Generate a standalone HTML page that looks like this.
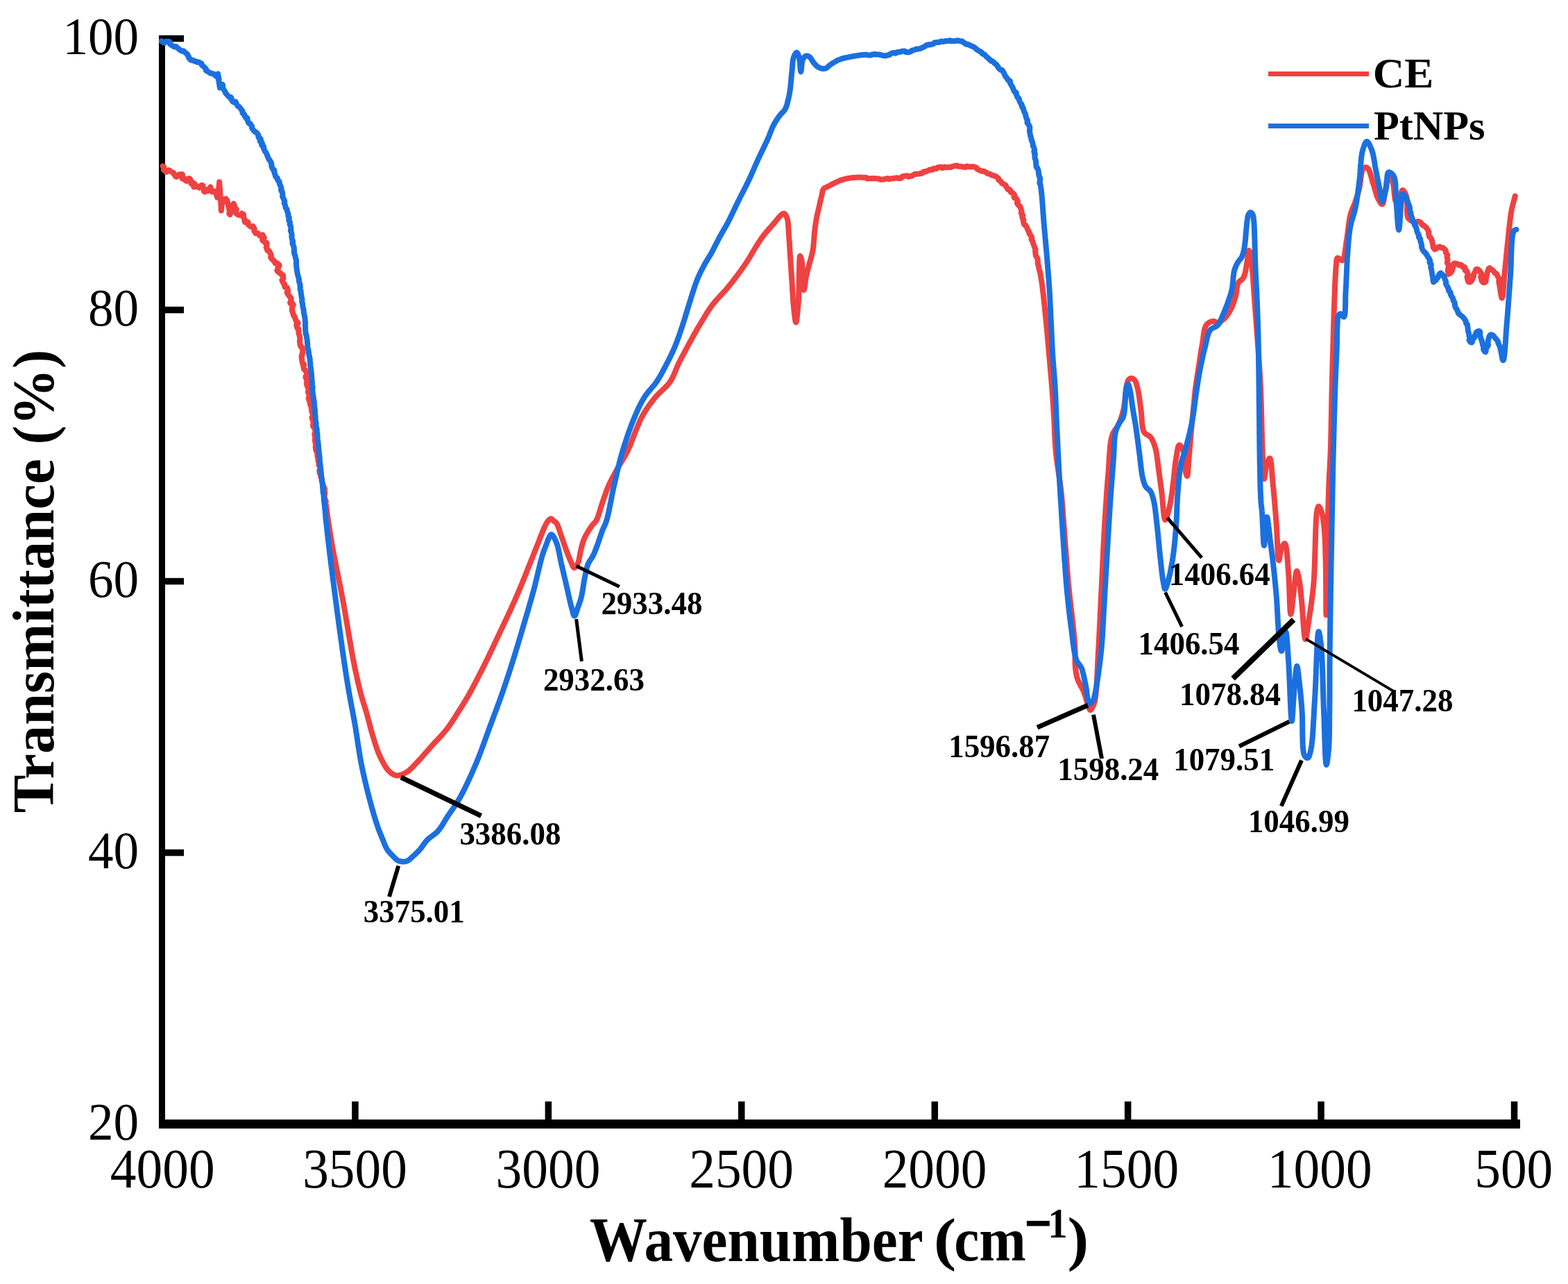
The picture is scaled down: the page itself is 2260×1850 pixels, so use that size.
<!DOCTYPE html>
<html><head><meta charset="utf-8"><title>FTIR spectra</title><style>html,body{margin:0;padding:0;background:#fff;overflow:hidden}svg{display:block}</style></head><body>
<svg xmlns="http://www.w3.org/2000/svg" width="2260" height="1850" viewBox="0 0 2260 1850" font-family="'Liberation Serif', 'Times New Roman', serif">
<rect width="100%" height="100%" fill="#fff"/>
<rect x="229" y="51" width="9" height="1575" fill="#000"/>
<rect x="229" y="1613" width="1962" height="13" fill="#000"/>
<rect x="229" y="50.8" width="36" height="9.5" fill="#000"/>
<rect x="229" y="441.8" width="36" height="9.5" fill="#000"/>
<rect x="229" y="832.8" width="36" height="9.5" fill="#000"/>
<rect x="229" y="1223.8" width="36" height="9.5" fill="#000"/>
<rect x="507.2" y="1587" width="9.5" height="30" fill="#000"/>
<rect x="785.6" y="1587" width="9.5" height="30" fill="#000"/>
<rect x="1064.0" y="1587" width="9.5" height="30" fill="#000"/>
<rect x="1342.5" y="1587" width="9.5" height="30" fill="#000"/>
<rect x="1620.9" y="1587" width="9.5" height="30" fill="#000"/>
<rect x="1899.3" y="1587" width="9.5" height="30" fill="#000"/>
<rect x="2177.8" y="1587" width="9.5" height="30" fill="#000"/>
<path d="M234.7 239.3L236.2 240.0L235.8 244.9L237.3 245.6L238.5 247.1L240.0 247.8L243.0 245.0L244.5 245.7L245.7 246.9L247.2 247.7L248.7 248.2L250.1 249.0L250.8 251.1L252.2 251.9L252.8 254.1L254.2 254.9L257.9 251.3L259.3 252.1L261.7 250.8L263.0 251.4L262.2 257.1L263.6 257.7L265.6 257.2L267.0 257.8L267.6 260.3L268.9 260.9L272.6 257.0L274.0 257.8L274.6 260.1L275.9 261.1L275.3 264.2L276.4 265.1L279.4 263.9L280.5 264.7L279.4 269.4L280.9 269.2L281.8 268.4L283.3 267.7L287.2 270.5L288.6 268.2L290.9 266.7L292.4 267.3L292.7 270.9L294.2 271.5L294.0 275.9L295.5 276.5L298.0 274.5L299.5 275.1L301.8 271.2L303.3 269.4L304.4 274.1L305.8 276.6L308.7 275.3L310.2 276.4L311.2 278.1L312.4 279.3L312.1 281.7L313.0 282.8L313.2 284.6L314.2 284.3L316.2 262.2L317.4 279.1L318.9 303.5L320.2 292.3L321.7 287.2L323.3 288.0L324.1 290.0L325.3 286.4L327.0 287.8L328.2 292.3L330.8 304.4L332.1 300.1L330.3 307.8L331.6 309.1L333.1 301.7L334.4 300.3L335.3 297.4L336.6 293.3L339.7 300.8L340.9 301.6L339.6 306.5L340.9 307.3L341.8 308.7L343.0 309.5L347.2 310.2L348.5 307.3L349.9 308.2L351.1 309.3L350.3 312.3L351.4 313.5L351.8 315.2L352.8 316.4L352.4 318.9L353.4 320.2L356.8 319.5L357.8 320.8L357.5 323.3L358.6 324.5L360.0 325.4L361.1 326.6L364.2 325.8L365.3 326.9L365.7 328.8L366.8 329.9L366.2 332.7L367.2 333.8L367.9 335.3L368.8 336.3L371.5 336.0L372.4 337.1L373.5 338.1L374.3 339.4L378.5 338.4L379.3 339.7L380.0 341.1L380.8 342.4L378.1 345.6L378.8 346.9L380.7 347.6L381.5 349.0L384.1 349.4L384.9 350.9L383.9 353.0L384.5 354.3L383.7 356.4L384.4 357.8L384.7 359.3L385.4 360.8L387.8 361.4L388.5 362.9L389.4 364.3L390.1 365.7L390.4 367.3L391.1 368.7L390.1 370.9L390.8 372.3L392.3 373.1L392.9 374.4L394.6 375.0L395.4 376.5L396.0 378.0L396.8 379.3L399.8 379.2L400.6 380.5L402.0 381.3L402.7 382.6L400.4 385.6L401.1 386.9L399.3 389.6L400.0 391.0L401.8 391.8L402.5 393.2L404.6 393.9L405.3 395.4L407.5 396.1L408.2 397.7L407.9 399.7L408.5 401.1L406.3 403.6L406.9 405.0L407.6 406.4L408.3 407.9L410.0 408.9L410.6 410.4L410.1 412.3L410.7 413.9L413.9 414.4L414.5 415.9L414.6 417.6L415.2 419.2L413.6 421.4L414.1 422.9L415.5 424.0L416.0 425.4L417.3 426.5L417.8 428.0L419.4 429.1L419.8 430.5L419.4 432.2L419.8 433.7L418.1 435.8L418.5 437.3L422.4 437.9L422.8 439.5L421.1 441.7L421.4 443.0L420.9 444.6L421.2 446.0L421.0 447.6L421.4 449.0L422.1 450.4L422.5 451.8L422.7 453.3L423.1 454.8L424.6 456.1L425.0 457.6L425.6 459.0L425.9 460.6L426.9 462.0L427.2 463.5L429.3 464.6L429.6 466.2L427.2 468.3L427.5 469.8L428.1 471.2L428.4 472.7L430.3 473.9L430.6 475.4L430.2 477.0L430.4 478.5L430.5 480.0L430.8 481.4L431.5 482.8L431.7 484.3L432.2 485.8L432.4 487.3L432.0 488.9L432.2 490.3L431.9 491.9L432.1 493.4L432.2 494.9L432.4 496.4L433.2 497.8L433.4 499.3L435.5 500.5L435.7 501.9L435.8 503.4L436.1 504.9L436.4 506.4L436.7 507.8L435.5 509.6L435.8 511.1L434.5 512.8L434.8 514.3L434.7 515.8L435.0 517.3L435.2 518.8L435.4 520.3L435.6 521.7L435.8 523.2L438.0 524.4L438.3 525.9L437.1 527.6L437.4 529.0L437.7 530.5L438.0 532.0L440.3 533.2L440.5 534.6L441.6 536.1L441.9 537.6L442.4 539.1L442.6 540.7L440.4 542.5L440.6 544.1L441.7 545.5L441.9 547.1L442.8 548.5L443.0 550.1L441.8 551.8L442.0 553.4L442.6 554.9L442.8 556.4L444.0 557.8L444.2 559.4L444.5 560.9L444.8 562.5L443.8 564.2L444.1 565.8L445.1 567.2L445.3 568.7L445.5 570.2L445.8 571.7L444.7 573.4L445.0 574.9L445.5 576.3L445.8 577.8L446.6 579.2L446.9 580.7L447.0 582.2L447.3 583.8L448.8 585.0L449.1 586.6L448.8 588.2L449.1 589.8L449.0 591.4L449.3 593.0L450.1 594.5L450.4 596.1L451.1 597.6L451.4 599.3L449.5 601.0L449.7 602.4L450.3 603.8L450.5 605.3L451.7 606.6L451.9 608.2L451.3 609.8L451.5 611.3L450.9 612.9L451.1 614.5L453.1 615.8L453.3 617.4L454.1 618.9L454.3 620.4L454.4 622.0L454.6 623.6L453.2 625.3L453.4 626.9L454.5 628.4L454.7 629.9L453.8 631.6L454.0 633.1L453.9 634.7L454.1 636.2L454.5 637.7L454.7 639.2L455.8 640.6L456.0 642.0L454.6 643.7L454.8 645.1L455.0 646.8L455.2 648.4L456.1 649.9L456.4 651.5L457.5 653.0L457.8 654.6L457.3 656.3L457.6 657.9L458.2 659.5L458.4 661.0L458.4 662.7L458.6 664.2L459.3 665.7L459.6 667.2L459.3 668.8L459.6 670.3L460.9 671.5L461.1 673.0L461.2 674.4L461.5 675.8L460.3 677.5L460.5 678.8L460.5 680.2L460.8 681.9L462.2 683.3L462.6 684.8L462.2 686.4L462.6 687.9L463.7 689.1L464.1 690.4L463.5 692.1L463.9 693.5L464.3 695.0L464.7 696.6L465.6 698.2L466.0 700.0L466.7 701.1L466.9 702.4L467.8 703.5L468.0 704.9L466.9 706.4L467.1 707.8L468.3 709.1L468.5 710.6L467.7 712.2L467.9 713.7L467.5 715.3L467.7 716.9L468.4 718.4L468.6 720.0L469.6 721.5L469.8 723.1L469.2 724.8L469.4 726.4L470.1 728.0L470.3 729.6L470.5 731.3L470.7 732.9L470.9 734.5L471.1 736.2L471.3 737.8L471.5 739.4L471.7 740.9L471.9 742.5L472.1 744.1L472.4 745.6L472.6 747.1L472.8 748.6L473.0 750.0L473.2 751.6L473.5 753.1L473.7 754.6L473.9 756.1L474.1 757.5L474.4 759.0L474.6 760.4L474.8 761.8L475.0 763.2L475.2 764.6L475.5 766.0L475.7 767.4L475.9 768.8L476.1 770.2L476.4 771.6L476.6 773.1L476.8 774.5L477.1 775.9L477.3 777.4L477.6 778.9L477.8 780.4L478.1 781.9L478.3 783.5L478.6 785.0L478.9 786.7L479.2 788.3L479.5 790.0L479.7 791.3L480.0 792.5L480.2 793.8L480.4 795.2L480.7 796.5L480.9 797.8L481.2 799.2L481.5 800.5L481.7 801.9L482.0 803.3L482.3 804.7L482.5 806.1L482.8 807.5L483.1 808.9L483.4 810.4L483.7 811.8L484.0 813.3L484.3 814.7L484.6 816.2L484.9 817.7L485.2 819.2L485.5 820.7L485.8 822.2L486.1 823.7L486.4 825.2L486.7 826.7L487.0 828.3L487.3 829.8L487.6 831.4L487.9 832.9L488.3 834.5L488.6 836.0L488.9 837.6L489.2 839.1L489.5 840.7L489.8 842.3L490.1 843.8L490.5 845.4L490.8 847.0L491.1 848.6L491.4 850.1L491.7 851.7L492.0 853.3L492.3 854.9L492.6 856.4L492.9 858.0L493.2 859.6L493.5 861.2L493.8 862.7L494.1 864.3L494.4 865.7L494.6 867.1L494.9 868.6L495.2 870.0L495.4 871.5L495.7 873.0L495.9 874.5L496.2 876.0L496.5 877.5L496.7 879.0L497.0 880.5L497.3 882.0L497.5 883.6L497.8 885.1L498.1 886.7L498.3 888.2L498.6 889.8L498.9 891.4L499.1 892.9L499.4 894.5L499.7 896.1L499.9 897.7L500.2 899.3L500.5 900.8L500.7 902.4L501.0 904.0L501.3 905.6L501.5 907.2L501.8 908.8L502.1 910.3L502.3 911.9L502.6 913.5L502.9 915.1L503.1 916.6L503.4 918.2L503.7 919.8L503.9 921.3L504.2 922.9L504.5 924.4L504.7 925.9L505.0 927.4L505.2 929.0L505.5 930.5L505.8 932.0L506.0 933.4L506.3 934.9L506.5 936.4L506.8 937.8L507.0 939.3L507.3 940.7L507.6 942.1L507.8 943.5L508.1 944.9L508.3 946.2L508.6 947.6L508.8 948.9L509.1 950.2L509.3 951.5L509.6 952.8L509.8 954.0L510.1 955.3L510.3 956.5L510.7 958.3L511.0 960.0L511.4 961.7L511.7 963.4L512.1 965.1L512.4 966.7L512.7 968.3L513.1 969.9L513.4 971.5L513.8 973.1L514.1 974.6L514.4 976.1L514.8 977.6L515.1 979.1L515.4 980.6L515.8 982.0L516.1 983.5L516.4 984.9L516.8 986.3L517.1 987.7L517.5 989.1L517.8 990.5L518.1 991.9L518.5 993.2L518.8 994.6L519.2 996.0L519.5 997.3L519.8 998.7L520.2 1000.0L520.6 1001.6L521.0 1003.1L521.5 1004.6L521.9 1006.1L522.3 1007.6L522.8 1009.1L523.2 1010.5L523.6 1011.9L524.1 1013.3L524.5 1014.7L524.9 1016.1L525.4 1017.5L525.8 1018.9L526.2 1020.2L526.7 1021.6L527.1 1023.0L527.5 1024.5L528.0 1025.9L528.4 1027.3L528.8 1028.8L529.2 1030.3L529.6 1031.8L530.0 1033.3L530.4 1034.8L530.8 1036.3L531.2 1037.8L531.6 1039.3L532.0 1040.8L532.4 1042.4L532.8 1043.9L533.2 1045.4L533.6 1047.0L534.0 1048.5L534.4 1050.0L534.8 1051.5L535.2 1053.0L535.6 1054.6L536.1 1056.1L536.5 1057.5L536.9 1059.0L537.4 1060.5L537.9 1062.0L538.3 1063.5L538.8 1065.0L539.2 1066.5L539.7 1067.9L540.2 1069.4L540.6 1070.9L541.1 1072.4L541.6 1073.9L542.1 1075.3L542.6 1076.8L543.1 1078.2L543.6 1079.7L544.1 1081.1L544.6 1082.5L545.2 1083.9L545.7 1085.3L546.3 1086.6L546.9 1088.0L547.5 1089.3L548.2 1090.8L548.9 1092.3L549.7 1093.8L550.4 1095.3L551.2 1096.9L552.0 1098.4L552.8 1099.8L553.6 1101.3L554.4 1102.7L555.2 1104.1L556.1 1105.4L556.9 1106.6L557.8 1107.8L558.7 1108.9L559.6 1110.0L560.5 1110.9L561.8 1112.2L563.2 1113.3L564.6 1114.4L566.0 1115.3L567.5 1116.1L569.0 1116.7L570.5 1117.2L572.0 1117.4L573.4 1117.4L574.8 1117.3L576.2 1117.0L577.7 1116.5L579.2 1116.0L580.7 1115.4L582.2 1114.7L583.6 1113.9L585.0 1113.1L586.4 1112.3L587.6 1111.5L588.7 1110.7L589.8 1109.8L590.9 1108.9L591.9 1107.9L593.0 1106.9L594.0 1105.8L595.1 1104.7L596.2 1103.6L597.3 1102.4L598.4 1101.2L599.6 1100.0L600.5 1099.1L601.4 1098.1L602.4 1097.1L603.4 1096.0L604.3 1095.0L605.3 1093.9L606.4 1092.7L607.4 1091.6L608.4 1090.5L609.4 1089.3L610.5 1088.1L611.5 1086.9L612.6 1085.7L613.6 1084.5L614.7 1083.3L615.8 1082.1L616.8 1080.9L617.9 1079.7L618.9 1078.5L619.9 1077.3L621.0 1076.1L622.0 1075.0L623.0 1073.9L624.1 1072.7L625.1 1071.6L626.1 1070.5L627.2 1069.3L628.2 1068.2L629.3 1067.1L630.4 1066.0L631.4 1064.8L632.5 1063.7L633.5 1062.6L634.6 1061.5L635.6 1060.3L636.6 1059.2L637.6 1058.1L638.7 1056.9L639.6 1055.8L640.6 1054.6L641.6 1053.5L642.6 1052.3L643.5 1051.2L644.4 1050.0L645.3 1048.8L646.2 1047.6L647.1 1046.3L648.0 1045.1L648.9 1043.9L649.7 1042.6L650.6 1041.4L651.4 1040.1L652.2 1038.9L653.0 1037.6L653.9 1036.3L654.7 1035.1L655.5 1033.8L656.2 1032.6L657.0 1031.3L657.8 1030.0L658.6 1028.8L659.4 1027.5L660.2 1026.3L661.0 1025.0L661.8 1023.7L662.7 1022.4L663.5 1021.1L664.3 1019.8L665.2 1018.5L666.0 1017.1L666.8 1015.8L667.6 1014.5L668.4 1013.2L669.2 1011.9L670.0 1010.6L670.8 1009.3L671.6 1007.9L672.4 1006.6L673.2 1005.3L674.0 1004.0L674.8 1002.7L675.5 1001.3L676.3 1000.0L677.1 998.6L677.8 997.2L678.6 995.9L679.4 994.5L680.1 993.1L680.9 991.7L681.6 990.3L682.3 988.9L683.0 987.5L683.8 986.1L684.5 984.8L685.2 983.4L685.9 982.0L686.6 980.6L687.4 979.2L688.1 977.8L688.8 976.4L689.5 975.0L690.2 973.6L690.9 972.2L691.6 970.8L692.3 969.5L693.1 968.1L693.8 966.7L694.5 965.3L695.2 963.9L695.9 962.5L696.6 961.1L697.3 959.7L698.0 958.3L698.7 957.0L699.4 955.6L700.0 954.2L700.7 952.8L701.4 951.4L702.1 950.0L702.8 948.6L703.5 947.2L704.1 945.8L704.8 944.5L705.5 943.1L706.1 941.7L706.8 940.3L707.4 938.9L708.1 937.5L708.8 936.1L709.4 934.7L710.1 933.3L710.7 931.9L711.4 930.6L712.0 929.2L712.7 927.8L713.3 926.4L714.0 925.0L714.7 923.6L715.3 922.2L716.0 920.8L716.6 919.4L717.3 918.1L717.9 916.7L718.6 915.3L719.3 913.9L719.9 912.5L720.6 911.1L721.2 909.7L721.9 908.3L722.5 907.0L723.2 905.6L723.8 904.2L724.5 902.8L725.1 901.4L725.8 900.0L726.5 898.6L727.1 897.2L727.8 895.8L728.4 894.5L729.1 893.1L729.7 891.7L730.4 890.3L731.0 889.0L731.7 887.6L732.3 886.2L733.0 884.8L733.6 883.4L734.3 882.0L735.0 880.6L735.6 879.2L736.3 877.7L736.9 876.3L737.6 874.8L738.2 873.5L738.8 872.1L739.4 870.7L740.0 869.4L740.7 868.0L741.3 866.6L741.9 865.2L742.5 863.8L743.1 862.3L743.8 860.9L744.4 859.5L745.0 858.0L745.6 856.6L746.2 855.2L746.9 853.7L747.5 852.3L748.1 850.8L748.7 849.4L749.3 848.0L749.9 846.5L750.5 845.1L751.1 843.7L751.7 842.3L752.3 840.9L752.9 839.5L753.4 838.1L754.0 836.6L754.6 835.2L755.1 833.8L755.7 832.4L756.3 831.0L756.8 829.6L757.4 828.2L758.0 826.7L758.5 825.3L759.1 823.9L759.7 822.5L760.2 821.1L760.8 819.7L761.3 818.3L761.9 816.8L762.5 815.4L763.0 814.0L763.6 812.6L764.2 811.2L764.7 809.7L765.3 808.3L765.9 806.9L766.5 805.4L767.1 804.0L767.6 802.5L768.2 801.0L768.8 799.6L769.4 798.1L770.0 796.7L770.5 795.2L771.1 793.8L771.7 792.4L772.2 790.9L772.8 789.5L773.4 788.1L773.9 786.8L774.4 785.4L775.0 784.1L775.5 782.8L776.0 781.5L776.6 779.9L777.3 778.2L777.9 776.6L778.5 775.0L779.1 773.4L779.7 771.9L780.3 770.3L780.9 768.8L781.5 767.4L782.1 765.9L782.6 764.5L783.2 763.2L783.7 761.9L784.3 760.7L785.1 759.1L785.8 757.5L786.5 756.0L787.2 754.6L787.9 753.3L788.7 752.1L789.5 751.0L791.0 749.3L792.6 747.9L794.2 747.3L795.7 748.0L797.1 749.6L798.5 751.0L800.1 751.8L801.6 753.0L802.1 753.8L802.7 754.7L803.2 755.8L803.8 757.1L804.4 758.5L805.0 760.1L805.5 761.7L806.1 763.4L806.7 765.1L807.3 766.8L807.8 768.6L808.4 770.3L809.0 772.0L809.5 773.6L810.0 775.1L810.5 776.5L811.1 778.1L811.6 779.6L812.1 781.1L812.6 782.6L813.1 784.0L813.6 785.5L814.1 786.9L814.6 788.3L815.1 789.7L815.6 791.2L816.1 792.6L816.7 794.1L817.2 795.6L817.8 797.1L818.4 798.7L819.0 800.2L819.6 801.7L820.2 803.2L820.8 804.6L821.4 806.1L822.0 807.4L822.6 808.7L823.4 810.6L824.2 812.6L825.0 814.6L825.8 816.2L826.6 817.4L827.4 818.0L828.6 817.6L829.9 816.4L831.0 815.0L831.9 813.7L832.6 812.2L833.3 810.6L833.9 808.7L834.3 807.4L834.6 806.0L834.9 804.4L835.2 802.8L835.5 801.1L835.8 799.4L836.1 797.7L836.4 795.9L836.7 794.2L837.1 792.6L837.5 791.1L837.8 789.6L838.2 788.1L838.6 786.6L839.0 785.1L839.5 783.6L839.9 782.1L840.4 780.7L840.9 779.3L841.4 777.9L841.9 776.5L842.6 774.9L843.5 773.2L844.4 771.4L845.4 769.6L846.3 768.0L847.1 766.6L847.8 765.4L848.2 764.7L848.4 764.4L848.4 764.4L848.4 764.4L848.7 764.0L849.4 762.9L850.5 761.3L851.7 759.5L852.9 757.8L854.0 756.3L855.1 755.1L856.2 754.0L857.3 752.9L858.3 751.6L859.4 750.0L859.9 749.0L860.5 747.9L861.0 746.6L861.5 745.3L862.0 743.9L862.5 742.5L863.0 741.0L863.5 739.4L864.0 737.8L864.5 736.2L865.0 734.5L865.5 732.9L866.0 731.3L866.5 729.6L867.0 728.0L867.5 726.5L868.0 725.0L868.5 723.5L869.0 722.1L869.5 720.6L870.0 719.1L870.5 717.6L871.0 716.1L871.5 714.7L872.1 713.2L872.6 711.7L873.1 710.2L873.6 708.8L874.2 707.3L874.7 705.8L875.3 704.4L875.9 702.9L876.5 701.5L877.1 700.0L877.7 698.6L878.4 697.2L879.0 695.8L879.7 694.4L880.4 693.0L881.1 691.6L881.8 690.2L882.5 688.8L883.2 687.4L884.0 686.1L884.7 684.7L885.5 683.3L886.2 681.9L887.0 680.5L887.7 679.1L888.5 677.8L889.2 676.4L890.0 675.0L890.7 673.7L891.5 672.4L892.2 671.1L892.9 669.9L893.7 668.6L894.4 667.4L895.2 666.2L895.9 664.9L896.7 663.7L897.4 662.5L898.2 661.2L899.0 659.9L899.7 658.6L900.5 657.3L901.3 655.9L902.1 654.5L902.8 653.0L903.6 651.5L904.4 650.0L905.0 648.8L905.5 647.6L906.1 646.4L906.7 645.1L907.2 643.8L907.8 642.5L908.4 641.2L908.9 639.8L909.5 638.4L910.1 637.0L910.7 635.5L911.2 634.0L911.8 632.6L912.4 631.1L913.0 629.6L913.6 628.1L914.1 626.6L914.7 625.1L915.3 623.6L915.9 622.0L916.5 620.5L917.1 619.0L917.7 617.6L918.3 616.1L918.9 614.6L919.5 613.2L920.1 611.7L920.7 610.3L921.3 608.9L921.9 607.6L922.5 606.2L923.1 604.9L923.7 603.6L924.3 602.4L925.0 601.2L925.6 600.0L926.4 598.5L927.3 597.0L928.1 595.6L928.9 594.2L929.8 592.8L930.6 591.4L931.5 590.1L932.3 588.8L933.2 587.5L934.0 586.3L934.9 585.0L935.8 583.8L936.6 582.6L937.5 581.3L938.4 580.1L939.3 579.0L940.2 577.8L941.2 576.6L942.1 575.4L943.0 574.2L944.0 573.0L945.0 571.8L946.0 570.7L947.0 569.6L948.1 568.5L949.2 567.4L950.3 566.3L951.4 565.2L952.5 564.2L953.6 563.1L954.7 562.1L955.9 561.0L957.0 560.0L958.1 558.9L959.2 557.9L960.2 556.8L961.3 555.7L962.3 554.6L963.2 553.5L964.2 552.4L965.1 551.2L965.9 550.0L966.7 548.7L967.5 547.4L968.3 546.1L969.0 544.8L969.7 543.4L970.3 542.0L970.9 540.7L971.5 539.3L972.1 537.9L972.7 536.5L973.3 535.1L973.8 533.7L974.4 532.2L975.0 530.8L975.5 529.5L976.1 528.1L976.7 526.7L977.4 525.3L978.0 524.0L978.7 522.6L979.4 521.3L980.0 520.0L980.7 518.6L981.4 517.3L982.0 516.0L982.7 514.7L983.4 513.4L984.1 512.1L984.8 510.8L985.5 509.5L986.2 508.2L986.9 506.8L987.6 505.5L988.4 504.2L989.1 502.8L989.8 501.4L990.6 500.0L991.3 498.7L992.0 497.4L992.7 496.1L993.4 494.8L994.1 493.5L994.9 492.2L995.6 490.8L996.4 489.5L997.1 488.1L997.9 486.7L998.6 485.4L999.4 484.0L1000.1 482.6L1000.9 481.2L1001.7 479.9L1002.5 478.5L1003.3 477.1L1004.0 475.7L1004.8 474.4L1005.6 473.0L1006.4 471.7L1007.2 470.3L1008.0 469.0L1008.8 467.7L1009.6 466.3L1010.4 465.0L1011.2 463.7L1012.0 462.3L1012.8 461.0L1013.6 459.7L1014.4 458.3L1015.2 457.0L1016.0 455.7L1016.8 454.4L1017.6 453.0L1018.4 451.7L1019.2 450.4L1020.1 449.1L1020.9 447.8L1021.8 446.5L1022.6 445.3L1023.5 444.0L1024.4 442.7L1025.3 441.5L1026.2 440.2L1027.1 439.0L1028.0 437.8L1028.9 436.6L1029.9 435.5L1030.8 434.3L1031.8 433.2L1032.8 432.1L1033.8 431.0L1034.8 429.9L1035.8 428.8L1036.8 427.7L1037.8 426.6L1038.8 425.5L1039.9 424.4L1040.9 423.3L1041.9 422.2L1042.9 421.1L1043.9 420.0L1045.0 418.9L1046.0 417.7L1047.0 416.6L1048.0 415.4L1049.0 414.2L1050.0 413.0L1050.9 411.9L1051.8 410.7L1052.8 409.5L1053.7 408.4L1054.7 407.2L1055.6 406.0L1056.6 404.7L1057.5 403.5L1058.4 402.3L1059.4 401.0L1060.3 399.8L1061.3 398.5L1062.2 397.3L1063.2 396.0L1064.1 394.8L1065.0 393.5L1065.9 392.3L1066.9 391.0L1067.8 389.8L1068.7 388.5L1069.5 387.3L1070.4 386.0L1071.3 384.8L1072.1 383.6L1073.0 382.4L1073.8 381.2L1074.6 380.0L1075.5 378.7L1076.4 377.3L1077.3 375.9L1078.1 374.6L1079.0 373.2L1079.9 371.8L1080.7 370.4L1081.5 369.0L1082.3 367.7L1083.2 366.3L1083.9 365.0L1084.7 363.6L1085.5 362.3L1086.3 361.0L1087.0 359.8L1087.8 358.5L1088.5 357.3L1089.2 356.1L1089.9 355.0L1090.6 353.9L1091.3 352.8L1092.3 351.3L1093.1 349.9L1094.0 348.6L1094.8 347.4L1095.6 346.1L1096.4 344.9L1097.3 343.7L1098.1 342.5L1099.0 341.3L1100.0 340.0L1100.9 338.9L1101.8 337.7L1102.7 336.6L1103.6 335.4L1104.6 334.3L1105.6 333.1L1106.6 331.9L1107.6 330.8L1108.6 329.6L1109.6 328.4L1110.7 327.3L1111.7 326.1L1112.8 324.9L1113.8 323.8L1114.8 322.6L1115.9 321.3L1117.1 320.0L1118.2 318.5L1119.4 317.1L1120.6 315.6L1121.8 314.2L1123.0 312.8L1124.1 311.6L1125.3 310.4L1126.3 309.4L1127.3 308.6L1128.3 308.0L1129.1 307.7L1129.9 307.6L1131.1 308.1L1132.1 309.2L1133.0 310.8L1133.8 312.7L1134.5 314.6L1134.9 315.7L1135.2 316.9L1135.4 318.2L1135.6 319.6L1135.8 321.0L1136.0 322.6L1136.1 324.1L1136.2 325.7L1136.3 327.4L1136.4 329.1L1136.5 330.8L1136.6 332.5L1136.7 334.2L1136.8 335.9L1136.9 337.6L1137.0 339.0L1137.1 340.3L1137.2 341.8L1137.3 343.2L1137.4 344.6L1137.5 346.1L1137.7 347.6L1137.8 349.1L1137.9 350.6L1137.9 352.1L1138.0 353.6L1138.1 355.2L1138.2 356.7L1138.3 358.3L1138.4 359.8L1138.5 361.4L1138.6 362.9L1138.7 364.5L1138.8 366.0L1138.9 367.5L1139.0 369.1L1139.1 370.6L1139.2 372.1L1139.3 373.6L1139.4 375.1L1139.5 376.6L1139.6 378.1L1139.7 379.6L1139.8 381.1L1139.9 382.6L1140.0 384.1L1140.1 385.6L1140.2 387.1L1140.3 388.6L1140.4 390.2L1140.5 391.7L1140.6 393.2L1140.7 394.7L1140.8 396.2L1140.9 397.7L1141.0 399.2L1141.1 400.7L1141.2 402.2L1141.3 403.7L1141.4 405.2L1141.5 406.7L1141.6 408.2L1141.7 409.7L1141.8 411.3L1141.9 412.8L1142.0 414.3L1142.0 415.9L1142.1 417.4L1142.2 419.0L1142.3 420.5L1142.4 422.1L1142.5 423.6L1142.6 425.2L1142.7 426.7L1142.8 428.2L1142.9 429.7L1143.0 431.2L1143.1 432.7L1143.2 434.2L1143.3 435.6L1143.4 437.0L1143.5 438.5L1143.7 439.8L1143.8 441.2L1144.0 443.0L1144.2 444.9L1144.4 446.9L1144.6 448.9L1144.8 451.0L1145.1 453.0L1145.3 455.0L1145.6 456.9L1145.8 458.6L1146.0 460.2L1146.3 461.6L1146.5 462.7L1146.7 463.6L1147.0 464.1L1147.2 464.3L1147.4 464.1L1147.6 463.7L1147.8 463.0L1148.0 462.1L1148.2 460.9L1148.4 459.6L1148.6 458.0L1148.8 456.4L1149.0 454.6L1149.2 452.7L1149.4 450.8L1149.6 448.8L1149.8 446.8L1150.0 444.8L1150.1 442.8L1150.3 440.8L1150.4 438.9L1150.6 437.2L1150.7 435.5L1150.8 434.0L1150.9 432.5L1151.0 431.0L1151.1 429.5L1151.1 428.0L1151.2 426.5L1151.2 424.9L1151.3 423.3L1151.3 421.8L1151.4 420.2L1151.4 418.6L1151.4 417.0L1151.4 415.5L1151.5 413.9L1151.5 412.3L1151.5 410.7L1151.6 409.2L1151.6 407.6L1151.6 406.1L1151.7 404.5L1151.7 403.0L1151.7 401.5L1151.8 400.0L1151.9 398.3L1151.9 396.5L1151.9 394.7L1152.0 392.7L1152.0 390.7L1152.0 388.6L1152.1 386.6L1152.1 384.5L1152.1 382.5L1152.2 380.6L1152.2 378.7L1152.3 376.9L1152.3 375.3L1152.4 373.8L1152.5 372.4L1152.6 371.3L1152.7 370.3L1152.9 369.6L1153.0 369.2L1153.2 369.0L1153.7 369.5L1154.3 370.8L1154.9 372.8L1155.5 375.0L1155.7 375.9L1155.8 377.1L1156.0 378.4L1156.1 379.8L1156.2 381.4L1156.4 383.1L1156.5 385.0L1156.6 386.9L1156.7 388.9L1156.7 390.9L1156.8 393.0L1156.9 395.1L1157.0 397.3L1157.0 399.4L1157.1 401.4L1157.2 403.5L1157.3 405.4L1157.3 407.3L1157.4 409.1L1157.5 410.8L1157.6 412.3L1157.7 413.7L1157.8 415.0L1157.9 416.0L1158.0 416.8L1158.1 417.5L1158.3 417.9L1158.4 418.0L1158.6 417.8L1158.9 417.2L1159.1 416.2L1159.4 414.9L1159.6 413.4L1159.9 411.7L1160.2 409.8L1160.5 407.9L1160.7 405.9L1161.0 403.9L1161.3 401.9L1161.6 400.1L1161.9 398.5L1162.2 397.0L1162.6 395.4L1162.9 393.9L1163.3 392.4L1163.6 391.0L1164.0 389.6L1164.4 388.2L1164.8 386.8L1165.2 385.2L1165.6 383.6L1166.0 382.3L1166.3 380.9L1166.7 379.4L1167.1 378.0L1167.6 376.5L1168.0 375.0L1168.4 373.4L1168.9 371.9L1169.3 370.3L1169.7 368.7L1170.1 367.1L1170.5 365.5L1170.9 363.9L1171.2 362.2L1171.5 360.6L1171.7 359.2L1172.0 357.7L1172.2 356.2L1172.3 354.7L1172.5 353.1L1172.6 351.6L1172.8 350.0L1172.9 348.4L1173.0 346.9L1173.1 345.3L1173.3 343.7L1173.4 342.2L1173.5 340.6L1173.6 339.1L1173.7 337.6L1173.8 336.1L1174.0 334.6L1174.1 333.2L1174.3 331.8L1174.5 330.1L1174.7 328.5L1174.9 326.9L1175.1 325.3L1175.4 323.7L1175.6 322.2L1175.8 320.7L1176.1 319.2L1176.3 317.7L1176.5 316.2L1176.8 314.8L1177.0 313.4L1177.3 312.0L1177.6 310.4L1178.0 308.8L1178.3 307.3L1178.7 305.9L1179.0 304.4L1179.4 303.0L1179.8 301.5L1180.1 300.0L1180.5 298.5L1180.8 297.0L1181.2 295.4L1181.5 293.8L1181.9 292.2L1182.2 290.6L1182.6 289.1L1182.9 287.5L1183.3 285.9L1183.6 284.4L1184.0 283.0L1184.4 281.3L1184.8 279.5L1185.1 277.7L1185.5 276.0L1185.9 274.5L1186.5 273.1L1187.2 272.0L1188.6 270.8L1190.3 270.1L1192.4 269.2L1193.5 268.6L1194.7 268.0L1196.0 267.3L1197.4 266.5L1198.8 265.7L1200.3 264.9L1201.9 264.1L1203.4 263.3L1205.0 262.5L1206.6 261.8L1208.1 261.1L1209.6 260.5L1211.1 259.9L1212.6 259.4L1214.2 258.9L1215.7 258.5L1217.2 258.1L1218.7 257.7L1220.3 257.3L1221.9 257.0L1223.5 256.7L1225.2 256.4L1226.9 256.2L1228.3 256.0L1229.7 255.9L1231.2 255.8L1232.7 255.7L1234.3 255.7L1235.9 255.6L1237.5 255.6L1239.1 255.6L1240.7 255.6L1242.3 255.7L1243.9 255.7L1245.5 255.8L1247.0 255.8L1248.6 255.9L1250.0 257.3L1251.4 257.4L1252.8 257.1L1254.5 257.3L1256.3 256.9L1257.9 257.2L1259.6 256.9L1261.3 257.2L1262.9 257.3L1264.4 257.5L1266.0 257.4L1267.4 257.6L1268.7 258.7L1270.1 258.8L1271.9 258.6L1273.5 258.6L1275.0 257.9L1276.5 257.8L1278.1 257.3L1279.9 257.1L1281.4 258.1L1282.8 258.0L1284.3 257.3L1285.8 257.1L1287.4 257.2L1289.0 256.9L1290.6 256.4L1292.3 256.1L1294.2 257.0L1295.8 256.7L1297.6 256.9L1299.0 256.6L1300.1 254.5L1301.6 254.2L1303.0 253.7L1304.5 253.5L1306.1 253.4L1307.6 253.1L1309.4 254.5L1311.0 254.2L1312.5 253.9L1314.1 253.6L1315.4 252.3L1316.9 251.9L1318.2 250.9L1319.7 250.5L1321.5 250.9L1323.0 250.5L1324.7 250.6L1326.2 250.1L1327.9 250.0L1329.4 249.5L1330.4 247.7L1331.9 247.2L1333.7 247.4L1335.2 246.9L1336.6 246.2L1338.1 245.7L1339.4 244.7L1340.9 244.3L1342.7 244.9L1344.1 244.6L1345.4 242.9L1346.9 242.6L1348.5 243.0L1350.1 242.8L1351.4 241.3L1353.0 241.1L1354.5 240.7L1356.0 240.5L1357.7 242.1L1359.2 241.9L1360.5 240.7L1362.0 240.5L1363.5 241.3L1364.9 241.2L1366.5 240.9L1368.0 240.7L1369.6 241.1L1371.1 240.9L1372.5 239.8L1373.9 239.6L1375.4 239.1L1376.8 239.0L1378.3 238.6L1379.8 238.6L1381.3 239.8L1382.8 239.8L1384.3 239.7L1385.8 239.7L1387.2 240.5L1388.7 240.6L1390.2 240.8L1391.7 241.0L1393.4 239.4L1394.9 239.6L1396.3 240.2L1397.8 240.5L1399.5 239.9L1401.1 240.2L1402.7 240.1L1404.2 240.5L1405.8 240.9L1407.3 241.3L1408.2 243.6L1409.7 244.0L1411.0 245.0L1412.5 245.5L1413.9 246.3L1415.4 246.8L1417.3 246.4L1418.8 247.0L1420.2 247.9L1421.6 248.5L1422.9 249.7L1424.4 250.4L1426.1 250.4L1427.5 251.1L1428.8 252.0L1430.2 252.7L1431.9 252.8L1433.3 253.6L1435.0 254.0L1436.4 254.8L1437.6 256.0L1439.0 256.9L1439.3 259.2L1440.5 260.1L1441.7 260.8L1442.8 261.8L1443.4 263.3L1444.5 264.3L1446.2 264.8L1447.3 265.8L1448.9 266.4L1450.0 267.5L1450.3 269.3L1451.3 270.5L1452.0 271.9L1453.0 273.1L1455.3 273.1L1456.3 274.3L1456.4 276.2L1457.3 277.4L1459.5 277.7L1460.4 279.0L1461.7 280.0L1462.5 281.3L1461.4 283.9L1462.2 285.2L1464.6 285.6L1465.4 287.0L1466.2 288.5L1467.0 289.9L1465.8 292.4L1466.4 293.7L1467.8 294.7L1468.3 296.0L1470.0 297.0L1470.5 298.5L1471.2 299.9L1471.7 301.4L1472.1 302.9L1472.6 304.4L1471.7 306.4L1472.2 307.9L1473.8 309.1L1474.3 310.6L1473.2 312.7L1473.6 314.2L1474.9 315.5L1475.4 317.0L1474.8 318.9L1475.3 320.4L1475.6 322.0L1476.2 323.4L1478.1 324.4L1478.7 325.8L1479.8 327.0L1480.4 328.5L1480.8 330.0L1481.4 331.4L1482.7 332.6L1483.3 334.0L1483.2 335.8L1483.8 337.2L1485.2 338.2L1485.9 339.7L1486.8 341.0L1487.4 342.4L1486.5 344.4L1487.0 345.9L1488.2 347.1L1488.7 348.5L1488.9 350.0L1489.4 351.5L1490.0 352.9L1490.4 354.4L1491.1 355.8L1491.5 357.2L1492.3 358.6L1492.7 360.1L1492.0 361.8L1492.4 363.3L1492.3 364.8L1492.6 366.3L1492.8 367.8L1493.2 369.3L1494.6 370.5L1494.9 372.0L1495.5 373.4L1495.8 374.9L1495.7 376.5L1496.0 378.0L1495.8 379.6L1496.1 381.1L1496.7 382.6L1497.0 384.1L1497.3 385.6L1497.6 387.1L1497.9 388.6L1498.2 390.1L1499.0 391.5L1499.3 393.0L1499.4 394.6L1499.7 396.1L1500.1 397.6L1500.2 399.2L1500.5 400.7L1500.7 402.3L1501.0 403.8L1501.3 405.4L1501.5 407.0L1501.7 408.5L1501.9 410.0L1502.2 411.5L1502.4 413.0L1502.6 414.5L1502.7 416.1L1502.9 417.6L1503.1 419.1L1503.3 420.7L1503.5 422.2L1503.7 423.8L1503.8 425.3L1504.0 426.9L1504.2 428.5L1504.3 430.0L1504.5 431.6L1504.7 433.2L1504.8 434.7L1505.0 436.3L1505.2 437.9L1505.3 439.4L1505.5 441.0L1505.7 442.5L1505.8 444.0L1506.0 445.5L1506.1 447.1L1506.3 448.6L1506.5 450.1L1506.6 451.6L1506.8 453.2L1506.9 454.7L1507.1 456.2L1507.2 457.7L1507.4 459.3L1507.5 460.8L1507.7 462.3L1507.8 463.8L1508.0 465.4L1508.1 466.9L1508.3 468.4L1508.4 469.9L1508.6 471.5L1508.7 473.0L1508.9 474.5L1509.0 476.0L1509.1 477.6L1509.3 479.1L1509.4 480.6L1509.6 482.2L1509.7 483.7L1509.8 485.2L1510.0 486.8L1510.1 488.3L1510.2 489.8L1510.4 491.3L1510.5 492.9L1510.6 494.4L1510.8 495.9L1510.9 497.5L1511.0 499.0L1511.2 500.5L1511.3 502.1L1511.4 503.7L1511.6 505.2L1511.7 506.8L1511.9 508.4L1512.0 510.0L1512.1 511.5L1512.3 513.0L1512.4 514.4L1512.5 515.9L1512.7 517.4L1512.8 518.9L1512.9 520.4L1513.1 521.9L1513.2 523.4L1513.3 524.9L1513.5 526.5L1513.6 528.0L1513.8 529.5L1513.9 531.1L1514.0 532.6L1514.2 534.1L1514.3 535.7L1514.4 537.3L1514.6 538.8L1514.7 540.4L1514.8 542.0L1515.0 543.6L1515.1 545.2L1515.2 546.8L1515.4 548.4L1515.5 550.0L1515.6 551.4L1515.7 552.9L1515.8 554.3L1515.9 555.8L1516.1 557.3L1516.2 558.7L1516.3 560.2L1516.4 561.7L1516.5 563.2L1516.6 564.7L1516.7 566.3L1516.8 567.8L1516.9 569.3L1517.1 570.8L1517.2 572.3L1517.3 573.9L1517.4 575.4L1517.5 577.0L1517.6 578.5L1517.7 580.0L1517.8 581.6L1517.9 583.1L1518.0 584.7L1518.1 586.2L1518.2 587.8L1518.3 589.3L1518.4 590.8L1518.5 592.4L1518.6 593.9L1518.7 595.4L1518.8 597.0L1518.9 598.5L1519.0 600.0L1519.1 601.5L1519.2 603.0L1519.3 604.5L1519.3 606.0L1519.4 607.5L1519.5 609.0L1519.5 610.5L1519.6 612.0L1519.7 613.5L1519.7 615.0L1519.8 616.5L1519.9 618.0L1519.9 619.5L1520.0 621.0L1520.0 622.5L1520.1 624.0L1520.2 625.5L1520.2 627.0L1520.3 628.5L1520.4 630.0L1520.4 631.5L1520.5 633.0L1520.6 634.6L1520.7 636.1L1520.8 637.6L1520.9 639.1L1521.0 640.7L1521.1 642.2L1521.2 643.8L1521.3 645.3L1521.4 646.9L1521.6 648.4L1521.7 650.0L1521.8 651.5L1522.0 652.9L1522.1 654.4L1522.3 655.8L1522.5 657.3L1522.6 658.8L1522.8 660.2L1523.0 661.7L1523.2 663.2L1523.4 664.7L1523.6 666.2L1523.8 667.7L1524.0 669.1L1524.2 670.6L1524.4 672.1L1524.7 673.6L1524.9 675.1L1525.1 676.6L1525.3 678.2L1525.6 679.7L1525.8 681.2L1526.0 682.7L1526.2 684.2L1526.5 685.7L1526.7 687.3L1526.9 688.8L1527.1 690.3L1527.3 691.9L1527.6 693.4L1527.8 695.0L1528.0 696.5L1528.2 698.1L1528.4 699.6L1528.6 701.2L1528.8 702.7L1529.0 704.3L1529.2 705.9L1529.3 707.4L1529.5 709.0L1529.7 710.4L1529.8 711.9L1529.9 713.3L1530.1 714.8L1530.2 716.3L1530.4 717.7L1530.5 719.2L1530.6 720.7L1530.8 722.1L1530.9 723.6L1531.0 725.1L1531.2 726.6L1531.3 728.1L1531.4 729.6L1531.5 731.1L1531.6 732.6L1531.8 734.1L1531.9 735.6L1532.0 737.1L1532.1 738.6L1532.2 740.1L1532.3 741.6L1532.4 743.2L1532.5 744.7L1532.7 746.2L1532.8 747.7L1532.9 749.2L1533.0 750.7L1533.1 752.3L1533.2 753.8L1533.3 755.3L1533.4 756.8L1533.5 758.3L1533.6 759.9L1533.8 761.4L1533.9 762.9L1534.0 764.4L1534.1 765.9L1534.2 767.4L1534.3 769.0L1534.4 770.5L1534.5 772.0L1534.6 773.5L1534.8 775.0L1534.9 776.5L1535.0 778.0L1535.1 779.5L1535.2 781.0L1535.4 782.5L1535.5 784.0L1535.6 785.5L1535.7 787.0L1535.8 788.6L1535.9 790.1L1536.1 791.6L1536.2 793.1L1536.3 794.6L1536.4 796.2L1536.5 797.7L1536.6 799.2L1536.7 800.7L1536.8 802.2L1537.0 803.8L1537.1 805.3L1537.2 806.8L1537.3 808.3L1537.4 809.8L1537.5 811.4L1537.6 812.9L1537.8 814.4L1537.9 815.9L1538.0 817.4L1538.1 818.9L1538.2 820.4L1538.3 821.9L1538.5 823.5L1538.6 825.0L1538.7 826.4L1538.8 827.9L1538.9 829.4L1539.1 830.9L1539.2 832.4L1539.3 833.9L1539.4 835.4L1539.6 836.8L1539.7 838.3L1539.8 839.8L1540.0 841.2L1540.1 842.7L1540.2 844.1L1540.4 845.6L1540.5 847.0L1540.7 848.6L1540.8 850.2L1541.0 851.8L1541.1 853.4L1541.3 855.0L1541.5 856.6L1541.7 858.3L1541.8 859.9L1542.0 861.5L1542.2 863.1L1542.4 864.7L1542.6 866.3L1542.8 867.9L1542.9 869.6L1543.1 871.2L1543.3 872.8L1543.5 874.3L1543.7 875.9L1543.9 877.5L1544.1 879.1L1544.3 880.6L1544.4 882.2L1544.6 883.7L1544.8 885.2L1545.0 886.8L1545.2 888.3L1545.3 889.7L1545.5 891.2L1545.7 892.7L1545.8 894.1L1546.0 895.5L1546.2 897.0L1546.3 898.3L1546.5 899.7L1546.6 901.1L1546.7 902.4L1546.9 903.7L1547.0 905.0L1547.2 906.7L1547.3 908.4L1547.5 910.1L1547.7 911.7L1547.8 913.2L1548.0 914.8L1548.1 916.3L1548.2 917.8L1548.4 919.3L1548.5 920.8L1548.6 922.2L1548.8 923.7L1548.9 925.1L1549.0 926.5L1549.1 927.9L1549.2 929.3L1549.3 930.7L1549.4 932.2L1549.4 933.6L1549.5 935.0L1549.6 936.6L1549.6 938.3L1549.6 939.9L1549.6 941.5L1549.6 943.1L1549.6 944.7L1549.6 946.3L1549.5 947.9L1549.5 949.5L1549.5 951.0L1549.5 952.6L1549.5 954.1L1549.5 955.6L1549.6 957.1L1549.7 958.6L1549.8 960.0L1550.0 961.6L1550.1 963.2L1550.3 964.7L1550.5 966.2L1550.7 967.7L1550.9 969.2L1551.2 970.7L1551.5 972.1L1551.8 973.6L1552.1 975.1L1552.5 976.5L1553.0 978.0L1553.5 979.4L1554.0 980.7L1554.6 982.1L1555.3 983.5L1556.0 984.8L1556.7 986.2L1557.4 987.6L1558.2 988.9L1558.9 990.3L1559.6 991.7L1560.3 993.0L1561.0 994.4L1561.6 995.7L1562.2 997.1L1562.8 998.6L1563.3 1000.2L1563.9 1001.8L1564.4 1003.3L1564.9 1004.9L1565.3 1006.5L1565.8 1008.1L1566.2 1009.6L1566.7 1011.0L1567.1 1012.4L1567.6 1013.8L1568.0 1015.0L1568.7 1017.1L1569.3 1019.2L1570.0 1021.1L1570.7 1022.4L1571.4 1023.0L1572.3 1022.6L1573.2 1021.3L1574.1 1019.6L1575.0 1018.0L1575.6 1016.7L1576.2 1015.5L1576.8 1014.1L1577.3 1012.6L1577.8 1010.8L1578.3 1008.7L1578.5 1007.9L1578.6 1007.0L1578.8 1006.0L1578.9 1005.1L1579.1 1004.0L1579.2 1002.9L1579.3 1001.8L1579.5 1000.6L1579.6 999.4L1579.7 998.1L1579.8 996.8L1580.0 995.5L1580.1 994.1L1580.2 992.7L1580.3 991.3L1580.4 989.8L1580.5 988.3L1580.6 986.8L1580.7 985.2L1580.8 983.6L1580.9 982.0L1581.0 980.4L1581.1 978.8L1581.1 977.1L1581.2 975.4L1581.3 973.7L1581.4 972.0L1581.5 970.3L1581.6 968.6L1581.6 966.9L1581.7 965.1L1581.8 963.4L1581.9 961.6L1582.0 959.9L1582.0 958.1L1582.1 956.4L1582.2 954.7L1582.3 952.9L1582.4 951.2L1582.5 949.5L1582.5 947.8L1582.6 946.1L1582.7 944.4L1582.8 942.8L1582.9 941.1L1583.0 939.5L1583.1 938.1L1583.2 936.7L1583.2 935.3L1583.3 933.8L1583.4 932.4L1583.5 931.0L1583.6 929.5L1583.6 928.1L1583.7 926.6L1583.8 925.2L1583.9 923.7L1584.0 922.2L1584.0 920.7L1584.1 919.3L1584.2 917.8L1584.3 916.3L1584.3 914.8L1584.4 913.3L1584.5 911.8L1584.6 910.3L1584.6 908.8L1584.7 907.3L1584.8 905.7L1584.9 904.2L1584.9 902.7L1585.0 901.2L1585.1 899.6L1585.2 898.1L1585.2 896.6L1585.3 895.0L1585.4 893.5L1585.5 892.0L1585.5 890.4L1585.6 888.9L1585.7 887.3L1585.8 885.8L1585.8 884.3L1585.9 882.7L1586.0 881.2L1586.1 879.6L1586.1 878.1L1586.2 876.5L1586.3 875.0L1586.3 873.4L1586.4 871.9L1586.5 870.4L1586.6 868.8L1586.6 867.3L1586.7 865.7L1586.8 864.2L1586.9 862.6L1586.9 861.1L1587.0 859.6L1587.1 858.0L1587.2 856.5L1587.2 855.0L1587.3 853.5L1587.4 851.9L1587.4 850.4L1587.5 848.9L1587.6 847.4L1587.7 845.9L1587.8 844.4L1587.8 842.9L1587.9 841.3L1588.0 839.8L1588.0 838.3L1588.1 836.8L1588.2 835.2L1588.3 833.7L1588.3 832.2L1588.4 830.7L1588.5 829.1L1588.6 827.6L1588.6 826.1L1588.7 824.5L1588.8 823.0L1588.8 821.4L1588.9 819.9L1589.0 818.4L1589.1 816.8L1589.1 815.3L1589.2 813.8L1589.3 812.2L1589.3 810.7L1589.4 809.1L1589.5 807.6L1589.6 806.1L1589.6 804.5L1589.7 803.0L1589.8 801.5L1589.9 799.9L1589.9 798.4L1590.0 796.9L1590.1 795.4L1590.1 793.8L1590.2 792.3L1590.3 790.8L1590.4 789.3L1590.4 787.8L1590.5 786.2L1590.6 784.7L1590.7 783.2L1590.7 781.7L1590.8 780.2L1590.9 778.7L1591.0 777.2L1591.1 775.7L1591.1 774.2L1591.2 772.7L1591.3 771.3L1591.4 769.8L1591.5 768.3L1591.5 766.8L1591.6 765.4L1591.7 763.9L1591.8 762.4L1591.9 761.0L1591.9 759.5L1592.0 758.1L1592.1 756.6L1592.2 755.2L1592.3 753.6L1592.4 752.0L1592.5 750.5L1592.6 748.9L1592.7 747.3L1592.8 745.7L1592.9 744.2L1593.0 742.6L1593.1 741.0L1593.2 739.4L1593.3 737.9L1593.4 736.3L1593.5 734.8L1593.6 733.2L1593.7 731.6L1593.8 730.1L1593.9 728.5L1594.0 727.0L1594.1 725.5L1594.2 723.9L1594.3 722.4L1594.4 720.8L1594.5 719.3L1594.6 717.8L1594.7 716.3L1594.8 714.8L1594.9 713.2L1595.0 711.7L1595.1 710.2L1595.2 708.7L1595.3 707.2L1595.4 705.8L1595.6 704.3L1595.7 702.8L1595.8 701.3L1595.9 699.9L1596.0 698.4L1596.1 696.9L1596.2 695.5L1596.3 694.0L1596.4 692.6L1596.6 691.2L1596.7 689.8L1596.8 688.3L1596.9 686.9L1597.0 685.5L1597.1 684.1L1597.3 682.8L1597.4 681.4L1597.5 680.0L1597.6 678.4L1597.8 676.7L1597.9 675.1L1598.0 673.4L1598.1 671.7L1598.2 670.1L1598.3 668.4L1598.4 666.7L1598.5 665.0L1598.6 663.4L1598.7 661.7L1598.8 660.1L1598.9 658.4L1599.0 656.8L1599.1 655.2L1599.2 653.6L1599.3 652.0L1599.5 650.4L1599.6 648.8L1599.7 647.3L1599.8 645.8L1600.0 644.3L1600.1 642.8L1600.3 641.3L1600.5 639.9L1600.7 638.5L1600.9 637.2L1601.1 635.8L1601.3 634.5L1601.5 633.3L1601.8 632.0L1602.1 630.8L1602.4 629.7L1602.7 628.6L1603.0 627.5L1603.6 625.8L1604.3 624.2L1605.1 622.7L1605.9 621.4L1606.7 620.1L1607.5 618.9L1608.4 617.7L1609.2 616.5L1610.1 615.3L1610.9 614.0L1611.6 612.7L1612.3 611.3L1612.9 609.9L1613.5 608.6L1614.0 607.2L1614.6 605.9L1615.1 604.5L1615.6 603.1L1616.1 601.7L1616.5 600.2L1617.0 598.7L1617.4 597.2L1617.9 595.6L1618.3 594.0L1618.8 592.3L1619.2 590.6L1619.5 589.3L1619.8 587.9L1620.0 586.5L1620.3 584.9L1620.5 583.3L1620.7 581.6L1621.0 579.9L1621.2 578.1L1621.4 576.3L1621.6 574.5L1621.8 572.6L1621.9 570.8L1622.1 569.0L1622.3 567.1L1622.5 565.3L1622.7 563.6L1622.9 561.8L1623.2 560.1L1623.4 558.5L1623.6 557.0L1623.9 555.5L1624.1 554.1L1624.4 552.8L1624.7 551.6L1625.0 550.5L1625.4 549.5L1625.7 548.7L1626.1 548.0L1627.5 546.3L1629.0 545.4L1630.5 545.0L1632.1 545.3L1633.8 546.1L1635.3 547.5L1636.0 548.4L1636.6 549.5L1637.2 550.8L1637.7 552.2L1638.1 553.8L1638.6 555.4L1639.0 557.1L1639.5 558.8L1639.9 560.6L1640.2 561.8L1640.5 563.1L1640.7 564.4L1641.0 565.8L1641.2 567.2L1641.5 568.6L1641.7 570.1L1641.9 571.6L1642.2 573.2L1642.4 574.7L1642.6 576.3L1642.8 577.9L1643.0 579.5L1643.2 581.1L1643.4 582.7L1643.6 584.3L1643.8 585.9L1644.1 587.5L1644.3 589.1L1644.5 590.6L1644.7 592.1L1644.9 593.7L1645.0 595.4L1645.2 597.1L1645.3 598.8L1645.4 600.5L1645.5 602.2L1645.7 604.0L1645.8 605.7L1645.9 607.4L1646.0 609.1L1646.2 610.8L1646.4 612.4L1646.6 614.0L1646.8 615.5L1647.1 617.0L1647.4 618.3L1647.7 619.6L1648.1 620.8L1648.6 621.9L1649.1 622.9L1650.2 624.3L1651.5 625.4L1652.9 626.2L1654.3 626.9L1655.8 627.7L1657.1 628.6L1658.3 629.8L1659.1 630.9L1659.9 632.1L1660.6 633.4L1661.3 634.8L1662.0 636.2L1662.6 637.7L1663.2 639.3L1663.7 640.9L1664.3 642.5L1664.8 644.2L1665.3 645.9L1665.6 647.2L1666.0 648.5L1666.3 649.8L1666.6 651.2L1666.8 652.6L1667.1 654.1L1667.3 655.6L1667.5 657.1L1667.7 658.6L1667.9 660.1L1668.1 661.7L1668.3 663.3L1668.5 664.8L1668.7 666.4L1668.9 668.0L1669.1 669.6L1669.3 671.2L1669.5 672.8L1669.7 674.3L1669.9 675.9L1670.1 677.3L1670.3 678.8L1670.5 680.3L1670.7 681.7L1670.9 683.2L1671.1 684.7L1671.3 686.2L1671.5 687.6L1671.7 689.1L1671.9 690.6L1672.1 692.1L1672.3 693.6L1672.5 695.1L1672.7 696.6L1672.9 698.2L1673.1 699.7L1673.3 701.2L1673.5 702.7L1673.7 704.3L1673.9 705.8L1674.1 707.3L1674.3 708.9L1674.5 710.4L1674.7 712.0L1674.9 713.6L1675.1 715.4L1675.2 717.3L1675.4 719.2L1675.6 721.2L1675.8 723.2L1675.9 725.2L1676.1 727.3L1676.3 729.3L1676.5 731.3L1676.6 733.3L1676.8 735.3L1677.0 737.1L1677.2 738.9L1677.4 740.6L1677.6 742.2L1677.8 743.6L1678.0 744.9L1678.2 746.1L1678.5 747.1L1678.7 747.9L1679.0 748.5L1679.2 748.9L1679.5 749.0L1679.9 748.8L1680.3 748.3L1680.8 747.5L1681.3 746.4L1681.7 745.0L1682.2 743.5L1682.8 741.8L1683.3 739.9L1683.8 738.0L1684.2 736.1L1684.7 734.2L1685.2 732.3L1685.6 730.5L1686.0 728.8L1686.3 727.5L1686.6 726.1L1686.9 724.7L1687.1 723.3L1687.4 721.9L1687.6 720.4L1687.9 719.0L1688.1 717.5L1688.3 716.0L1688.5 714.5L1688.8 713.0L1689.0 711.5L1689.2 709.9L1689.4 708.4L1689.6 706.8L1689.8 705.2L1690.0 703.7L1690.2 702.1L1690.4 700.5L1690.6 698.9L1690.8 697.5L1691.0 696.0L1691.1 694.5L1691.3 693.0L1691.5 691.5L1691.7 689.9L1691.8 688.3L1692.0 686.7L1692.1 685.1L1692.3 683.5L1692.5 681.9L1692.6 680.3L1692.8 678.7L1693.0 677.1L1693.1 675.5L1693.3 673.9L1693.5 672.4L1693.6 670.8L1693.8 669.3L1694.0 667.8L1694.2 666.4L1694.4 665.0L1694.6 663.6L1694.8 662.2L1695.0 660.9L1695.2 659.7L1695.5 657.8L1695.9 655.8L1696.2 653.8L1696.5 651.7L1696.8 649.8L1697.2 647.9L1697.5 646.1L1697.9 644.6L1698.3 643.3L1698.8 642.3L1699.3 641.6L1699.8 641.3L1700.6 641.5L1701.5 642.3L1702.4 643.6L1703.4 645.2L1704.4 647.0L1705.3 649.0L1706.1 651.0L1706.7 652.8L1707.0 654.1L1707.3 655.6L1707.5 657.2L1707.6 658.8L1707.7 660.4L1707.7 662.2L1707.7 663.9L1707.7 665.6L1707.6 667.3L1707.6 669.0L1707.7 670.6L1707.7 672.2L1707.8 673.6L1708.0 675.0L1708.3 677.0L1708.8 679.1L1709.2 681.2L1709.7 683.1L1710.2 684.6L1710.6 685.6L1711.0 686.0L1711.2 685.8L1711.4 685.4L1711.6 684.7L1711.8 683.8L1711.9 682.7L1712.1 681.3L1712.2 679.8L1712.4 678.2L1712.5 676.4L1712.6 674.6L1712.8 672.6L1712.9 670.6L1713.0 668.6L1713.2 666.5L1713.3 664.5L1713.4 662.4L1713.6 660.5L1713.7 658.5L1713.9 656.7L1714.0 655.0L1714.1 653.5L1714.3 652.1L1714.4 650.6L1714.5 649.1L1714.7 647.5L1714.8 646.0L1714.9 644.4L1715.1 642.9L1715.2 641.3L1715.3 639.7L1715.5 638.1L1715.6 636.5L1715.7 635.0L1715.9 633.4L1716.0 631.8L1716.2 630.2L1716.3 628.6L1716.4 627.1L1716.6 625.5L1716.7 623.9L1716.8 622.4L1717.0 620.9L1717.1 619.4L1717.2 617.9L1717.4 616.4L1717.5 615.0L1717.7 613.4L1717.8 611.8L1718.0 610.2L1718.1 608.7L1718.3 607.1L1718.4 605.6L1718.6 604.1L1718.7 602.6L1718.9 601.1L1719.0 599.6L1719.2 598.1L1719.3 596.6L1719.5 595.1L1719.6 593.7L1719.8 592.2L1719.9 590.8L1720.1 589.3L1720.2 587.9L1720.4 586.4L1720.5 585.0L1720.7 583.4L1720.8 581.8L1721.0 580.2L1721.1 578.6L1721.2 577.1L1721.4 575.6L1721.5 574.0L1721.7 572.5L1721.8 571.0L1722.0 569.4L1722.1 567.9L1722.3 566.4L1722.4 564.8L1722.6 563.2L1722.8 561.6L1723.0 560.0L1723.2 558.6L1723.4 557.1L1723.6 555.7L1723.8 554.2L1724.0 552.7L1724.2 551.3L1724.4 549.8L1724.6 548.3L1724.9 546.8L1725.1 545.3L1725.3 543.8L1725.6 542.3L1725.8 540.8L1726.1 539.3L1726.3 537.7L1726.5 536.2L1726.8 534.6L1727.0 533.1L1727.3 531.6L1727.5 530.0L1727.7 528.5L1728.0 527.0L1728.2 525.5L1728.4 524.0L1728.6 522.5L1728.9 520.9L1729.1 519.4L1729.3 517.8L1729.6 516.3L1729.8 514.7L1730.0 513.1L1730.3 511.6L1730.5 510.0L1730.7 508.5L1731.0 506.9L1731.2 505.4L1731.5 503.8L1731.7 502.3L1732.0 500.8L1732.2 499.3L1732.5 497.9L1732.7 496.4L1733.0 495.0L1733.3 493.4L1733.5 491.7L1733.8 490.1L1734.0 488.4L1734.2 486.7L1734.4 485.0L1734.6 483.3L1734.9 481.7L1735.1 480.0L1735.4 478.4L1735.6 476.9L1736.0 475.4L1736.3 474.0L1736.7 472.7L1737.1 471.4L1737.6 470.3L1738.1 469.2L1738.7 468.3L1739.8 467.0L1741.0 465.9L1742.4 464.9L1743.8 464.1L1745.2 463.5L1746.6 463.1L1747.9 462.8L1749.4 462.9L1750.9 463.4L1752.3 464.0L1753.8 464.5L1755.3 464.6L1756.6 464.3L1757.9 463.8L1759.3 463.1L1760.6 462.2L1762.0 461.2L1763.3 460.2L1764.5 459.1L1765.5 458.1L1766.5 457.0L1767.5 455.9L1768.5 454.6L1769.4 453.3L1770.3 452.0L1771.2 450.6L1772.1 449.2L1772.9 447.7L1773.7 446.2L1774.3 444.9L1775.0 443.6L1775.6 442.2L1776.2 440.8L1776.8 439.3L1777.3 437.9L1777.8 436.4L1778.4 434.9L1778.9 433.3L1779.3 431.8L1779.8 430.3L1780.3 428.8L1780.7 427.3L1781.1 425.9L1781.5 424.3L1781.8 422.7L1782.1 421.0L1782.3 419.4L1782.5 417.7L1782.7 416.1L1782.9 414.5L1783.2 412.9L1783.4 411.4L1783.8 410.0L1784.3 408.7L1784.8 407.5L1785.8 406.0L1787.1 404.9L1788.4 403.9L1789.8 402.8L1791.1 401.6L1792.2 400.1L1792.7 399.0L1793.2 397.8L1793.7 396.5L1794.1 395.0L1794.5 393.5L1794.9 391.9L1795.3 390.3L1795.6 388.7L1795.9 387.0L1796.2 385.3L1796.4 383.6L1796.7 382.0L1796.9 380.4L1797.2 378.9L1797.4 377.4L1797.7 376.0L1798.0 374.2L1798.2 372.3L1798.4 370.3L1798.6 368.4L1798.8 366.5L1799.0 364.8L1799.2 363.3L1799.4 362.1L1799.7 361.3L1800.0 361.0L1800.8 361.8L1801.7 363.7L1802.5 366.0L1802.8 367.2L1803.0 368.6L1803.2 370.1L1803.4 371.7L1803.5 373.3L1803.6 375.0L1803.7 376.7L1803.9 378.4L1804.0 380.0L1804.2 381.5L1804.3 382.9L1804.5 384.3L1804.6 385.7L1804.7 387.1L1804.9 388.5L1805.0 390.0L1805.2 391.6L1805.3 393.2L1805.5 395.0L1805.6 396.2L1805.7 397.5L1805.8 398.8L1805.9 400.2L1806.0 401.6L1806.1 403.0L1806.2 404.5L1806.3 406.0L1806.4 407.5L1806.6 409.1L1806.7 410.6L1806.8 412.2L1806.9 413.8L1807.0 415.5L1807.1 417.1L1807.2 418.7L1807.3 420.3L1807.4 422.0L1807.5 423.6L1807.7 425.2L1807.8 426.8L1807.9 428.4L1808.0 430.0L1808.1 431.5L1808.2 433.0L1808.3 434.5L1808.4 436.0L1808.6 437.5L1808.7 439.0L1808.8 440.6L1808.9 442.1L1809.0 443.6L1809.1 445.2L1809.2 446.7L1809.4 448.3L1809.5 449.8L1809.6 451.4L1809.7 452.9L1809.8 454.5L1809.9 456.0L1810.1 457.6L1810.2 459.2L1810.3 460.7L1810.4 462.3L1810.5 463.8L1810.7 465.4L1810.8 466.9L1810.9 468.5L1811.0 470.0L1811.1 471.5L1811.2 473.1L1811.3 474.6L1811.5 476.2L1811.6 477.7L1811.7 479.2L1811.8 480.8L1811.9 482.3L1812.1 483.8L1812.2 485.4L1812.3 486.9L1812.4 488.5L1812.5 490.0L1812.6 491.5L1812.8 493.1L1812.9 494.6L1813.0 496.2L1813.1 497.7L1813.2 499.2L1813.3 500.8L1813.5 502.3L1813.6 503.8L1813.7 505.4L1813.8 506.9L1813.9 508.5L1814.0 510.0L1814.1 511.5L1814.2 513.1L1814.3 514.6L1814.4 516.2L1814.5 517.7L1814.6 519.2L1814.7 520.8L1814.8 522.3L1814.9 523.8L1815.0 525.4L1815.1 526.9L1815.2 528.5L1815.3 530.0L1815.4 531.5L1815.5 533.1L1815.6 534.6L1815.7 536.2L1815.8 537.7L1815.9 539.2L1816.0 540.8L1816.1 542.3L1816.2 543.8L1816.3 545.4L1816.3 546.9L1816.4 548.5L1816.5 550.0L1816.6 551.5L1816.6 553.1L1816.7 554.6L1816.8 556.2L1816.9 557.7L1816.9 559.2L1817.0 560.8L1817.1 562.3L1817.1 563.8L1817.2 565.4L1817.2 566.9L1817.3 568.5L1817.3 570.0L1817.4 571.5L1817.5 573.1L1817.5 574.6L1817.6 576.2L1817.6 577.7L1817.7 579.2L1817.7 580.8L1817.8 582.3L1817.8 583.8L1817.9 585.4L1817.9 586.9L1818.0 588.5L1818.0 590.0L1818.0 591.5L1818.1 593.1L1818.1 594.6L1818.2 596.2L1818.2 597.7L1818.3 599.2L1818.3 600.8L1818.3 602.3L1818.4 603.8L1818.4 605.4L1818.4 606.9L1818.5 608.5L1818.5 610.0L1818.5 611.5L1818.6 613.1L1818.6 614.6L1818.6 616.2L1818.7 617.7L1818.7 619.2L1818.7 620.8L1818.8 622.3L1818.8 623.8L1818.9 625.4L1818.9 626.9L1819.0 628.5L1819.0 630.0L1819.0 631.5L1819.1 633.1L1819.1 634.7L1819.2 636.3L1819.2 637.9L1819.3 639.5L1819.3 641.1L1819.4 642.8L1819.5 644.4L1819.5 646.0L1819.6 647.6L1819.6 649.3L1819.7 650.9L1819.7 652.5L1819.8 654.0L1819.8 655.6L1819.9 657.2L1820.0 658.7L1820.0 660.2L1820.1 661.7L1820.2 663.2L1820.2 664.6L1820.3 666.0L1820.4 667.4L1820.4 668.7L1820.5 670.0L1820.6 671.9L1820.7 673.9L1820.8 675.9L1820.9 678.0L1820.9 680.0L1821.0 682.0L1821.1 683.8L1821.2 685.5L1821.4 687.0L1821.5 688.2L1821.6 689.2L1821.8 689.8L1822.0 690.0L1822.2 689.8L1822.4 689.1L1822.6 688.0L1822.9 686.6L1823.1 684.9L1823.4 683.0L1823.6 681.0L1823.9 678.9L1824.2 676.8L1824.5 674.7L1824.9 672.7L1825.2 670.9L1825.6 669.3L1826.0 668.0L1826.8 665.9L1827.7 663.8L1828.6 662.0L1829.4 660.8L1830.2 660.4L1830.5 660.6L1830.8 661.0L1831.0 661.6L1831.3 662.4L1831.5 663.3L1831.7 664.4L1831.9 665.7L1832.1 667.1L1832.3 668.7L1832.5 670.3L1832.6 672.0L1832.8 673.9L1832.9 675.7L1833.1 677.7L1833.2 679.6L1833.4 681.6L1833.5 683.6L1833.7 685.6L1833.8 687.6L1834.0 689.5L1834.2 691.4L1834.3 693.2L1834.5 695.0L1834.6 696.3L1834.8 697.6L1834.9 699.0L1835.0 700.4L1835.2 701.8L1835.3 703.2L1835.5 704.6L1835.6 706.1L1835.7 707.5L1835.9 709.0L1836.0 710.5L1836.1 712.0L1836.3 713.5L1836.4 715.1L1836.6 716.6L1836.7 718.2L1836.8 719.7L1837.0 721.3L1837.1 722.9L1837.2 724.4L1837.4 726.0L1837.5 727.6L1837.6 729.2L1837.8 730.8L1837.9 732.3L1838.0 733.9L1838.1 735.5L1838.3 737.1L1838.4 738.7L1838.5 740.2L1838.6 741.8L1838.8 743.3L1838.9 744.9L1839.0 746.4L1839.1 748.0L1839.2 749.5L1839.4 751.0L1839.5 752.5L1839.6 753.9L1839.7 755.4L1839.8 757.0L1839.9 758.7L1840.0 760.5L1840.1 762.3L1840.2 764.2L1840.3 766.1L1840.4 768.1L1840.5 770.1L1840.6 772.1L1840.7 774.1L1840.8 776.1L1840.9 778.2L1841.0 780.2L1841.0 782.2L1841.1 784.2L1841.2 786.1L1841.3 788.0L1841.4 789.9L1841.5 791.7L1841.6 793.5L1841.6 795.1L1841.7 796.7L1841.8 798.3L1841.9 799.7L1842.0 801.0L1842.1 802.3L1842.3 803.4L1842.4 804.4L1842.5 805.2L1842.6 805.9L1842.8 806.5L1842.9 806.9L1843.0 807.2L1843.2 807.3L1843.5 807.0L1843.8 806.2L1844.0 804.9L1844.3 803.2L1844.6 801.3L1844.9 799.3L1845.3 797.1L1845.7 795.0L1846.1 793.1L1846.5 791.4L1847.0 790.0L1847.9 788.1L1848.9 786.2L1849.9 784.5L1850.9 783.4L1851.8 783.1L1852.1 783.3L1852.4 783.7L1852.7 784.2L1853.0 784.9L1853.3 785.8L1853.5 786.9L1853.7 788.1L1854.0 789.4L1854.2 790.8L1854.4 792.3L1854.6 794.0L1854.7 795.7L1854.9 797.5L1855.1 799.3L1855.3 801.3L1855.4 803.2L1855.6 805.2L1855.7 807.2L1855.9 809.2L1856.0 811.2L1856.1 813.3L1856.3 815.2L1856.4 817.2L1856.6 819.1L1856.7 821.0L1856.8 822.8L1857.0 824.5L1857.1 825.9L1857.2 827.4L1857.3 829.0L1857.5 830.6L1857.6 832.3L1857.7 834.1L1857.7 835.9L1857.8 837.8L1857.9 839.7L1858.0 841.6L1858.1 843.6L1858.2 845.6L1858.2 847.6L1858.3 849.6L1858.4 851.6L1858.4 853.7L1858.5 855.7L1858.6 857.7L1858.6 859.6L1858.7 861.6L1858.8 863.5L1858.8 865.3L1858.9 867.2L1859.0 868.9L1859.0 870.6L1859.1 872.3L1859.2 873.9L1859.3 875.4L1859.3 876.8L1859.4 878.1L1859.5 879.3L1859.6 880.4L1859.7 881.5L1859.8 882.4L1859.9 883.1L1860.0 883.8L1860.1 884.3L1860.2 884.7L1860.3 884.9L1860.4 885.0L1860.6 884.9L1860.7 884.5L1860.9 883.9L1861.1 883.0L1861.3 882.0L1861.5 880.8L1861.7 879.4L1861.9 877.8L1862.1 876.2L1862.3 874.4L1862.5 872.6L1862.7 870.6L1862.9 868.7L1863.1 866.6L1863.3 864.6L1863.5 862.6L1863.8 860.6L1864.0 858.6L1864.2 856.7L1864.4 854.9L1864.6 853.1L1864.8 851.5L1865.0 850.0L1865.2 848.3L1865.4 846.5L1865.7 844.6L1865.9 842.7L1866.1 840.7L1866.3 838.7L1866.5 836.7L1866.8 834.7L1867.0 832.8L1867.2 831.0L1867.4 829.3L1867.7 827.8L1867.9 826.4L1868.1 825.2L1868.4 824.2L1868.6 823.4L1868.8 823.0L1869.1 822.8L1869.5 823.1L1869.9 824.0L1870.4 825.3L1870.8 827.0L1871.3 828.9L1871.7 831.0L1872.1 833.0L1872.5 835.0L1872.7 836.2L1872.9 837.4L1873.1 838.7L1873.3 840.0L1873.5 841.3L1873.7 842.7L1873.9 844.1L1874.0 845.6L1874.2 847.1L1874.4 848.6L1874.5 850.1L1874.7 851.7L1874.8 853.3L1875.0 854.9L1875.1 856.5L1875.3 858.2L1875.5 859.9L1875.6 861.6L1875.8 863.3L1876.0 865.0L1876.1 866.3L1876.3 867.8L1876.4 869.3L1876.5 870.9L1876.7 872.6L1876.8 874.3L1877.0 876.1L1877.1 878.0L1877.2 879.9L1877.4 881.9L1877.5 883.8L1877.6 885.8L1877.8 887.9L1877.9 889.9L1878.1 891.9L1878.2 893.9L1878.4 895.9L1878.5 897.9L1878.6 899.9L1878.8 901.8L1878.9 903.6L1879.1 905.4L1879.2 907.2L1879.4 908.9L1879.5 910.5L1879.7 912.0L1879.8 913.4L1880.0 914.8L1880.2 916.0L1880.3 917.1L1880.5 918.1L1880.6 918.9L1880.8 919.6L1881.0 920.2L1881.2 920.6L1881.3 920.9L1881.5 921.0L1881.7 920.9L1882.0 920.5L1882.3 919.8L1882.5 918.9L1882.8 917.8L1883.1 916.5L1883.4 915.0L1883.6 913.4L1883.9 911.7L1884.2 909.8L1884.5 907.9L1884.8 905.9L1885.1 903.8L1885.3 901.8L1885.6 899.7L1885.9 897.6L1886.2 895.6L1886.5 893.7L1886.7 891.8L1887.0 890.0L1887.2 888.7L1887.4 887.3L1887.6 886.0L1887.8 884.6L1888.0 883.3L1888.3 881.9L1888.5 880.5L1888.7 879.2L1888.9 877.8L1889.1 876.4L1889.3 875.0L1889.5 873.6L1889.7 872.1L1889.9 870.7L1890.1 869.2L1890.3 867.8L1890.5 866.3L1890.7 864.8L1890.9 863.3L1891.1 861.8L1891.3 860.2L1891.5 858.6L1891.7 857.1L1891.9 855.4L1892.1 853.8L1892.3 852.2L1892.4 850.5L1892.6 848.8L1892.8 847.1L1893.0 845.4L1893.1 843.6L1893.3 841.8L1893.4 840.6L1893.5 839.3L1893.6 838.0L1893.7 836.6L1893.8 835.2L1893.9 833.8L1894.0 832.4L1894.1 830.9L1894.1 829.3L1894.2 827.8L1894.3 826.2L1894.4 824.6L1894.4 823.0L1894.5 821.3L1894.6 819.6L1894.7 817.9L1894.7 816.2L1894.8 814.4L1894.8 812.7L1894.9 810.9L1895.0 809.1L1895.0 807.3L1895.1 805.5L1895.1 803.7L1895.2 801.9L1895.2 800.0L1895.3 798.2L1895.3 796.3L1895.4 794.5L1895.5 792.7L1895.5 790.8L1895.6 789.0L1895.6 787.1L1895.7 785.3L1895.7 783.5L1895.8 781.6L1895.8 779.8L1895.9 778.0L1895.9 776.3L1896.0 774.5L1896.0 772.7L1896.1 771.0L1896.1 769.3L1896.2 767.6L1896.2 765.9L1896.3 764.3L1896.3 762.6L1896.4 761.1L1896.5 759.5L1896.5 757.9L1896.6 756.4L1896.7 754.9L1896.7 753.5L1896.8 752.1L1896.9 750.7L1897.0 749.4L1897.0 748.1L1897.1 746.8L1897.2 745.6L1897.3 744.5L1897.4 743.3L1897.5 742.3L1897.5 741.3L1897.6 740.3L1897.7 739.4L1897.8 738.5L1897.9 737.7L1898.1 736.9L1898.2 736.2L1898.3 735.6L1898.4 735.0L1899.1 732.3L1899.8 730.3L1900.6 729.6L1901.2 730.0L1902.0 731.0L1902.8 732.4L1903.6 734.2L1904.3 736.1L1905.0 738.0L1905.4 739.2L1905.7 740.5L1906.0 741.8L1906.3 743.2L1906.6 744.7L1906.9 746.2L1907.1 747.7L1907.3 749.4L1907.5 751.0L1907.7 752.7L1907.9 754.5L1908.1 756.3L1908.3 758.1L1908.5 760.0L1908.6 761.2L1908.7 762.5L1908.8 763.7L1908.9 765.0L1909.0 766.4L1909.1 767.7L1909.2 769.1L1909.3 770.5L1909.4 771.9L1909.5 773.3L1909.6 774.8L1909.6 776.2L1909.7 777.7L1909.8 779.2L1909.8 780.8L1909.9 782.3L1909.9 783.8L1910.0 785.4L1910.1 787.0L1910.1 788.6L1910.2 790.2L1910.2 791.8L1910.3 793.4L1910.3 795.1L1910.3 796.7L1910.4 798.3L1910.4 800.0L1910.5 801.7L1910.5 803.3L1910.6 805.0L1910.6 806.7L1910.7 808.3L1910.7 810.0L1910.7 811.4L1910.8 812.9L1910.8 814.4L1910.8 816.0L1910.9 817.6L1910.9 819.3L1910.9 821.1L1910.9 822.9L1911.0 824.7L1911.0 826.6L1911.0 828.5L1911.0 830.5L1911.0 832.4L1911.0 834.4L1911.1 836.4L1911.1 838.4L1911.1 840.5L1911.1 842.5L1911.1 844.5L1911.1 846.6L1911.1 848.6L1911.1 850.6L1911.2 852.6L1911.2 854.6L1911.2 856.5L1911.2 858.4L1911.2 860.3L1911.2 862.2L1911.2 864.0L1911.2 865.8L1911.2 867.5L1911.2 869.2L1911.2 870.8L1911.2 872.4L1911.3 873.9L1911.3 875.3L1911.3 876.7L1911.3 877.9L1911.3 879.2L1911.3 880.3L1911.3 881.3L1911.3 882.2L1911.4 883.1L1911.4 883.8L1911.4 884.5L1911.4 885.0L1911.4 885.4L1911.5 885.7L1911.5 885.9L1911.5 886.0L1911.5 885.9L1911.6 885.7L1911.6 885.3L1911.6 884.8L1911.7 884.1L1911.7 883.3L1911.8 882.4L1911.8 881.4L1911.8 880.2L1911.9 879.0L1911.9 877.6L1912.0 876.2L1912.0 874.7L1912.1 873.1L1912.1 871.4L1912.1 869.7L1912.2 867.9L1912.2 866.1L1912.3 864.2L1912.3 862.3L1912.4 860.3L1912.4 858.3L1912.5 856.3L1912.5 854.3L1912.6 852.3L1912.6 850.3L1912.6 848.3L1912.7 846.3L1912.7 844.3L1912.8 842.3L1912.8 840.4L1912.8 838.6L1912.9 836.7L1912.9 834.9L1912.9 833.2L1913.0 831.6L1913.0 830.0L1913.0 828.5L1913.0 827.1L1913.1 825.6L1913.1 824.1L1913.1 822.6L1913.1 821.2L1913.1 819.7L1913.2 818.2L1913.2 816.7L1913.2 815.3L1913.2 813.8L1913.2 812.3L1913.2 810.8L1913.2 809.3L1913.2 807.9L1913.2 806.4L1913.2 804.9L1913.2 803.4L1913.2 801.9L1913.2 800.4L1913.3 798.9L1913.3 797.4L1913.3 795.9L1913.3 794.4L1913.3 792.9L1913.3 791.4L1913.3 789.9L1913.3 788.4L1913.3 786.9L1913.3 785.4L1913.3 783.9L1913.3 782.3L1913.4 780.8L1913.4 779.3L1913.4 777.7L1913.4 776.2L1913.4 774.7L1913.5 773.1L1913.5 771.6L1913.5 770.0L1913.5 768.5L1913.6 767.1L1913.6 765.6L1913.6 764.1L1913.6 762.6L1913.7 761.0L1913.7 759.5L1913.7 758.0L1913.8 756.5L1913.8 754.9L1913.8 753.4L1913.8 751.8L1913.9 750.3L1913.9 748.7L1913.9 747.2L1914.0 745.6L1914.0 744.0L1914.1 742.5L1914.1 740.9L1914.1 739.3L1914.2 737.7L1914.2 736.2L1914.2 734.6L1914.3 733.0L1914.3 731.5L1914.4 729.9L1914.4 728.3L1914.5 726.8L1914.5 725.2L1914.5 723.7L1914.6 722.1L1914.6 720.6L1914.7 719.1L1914.7 717.6L1914.8 716.0L1914.8 714.5L1914.9 713.0L1914.9 711.5L1915.0 710.1L1915.0 708.6L1915.0 707.1L1915.1 705.7L1915.1 704.2L1915.2 702.8L1915.2 701.4L1915.3 700.0L1915.4 698.4L1915.4 696.8L1915.5 695.2L1915.6 693.7L1915.6 692.1L1915.7 690.6L1915.8 689.1L1915.8 687.7L1915.9 686.2L1916.0 684.8L1916.1 683.3L1916.1 681.9L1916.2 680.5L1916.3 679.1L1916.4 677.7L1916.5 676.3L1916.5 674.8L1916.6 673.4L1916.7 672.0L1916.8 670.5L1916.8 669.1L1916.9 667.6L1917.0 666.1L1917.1 664.6L1917.1 663.1L1917.2 661.6L1917.3 660.0L1917.4 658.4L1917.4 656.8L1917.5 655.2L1917.6 653.5L1917.6 651.8L1917.7 650.0L1917.7 648.7L1917.8 647.4L1917.8 646.1L1917.9 644.8L1917.9 643.4L1918.0 642.1L1918.0 640.7L1918.0 639.3L1918.1 637.8L1918.1 636.4L1918.2 634.9L1918.2 633.4L1918.2 631.9L1918.3 630.4L1918.3 628.9L1918.3 627.4L1918.4 625.8L1918.4 624.3L1918.4 622.7L1918.5 621.1L1918.5 619.5L1918.5 617.9L1918.6 616.3L1918.6 614.7L1918.6 613.1L1918.7 611.5L1918.7 609.8L1918.7 608.2L1918.8 606.6L1918.8 604.9L1918.8 603.3L1918.9 601.6L1918.9 600.0L1918.9 598.4L1919.0 596.7L1919.0 595.1L1919.0 593.4L1919.1 591.8L1919.1 590.2L1919.1 588.5L1919.1 586.9L1919.2 585.3L1919.2 583.7L1919.2 582.1L1919.3 580.5L1919.3 578.9L1919.3 577.3L1919.4 575.7L1919.4 574.2L1919.4 572.6L1919.4 571.1L1919.5 569.6L1919.5 568.1L1919.5 566.6L1919.6 565.1L1919.6 563.6L1919.6 562.2L1919.7 560.7L1919.7 559.3L1919.7 557.9L1919.7 556.6L1919.8 555.2L1919.8 553.9L1919.8 552.6L1919.9 551.3L1919.9 550.0L1919.9 548.2L1920.0 546.5L1920.0 544.8L1920.1 543.1L1920.1 541.5L1920.2 539.9L1920.2 538.3L1920.2 536.7L1920.3 535.1L1920.3 533.6L1920.4 532.1L1920.4 530.6L1920.5 529.1L1920.5 527.6L1920.5 526.1L1920.6 524.7L1920.6 523.2L1920.7 521.8L1920.7 520.3L1920.8 518.9L1920.8 517.5L1920.8 516.0L1920.9 514.6L1920.9 513.2L1921.0 511.7L1921.0 510.3L1921.0 508.9L1921.1 507.4L1921.1 505.9L1921.2 504.5L1921.2 503.0L1921.3 501.5L1921.3 500.0L1921.3 498.5L1921.4 497.0L1921.4 495.5L1921.5 494.0L1921.5 492.5L1921.5 491.0L1921.6 489.5L1921.6 488.0L1921.6 486.6L1921.7 485.1L1921.7 483.6L1921.8 482.1L1921.8 480.6L1921.8 479.2L1921.9 477.7L1921.9 476.2L1921.9 474.7L1922.0 473.2L1922.0 471.7L1922.1 470.2L1922.1 468.7L1922.1 467.2L1922.2 465.7L1922.2 464.2L1922.3 462.6L1922.3 461.1L1922.4 459.5L1922.4 458.0L1922.5 456.4L1922.5 454.8L1922.6 453.2L1922.6 451.6L1922.7 450.0L1922.8 448.6L1922.8 447.1L1922.9 445.6L1922.9 444.0L1923.0 442.5L1923.0 440.9L1923.1 439.3L1923.1 437.6L1923.2 435.9L1923.3 434.3L1923.3 432.6L1923.4 430.8L1923.4 429.1L1923.5 427.4L1923.6 425.6L1923.6 423.9L1923.7 422.2L1923.8 420.4L1923.8 418.7L1923.9 416.9L1924.0 415.2L1924.0 413.5L1924.1 411.8L1924.2 410.1L1924.2 408.4L1924.3 406.7L1924.4 405.1L1924.5 403.5L1924.5 401.9L1924.6 400.3L1924.7 398.8L1924.8 397.3L1924.9 395.8L1924.9 394.4L1925.0 393.0L1925.1 391.7L1925.2 390.4L1925.3 389.2L1925.4 388.0L1925.4 386.8L1925.5 385.7L1925.6 384.7L1925.7 383.7L1925.8 382.8L1926.0 380.6L1926.1 378.4L1926.3 376.5L1926.4 374.8L1926.7 373.4L1927.1 372.3L1927.6 371.7L1929.2 372.0L1931.0 373.0L1932.4 374.0L1933.7 375.1L1935.0 375.4L1935.4 375.1L1935.8 374.5L1936.2 373.8L1936.6 372.8L1936.9 371.7L1937.3 370.4L1937.6 369.0L1937.9 367.4L1938.2 365.8L1938.4 364.1L1938.7 362.3L1939.0 360.4L1939.2 358.5L1939.5 356.6L1939.7 354.7L1940.0 352.8L1940.2 351.0L1940.5 349.2L1940.7 347.5L1941.0 345.9L1941.2 344.4L1941.5 342.9L1941.7 341.4L1941.9 339.8L1942.1 338.3L1942.4 336.7L1942.6 335.0L1942.7 333.4L1942.9 331.8L1943.1 330.1L1943.3 328.5L1943.5 326.9L1943.7 325.3L1943.9 323.6L1944.1 322.0L1944.4 320.5L1944.6 318.9L1944.8 317.4L1945.1 315.9L1945.3 314.4L1945.6 313.0L1945.9 311.6L1946.2 310.3L1946.5 309.0L1947.0 307.4L1947.5 305.8L1948.0 304.3L1948.5 302.8L1949.1 301.4L1949.6 300.0L1950.2 298.7L1950.8 297.4L1951.4 296.0L1951.9 294.7L1952.5 293.4L1953.0 292.0L1953.5 290.6L1954.0 289.1L1954.5 287.6L1955.0 286.1L1955.5 284.7L1955.9 283.2L1956.4 281.7L1956.8 280.2L1957.3 278.7L1957.7 277.1L1958.2 275.5L1958.6 273.9L1959.0 272.2L1959.3 270.8L1959.6 269.2L1959.9 267.6L1960.2 265.9L1960.4 264.1L1960.6 262.3L1960.9 260.5L1961.1 258.6L1961.4 256.8L1961.6 255.0L1961.8 253.2L1962.1 251.5L1962.4 249.9L1962.7 248.4L1963.0 247.0L1963.3 245.7L1963.7 244.6L1964.1 243.7L1964.5 243.0L1966.2 241.5L1968.0 241.0L1970.0 241.5L1971.9 243.0L1972.5 243.8L1973.0 244.7L1973.5 245.8L1974.0 247.1L1974.5 248.5L1975.0 250.0L1975.5 251.6L1976.0 253.2L1976.5 254.9L1976.9 256.6L1977.4 258.3L1977.9 260.0L1978.3 261.7L1978.8 263.3L1979.3 264.8L1979.8 266.3L1980.3 267.8L1980.7 269.4L1981.2 271.0L1981.7 272.6L1982.1 274.2L1982.6 275.8L1983.1 277.4L1983.5 279.0L1984.0 280.5L1984.5 281.9L1985.0 283.3L1985.5 284.6L1986.1 285.8L1986.6 286.9L1987.5 288.6L1988.5 290.4L1989.5 292.0L1990.5 293.3L1991.4 294.1L1992.2 294.3L1992.7 294.0L1993.1 293.4L1993.5 292.4L1993.8 291.2L1994.2 289.8L1994.5 288.2L1994.8 286.5L1995.1 284.6L1995.3 282.7L1995.6 280.7L1995.9 278.8L1996.1 276.9L1996.4 275.1L1996.7 273.5L1997.0 272.0L1997.4 270.3L1997.7 268.3L1998.0 266.4L1998.3 264.3L1998.6 262.4L1998.9 260.5L1999.2 258.8L1999.6 257.3L2000.0 256.2L2000.5 255.4L2001.0 255.0L2001.9 255.1L2002.9 255.9L2004.0 257.1L2005.1 258.6L2006.1 260.3L2007.0 262.0L2007.4 263.1L2007.8 264.5L2008.2 266.1L2008.5 267.9L2008.7 269.8L2009.0 271.8L2009.2 273.8L2009.4 275.9L2009.6 278.0L2009.8 280.0L2009.9 281.9L2010.2 283.8L2010.4 285.4L2010.6 286.9L2010.9 288.1L2011.2 289.1L2011.6 289.7L2012.0 290.0L2012.9 289.7L2013.9 288.7L2015.0 287.2L2016.0 285.6L2017.0 284.0L2017.7 282.6L2018.4 280.8L2019.1 278.9L2019.7 277.1L2020.3 275.5L2021.0 274.4L2021.7 274.0L2022.5 274.3L2023.3 275.1L2024.2 276.3L2025.0 277.8L2025.8 279.5L2026.6 281.4L2027.2 283.2L2027.5 284.3L2027.7 285.6L2027.9 287.0L2028.0 288.5L2028.1 290.2L2028.1 291.8L2028.1 293.6L2028.1 295.4L2028.1 297.2L2028.1 299.0L2028.0 300.8L2028.0 302.6L2028.1 304.3L2028.1 306.0L2028.2 307.6L2028.3 309.2L2028.5 310.6L2028.8 311.9L2029.1 313.0L2029.5 314.0L2030.6 315.4L2032.0 316.3L2033.1 317.4L2034.6 317.7L2035.7 318.3L2036.7 319.0L2037.8 319.1L2039.6 320.9L2041.2 320.4L2042.6 319.2L2044.1 319.0L2045.5 319.5L2046.6 320.0L2047.7 320.7L2048.9 321.6L2049.4 323.3L2050.5 324.5L2052.6 325.0L2053.7 326.3L2055.3 327.4L2056.3 328.8L2057.2 330.0L2058.0 331.3L2058.8 332.7L2059.5 334.3L2058.9 336.4L2059.5 338.0L2059.6 339.8L2060.2 341.4L2062.1 342.5L2062.7 344.1L2063.6 345.5L2064.1 347.0L2064.2 348.5L2064.6 349.8L2064.9 351.6L2065.4 353.5L2065.6 355.3L2065.9 357.0L2067.2 358.2L2067.7 359.2L2068.5 358.7L2068.8 358.7L2069.9 358.5L2071.4 357.5L2072.8 356.2L2074.8 355.3L2076.7 356.4L2078.0 356.9L2079.9 357.0L2081.2 358.2L2082.7 359.5L2083.9 361.1L2083.7 363.5L2084.7 365.3L2085.9 366.8L2086.4 368.2L2085.5 369.9L2085.8 371.5L2086.5 373.3L2086.6 375.2L2085.9 377.2L2086.0 379.3L2087.8 381.3L2087.8 383.3L2087.5 385.3L2087.6 387.2L2086.7 389.0L2086.8 390.6L2088.6 391.8L2088.8 392.9L2087.2 394.3L2087.6 395.1L2088.7 394.2L2088.8 394.1L2090.3 393.9L2090.8 392.5L2092.4 391.1L2093.0 389.1L2093.6 387.2L2094.3 385.3L2093.8 383.1L2094.7 381.7L2095.2 379.9L2096.7 379.4L2098.4 379.9L2100.1 380.0L2101.6 381.6L2103.1 382.0L2105.1 381.3L2106.6 381.9L2107.1 383.6L2108.4 384.5L2110.7 384.5L2111.7 386.0L2111.2 388.3L2112.1 390.0L2114.4 390.7L2115.0 392.5L2115.3 394.5L2115.7 396.5L2114.5 398.9L2115.0 400.8L2115.2 402.7L2115.7 404.2L2116.3 405.8L2117.8 406.6L2119.5 406.2L2120.6 405.3L2121.3 403.9L2122.2 402.4L2122.9 400.6L2123.9 398.8L2123.4 396.2L2124.4 394.3L2125.5 392.6L2126.5 391.0L2126.8 389.1L2127.8 387.9L2129.5 388.2L2130.2 388.0L2130.6 388.6L2131.2 389.4L2132.9 390.3L2133.6 392.1L2135.1 393.8L2135.7 396.0L2134.2 398.8L2134.9 400.9L2135.2 403.0L2135.8 404.8L2137.0 406.0L2137.8 407.0L2138.8 407.2L2139.7 406.8L2141.0 406.3L2141.7 404.8L2141.6 402.8L2142.2 400.8L2142.4 398.6L2143.0 396.4L2143.4 394.2L2144.0 392.2L2144.4 390.3L2145.2 388.8L2145.6 387.0L2147.2 386.2L2148.6 387.7L2149.8 388.2L2151.1 388.9L2152.3 390.1L2153.3 391.7L2154.5 393.3L2156.7 394.2L2157.9 395.9L2158.5 397.8L2159.1 399.0L2160.1 400.3L2160.6 401.8L2161.3 403.5L2160.2 405.7L2160.6 407.5L2161.0 409.5L2161.3 411.5L2161.7 413.5L2162.0 415.5L2162.3 417.5L2162.6 419.4L2162.8 421.2L2163.1 422.9L2163.3 424.4L2163.6 425.8L2163.8 427.0L2164.1 428.0L2164.3 428.7L2164.6 429.2L2164.8 429.3L2165.0 429.1L2165.3 428.7L2165.5 428.0L2165.7 427.2L2165.9 426.0L2166.1 424.7L2166.2 423.3L2166.4 421.7L2166.5 419.9L2166.7 418.1L2166.8 416.2L2167.0 414.2L2167.1 412.1L2167.3 410.1L2167.4 408.0L2167.5 405.9L2167.7 403.9L2167.9 401.9L2168.0 400.0L2168.2 398.2L2168.3 396.9L2168.5 395.5L2168.6 394.1L2168.8 392.7L2168.9 391.2L2169.1 389.8L2169.2 388.3L2169.3 386.8L2169.5 385.3L2169.6 383.8L2169.8 382.2L2169.9 380.7L2170.1 379.1L2170.3 377.6L2170.4 376.0L2170.6 374.4L2170.7 372.8L2170.9 371.2L2171.0 369.6L2171.2 368.0L2171.3 366.5L2171.5 364.9L2171.6 363.3L2171.8 361.7L2172.0 360.1L2172.1 358.5L2172.3 357.0L2172.4 355.4L2172.6 353.9L2172.8 352.4L2172.9 350.8L2173.1 349.3L2173.2 347.9L2173.4 346.4L2173.6 344.8L2173.7 343.3L2173.9 341.7L2174.1 340.1L2174.2 338.5L2174.4 336.9L2174.6 335.3L2174.7 333.8L2174.9 332.2L2175.1 330.6L2175.2 329.0L2175.4 327.4L2175.6 325.9L2175.7 324.3L2175.9 322.8L2176.1 321.3L2176.2 319.7L2176.4 318.2L2176.6 316.8L2176.8 315.3L2177.0 313.8L2177.2 312.4L2177.3 311.0L2177.5 309.7L2177.7 308.3L2178.0 307.0L2178.2 305.7L2178.4 304.4L2178.6 303.2L2178.9 301.5L2179.3 299.8L2179.6 298.2L2180.0 296.7L2180.4 295.2L2180.7 293.8L2181.1 292.4L2181.5 291.0L2181.9 289.6L2182.3 288.2L2182.7 286.8L2183.0 285.4L2183.4 284.0L2183.8 282.5" fill="none" stroke="#ef4141" stroke-width="8" stroke-linejoin="round" stroke-linecap="round"/>
<path d="M232.7 59.2L234.2 59.8L235.3 61.1L236.8 61.8L239.6 59.5L241.1 60.1L243.0 59.7L244.5 60.3L244.8 63.3L246.3 64.0L247.4 65.2L248.8 66.0L250.1 66.7L251.5 67.5L253.5 67.0L254.9 67.8L255.9 69.2L257.2 70.0L258.3 71.1L259.6 72.0L260.9 72.9L262.2 73.8L264.4 73.3L265.7 74.3L266.7 75.5L267.9 76.4L269.1 77.4L270.3 78.3L270.7 80.3L271.9 81.2L272.1 83.4L273.3 84.4L274.2 85.7L275.4 86.7L277.5 86.6L278.6 87.5L280.4 87.8L281.6 88.7L283.5 88.8L284.7 89.7L286.7 89.6L287.8 90.5L289.4 90.9L290.6 91.8L290.9 93.9L292.1 94.8L293.3 95.8L294.5 96.7L295.5 97.8L296.8 98.8L296.7 101.4L297.9 102.3L299.4 102.8L300.6 103.7L301.9 104.6L303.1 105.5L305.1 105.5L306.3 106.5L308.4 106.4L309.6 107.5L310.4 109.0L311.6 110.0L313.1 108.1L314.3 106.5L314.5 107.9L315.6 114.5L314.8 113.3L315.8 119.4L316.9 126.4L317.8 125.9L320.3 121.4L321.2 122.7L320.4 125.1L321.3 126.4L321.8 128.0L322.6 129.3L323.6 130.6L324.5 132.0L324.9 133.7L325.8 135.0L327.1 136.1L328.1 137.4L329.1 138.6L330.2 139.8L332.4 139.9L333.5 141.0L333.3 143.3L334.4 144.5L335.1 146.0L336.1 147.1L339.2 146.4L340.2 147.6L340.5 149.5L341.5 150.6L342.2 152.0L343.2 153.2L344.8 153.9L345.8 155.2L346.8 156.5L347.7 157.8L348.8 159.0L349.7 160.3L349.4 162.5L350.3 163.9L352.0 164.7L352.8 166.0L353.0 167.8L353.8 169.1L355.9 169.6L356.7 170.8L356.3 172.8L357.2 174.2L357.6 176.0L358.5 177.4L360.5 178.1L361.3 179.5L362.3 180.8L363.1 182.1L362.9 184.1L363.7 185.5L364.7 186.8L365.5 188.2L367.2 189.0L368.0 190.3L370.0 191.0L370.8 192.3L371.8 193.6L372.6 195.0L372.3 197.1L373.1 198.6L375.2 199.5L375.9 200.7L374.6 202.9L375.3 204.2L377.2 204.9L377.9 206.2L377.0 208.3L377.6 209.7L379.6 210.5L380.3 211.9L379.9 213.9L380.6 215.3L381.3 216.7L382.0 218.2L383.1 219.4L383.8 220.9L384.6 222.2L385.2 223.7L385.6 225.2L386.2 226.6L386.9 227.9L387.5 229.4L388.7 230.6L389.3 232.0L390.4 233.3L391.0 234.7L391.1 236.4L391.7 237.8L391.3 239.6L391.9 241.1L392.7 242.4L393.3 243.8L395.0 244.6L395.5 246.0L395.1 247.7L395.6 248.9L395.9 250.2L396.6 251.8L396.9 253.5L397.6 255.0L399.3 255.8L400.0 257.2L400.0 258.8L400.7 260.2L402.3 261.2L402.9 262.7L402.8 264.6L403.2 265.9L404.1 267.2L404.5 268.6L405.2 270.0L405.6 271.5L404.9 273.3L405.3 274.8L406.7 276.2L407.1 277.8L407.1 279.5L407.5 281.1L407.2 282.8L407.6 284.5L408.7 285.9L409.1 287.4L409.9 288.9L410.3 290.4L409.7 292.2L410.1 293.7L410.9 295.2L411.3 296.7L411.4 298.3L411.9 299.8L413.3 301.0L413.7 302.5L414.0 304.1L414.4 305.6L415.1 307.0L415.5 308.6L415.2 310.3L415.5 311.8L416.6 313.2L416.9 314.8L416.2 316.6L416.5 318.1L417.7 319.4L418.0 320.9L417.6 322.5L417.8 324.0L418.9 325.3L419.1 326.8L419.3 328.3L419.5 329.9L418.8 331.5L419.0 333.0L419.9 334.5L420.1 336.1L420.5 337.6L420.7 339.2L420.3 341.0L420.5 342.6L421.0 344.3L421.3 346.0L422.1 347.2L422.3 348.6L421.4 350.1L421.6 351.5L422.6 352.8L422.8 354.2L423.5 355.6L423.8 357.1L423.8 358.6L424.1 360.0L423.8 361.6L424.1 363.1L424.0 364.7L424.3 366.2L425.3 367.6L425.5 369.2L425.8 370.7L426.1 372.2L426.8 373.7L427.0 375.3L426.9 376.9L427.2 378.4L426.8 380.1L427.1 381.6L427.2 383.2L427.4 384.7L427.4 386.3L427.7 387.8L428.0 389.3L428.2 390.8L428.4 392.3L428.6 393.8L429.0 395.3L429.3 396.7L429.9 398.2L430.1 399.6L430.8 401.1L431.0 402.5L430.9 404.1L431.1 405.6L431.6 407.0L431.9 408.5L432.5 409.9L432.7 411.4L432.6 412.9L432.9 414.4L432.5 416.0L432.7 417.5L433.6 418.9L433.8 420.3L433.7 421.9L433.9 423.3L434.2 424.8L434.5 426.3L434.6 427.8L434.8 429.3L435.4 430.7L435.6 432.2L435.0 433.8L435.2 435.3L435.9 436.7L436.1 438.2L436.1 439.7L436.4 441.3L436.7 442.8L436.9 444.3L437.6 445.8L437.8 447.3L437.6 448.9L437.8 450.5L438.3 452.0L438.5 453.5L438.9 455.0L439.1 456.5L439.4 458.1L439.6 459.6L439.6 461.2L439.8 462.7L440.0 464.2L440.2 465.8L439.9 467.4L440.0 468.9L440.1 470.5L440.3 472.0L440.0 473.6L440.2 475.1L440.2 476.7L440.4 478.2L440.5 479.8L440.6 481.3L441.6 482.8L441.8 484.3L442.0 485.8L442.2 487.4L442.7 488.9L442.9 490.4L442.8 492.0L443.0 493.5L443.1 495.1L443.3 496.6L443.2 498.2L443.4 499.7L443.6 501.2L443.8 502.8L444.5 504.3L444.7 505.8L444.9 507.3L445.1 508.9L445.2 510.4L445.4 512.0L446.0 513.4L446.2 515.0L446.6 516.5L446.8 518.0L446.7 519.6L446.8 521.1L447.2 522.7L447.4 524.2L447.1 525.8L447.2 527.3L447.7 528.8L447.8 530.4L448.2 531.9L448.4 533.4L448.6 535.0L448.7 536.5L448.9 538.0L449.0 539.6L449.2 541.1L449.3 542.6L449.2 544.2L449.4 545.7L449.5 547.3L449.6 548.8L449.9 550.4L450.0 551.9L449.9 553.4L450.1 555.0L450.5 556.5L450.6 558.0L450.3 559.6L450.5 561.2L450.4 562.7L450.5 564.3L450.8 565.8L450.9 567.3L451.3 568.8L451.5 570.4L451.7 571.9L451.8 573.4L452.0 575.0L452.1 576.5L452.7 578.0L452.8 579.5L452.9 581.1L453.0 582.6L453.0 584.2L453.2 585.7L453.5 587.2L453.7 588.8L454.0 590.3L454.1 591.8L453.8 593.4L454.0 594.9L454.3 596.5L454.4 598.0L454.5 599.5L454.7 601.1L454.5 602.7L454.7 604.2L454.9 605.7L455.1 607.3L455.5 608.8L455.6 610.3L455.4 611.9L455.6 613.4L456.0 614.9L456.2 616.5L456.7 618.0L456.8 619.5L456.6 621.1L456.8 622.6L457.2 624.1L457.4 625.7L457.5 627.2L457.7 628.7L457.4 630.3L457.6 631.9L457.7 633.4L457.9 635.0L458.4 636.5L458.6 638.0L458.6 639.6L458.8 641.1L458.9 642.7L459.0 644.3L459.1 645.8L459.3 647.4L459.6 648.9L459.7 650.4L459.7 652.0L459.9 653.5L460.3 655.0L460.4 656.6L460.6 658.1L460.7 659.6L460.8 661.1L460.9 662.7L460.7 664.2L460.9 665.7L461.4 667.2L461.6 668.7L461.5 670.3L461.7 671.8L462.0 673.3L462.2 674.8L462.2 676.4L462.4 677.9L462.6 679.4L462.8 680.8L462.9 682.3L463.1 683.8L463.1 685.3L463.3 686.8L463.6 688.2L463.7 689.7L464.1 691.2L464.3 692.7L464.5 694.2L464.7 695.7L464.9 697.2L465.1 698.7L464.9 700.3L465.1 701.9L465.2 703.5L465.4 705.1L465.4 706.7L465.6 708.4L465.8 710.0L465.9 711.4L466.4 712.7L466.6 714.1L466.6 715.5L466.7 716.9L466.7 718.3L466.9 719.7L467.0 721.2L467.1 722.6L467.4 724.0L467.5 725.5L467.7 726.9L467.9 728.4L468.0 729.8L468.2 731.3L468.2 732.8L468.3 734.3L468.6 735.8L468.8 737.3L468.9 738.8L469.0 740.3L469.2 741.8L469.3 743.4L469.3 744.9L469.4 746.5L469.6 748.0L469.7 749.6L470.1 751.1L470.2 752.7L470.4 754.3L470.5 755.9L470.7 757.5L470.9 759.1L471.0 760.7L471.2 762.3L471.4 764.0L471.6 765.6L471.7 767.2L471.9 768.9L472.1 770.5L472.3 772.2L472.5 773.6L472.6 774.9L472.8 776.3L472.9 777.7L473.1 779.1L473.3 780.5L473.4 782.0L473.6 783.4L473.8 784.8L473.9 786.3L474.1 787.7L474.3 789.2L474.5 790.6L474.6 792.1L474.8 793.6L475.0 795.1L475.2 796.6L475.3 798.1L475.5 799.6L475.7 801.1L475.9 802.6L476.1 804.1L476.3 805.6L476.5 807.1L476.7 808.7L476.8 810.2L477.0 811.7L477.2 813.3L477.4 814.8L477.6 816.4L477.8 817.9L478.0 819.5L478.2 821.0L478.4 822.6L478.6 824.1L478.8 825.7L479.0 827.2L479.2 828.8L479.4 830.3L479.6 831.9L479.8 833.5L480.0 835.0L480.2 836.6L480.4 838.1L480.6 839.7L480.8 841.2L481.0 842.8L481.2 844.4L481.4 845.9L481.6 847.5L481.8 849.0L482.0 850.5L482.2 852.1L482.4 853.6L482.6 855.2L482.8 856.7L483.0 858.2L483.2 859.8L483.4 861.3L483.6 862.8L483.8 864.3L484.0 865.8L484.2 867.3L484.4 868.8L484.6 870.3L484.8 871.8L485.0 873.4L485.2 874.9L485.4 876.4L485.6 878.0L485.8 879.5L486.0 881.1L486.2 882.7L486.4 884.2L486.6 885.8L486.9 887.4L487.1 888.9L487.3 890.5L487.5 892.1L487.7 893.7L487.9 895.3L488.1 896.8L488.3 898.4L488.6 900.0L488.8 901.6L489.0 903.1L489.2 904.7L489.4 906.3L489.6 907.9L489.8 909.4L490.0 911.0L490.3 912.5L490.5 914.1L490.7 915.7L490.9 917.2L491.1 918.7L491.3 920.3L491.5 921.8L491.7 923.3L492.0 924.8L492.2 926.3L492.4 927.8L492.6 929.3L492.8 930.8L493.0 932.2L493.2 933.7L493.4 935.1L493.6 936.6L493.8 938.0L494.0 939.4L494.2 940.8L494.4 942.2L494.6 943.6L494.8 944.9L495.0 946.3L495.2 947.6L495.4 948.9L495.6 950.2L495.8 951.5L495.9 952.8L496.1 954.0L496.3 955.3L496.5 956.5L496.8 958.3L497.0 960.0L497.3 961.7L497.5 963.3L497.8 965.0L498.0 966.6L498.3 968.1L498.5 969.7L498.7 971.2L499.0 972.7L499.2 974.2L499.4 975.7L499.7 977.1L499.9 978.6L500.1 980.0L500.4 981.4L500.6 982.8L500.8 984.2L501.1 985.7L501.3 987.1L501.5 988.5L501.8 989.9L502.0 991.3L502.3 992.7L502.5 994.1L502.7 995.6L503.0 997.0L503.2 998.5L503.5 1000.0L503.8 1001.5L504.0 1003.0L504.3 1004.5L504.6 1005.9L504.8 1007.4L505.1 1008.9L505.4 1010.3L505.6 1011.8L505.9 1013.2L506.2 1014.7L506.5 1016.1L506.7 1017.6L507.0 1019.0L507.3 1020.5L507.6 1022.0L507.9 1023.4L508.1 1024.9L508.4 1026.4L508.7 1027.9L509.0 1029.4L509.3 1030.9L509.5 1032.4L509.8 1033.9L510.1 1035.4L510.4 1036.9L510.7 1038.5L510.9 1040.0L511.2 1041.6L511.5 1043.2L511.7 1044.6L512.0 1046.0L512.2 1047.4L512.5 1048.9L512.7 1050.3L512.9 1051.8L513.1 1053.2L513.4 1054.7L513.6 1056.2L513.8 1057.7L514.1 1059.2L514.3 1060.7L514.5 1062.2L514.8 1063.7L515.0 1065.2L515.2 1066.8L515.4 1068.3L515.7 1069.8L515.9 1071.4L516.1 1072.9L516.4 1074.4L516.6 1076.0L516.8 1077.5L517.1 1079.0L517.3 1080.6L517.6 1082.1L517.8 1083.6L518.1 1085.1L518.3 1086.7L518.6 1088.2L518.8 1089.7L519.1 1091.2L519.3 1092.7L519.6 1094.1L519.9 1095.6L520.1 1097.1L520.4 1098.6L520.7 1100.0L521.0 1101.5L521.3 1103.0L521.6 1104.6L521.9 1106.1L522.2 1107.6L522.6 1109.1L522.9 1110.6L523.2 1112.1L523.5 1113.6L523.9 1115.1L524.2 1116.6L524.5 1118.1L524.9 1119.6L525.2 1121.1L525.5 1122.6L525.9 1124.1L526.2 1125.6L526.6 1127.1L526.9 1128.5L527.3 1130.0L527.6 1131.5L528.0 1132.9L528.3 1134.4L528.7 1135.8L529.1 1137.3L529.4 1138.7L529.8 1140.1L530.1 1141.6L530.5 1143.0L530.9 1144.4L531.2 1145.8L531.6 1147.2L531.9 1148.6L532.3 1150.0L532.7 1151.6L533.1 1153.2L533.6 1154.7L534.0 1156.3L534.4 1157.9L534.8 1159.5L535.3 1161.1L535.7 1162.6L536.1 1164.2L536.6 1165.8L537.0 1167.3L537.5 1168.9L537.9 1170.4L538.4 1171.9L538.8 1173.5L539.2 1174.9L539.7 1176.4L540.1 1177.9L540.6 1179.3L541.0 1180.8L541.4 1182.2L541.9 1183.5L542.3 1184.9L542.7 1186.2L543.2 1187.5L543.6 1188.8L544.0 1190.0L544.6 1191.7L545.1 1193.3L545.7 1194.8L546.3 1196.4L546.8 1197.8L547.4 1199.3L547.9 1200.7L548.5 1202.1L549.1 1203.4L549.6 1204.8L550.2 1206.1L550.7 1207.4L551.3 1208.7L551.8 1210.0L552.4 1211.5L553.0 1213.1L553.6 1214.5L554.2 1216.0L554.8 1217.5L555.4 1218.9L556.1 1220.2L556.7 1221.6L557.4 1222.9L558.2 1224.1L559.1 1225.5L560.1 1226.8L561.2 1228.0L562.3 1229.2L563.4 1230.4L564.5 1231.5L565.6 1232.6L566.6 1233.6L567.9 1235.0L569.1 1236.3L570.4 1237.5L571.6 1238.6L573.0 1239.5L574.7 1240.3L576.4 1240.9L578.2 1241.3L580.0 1241.5L581.7 1241.6L583.5 1241.4L585.3 1241.1L587.0 1240.5L588.2 1239.9L589.4 1239.0L590.6 1238.1L591.8 1237.0L593.0 1235.9L594.2 1234.7L595.4 1233.6L596.5 1232.6L597.5 1231.7L598.6 1230.7L599.7 1229.7L600.8 1228.6L601.9 1227.5L602.9 1226.4L604.0 1225.3L605.1 1224.1L606.1 1222.9L607.1 1221.7L608.0 1220.4L608.9 1219.1L609.9 1217.8L610.8 1216.4L611.8 1215.1L612.8 1213.8L613.8 1212.5L614.9 1211.2L616.0 1210.0L617.1 1208.9L618.3 1207.9L619.5 1207.0L620.7 1206.0L622.0 1205.1L623.2 1204.2L624.5 1203.3L625.8 1202.4L627.1 1201.4L628.3 1200.3L629.5 1199.2L630.7 1198.0L631.6 1197.0L632.5 1195.9L633.4 1194.7L634.3 1193.5L635.1 1192.3L636.0 1191.1L636.8 1189.8L637.7 1188.5L638.5 1187.1L639.3 1185.8L640.1 1184.4L641.0 1183.1L641.8 1181.7L642.6 1180.4L643.4 1179.0L644.3 1177.7L645.1 1176.3L646.0 1175.0L646.9 1173.7L647.7 1172.5L648.6 1171.2L649.4 1170.0L650.3 1168.8L651.1 1167.5L652.0 1166.3L652.9 1165.1L653.7 1163.8L654.6 1162.6L655.5 1161.3L656.3 1160.0L657.2 1158.7L658.1 1157.3L659.0 1155.9L659.8 1154.5L660.7 1153.1L661.6 1151.6L662.5 1150.0L663.1 1148.9L663.8 1147.7L664.4 1146.5L665.1 1145.3L665.8 1144.0L666.4 1142.7L667.1 1141.5L667.8 1140.1L668.4 1138.8L669.1 1137.5L669.8 1136.1L670.5 1134.7L671.1 1133.3L671.8 1131.9L672.5 1130.5L673.2 1129.1L673.9 1127.7L674.5 1126.2L675.2 1124.8L675.9 1123.3L676.6 1121.8L677.2 1120.4L677.9 1118.9L678.6 1117.4L679.3 1115.9L679.9 1114.5L680.6 1113.0L681.2 1111.5L681.9 1110.1L682.5 1108.6L683.1 1107.1L683.8 1105.7L684.4 1104.3L685.0 1102.8L685.6 1101.4L686.2 1100.0L686.8 1098.6L687.4 1097.2L688.0 1095.7L688.6 1094.3L689.1 1092.9L689.7 1091.5L690.3 1090.1L690.8 1088.6L691.4 1087.2L691.9 1085.8L692.4 1084.4L693.0 1082.9L693.5 1081.5L694.1 1080.1L694.6 1078.6L695.1 1077.2L695.6 1075.8L696.2 1074.3L696.7 1072.9L697.2 1071.5L697.7 1070.0L698.2 1068.6L698.8 1067.2L699.3 1065.7L699.8 1064.3L700.3 1062.9L700.8 1061.5L701.3 1060.0L701.9 1058.6L702.4 1057.2L702.9 1055.7L703.4 1054.3L703.9 1052.9L704.5 1051.4L705.0 1050.0L705.5 1048.6L706.1 1047.1L706.6 1045.7L707.1 1044.3L707.7 1042.9L708.2 1041.4L708.7 1040.0L709.3 1038.6L709.8 1037.2L710.3 1035.7L710.9 1034.3L711.4 1032.9L711.9 1031.4L712.5 1030.0L713.0 1028.6L713.5 1027.2L714.1 1025.7L714.6 1024.3L715.1 1022.9L715.7 1021.5L716.2 1020.0L716.7 1018.6L717.2 1017.2L717.8 1015.7L718.3 1014.3L718.8 1012.9L719.3 1011.5L719.8 1010.0L720.4 1008.6L720.9 1007.2L721.4 1005.7L721.9 1004.3L722.4 1002.9L722.9 1001.4L723.4 1000.0L723.9 998.6L724.4 997.2L724.9 995.7L725.4 994.3L725.9 992.9L726.4 991.4L726.8 990.0L727.3 988.6L727.8 987.2L728.3 985.7L728.8 984.3L729.2 982.9L729.7 981.5L730.2 980.0L730.7 978.6L731.1 977.2L731.6 975.7L732.1 974.3L732.6 972.9L733.0 971.5L733.5 970.0L734.0 968.6L734.4 967.2L734.9 965.7L735.3 964.3L735.8 962.9L736.3 961.4L736.7 960.0L737.2 958.6L737.6 957.2L738.1 955.7L738.5 954.3L739.0 952.9L739.4 951.4L739.9 950.0L740.4 948.5L740.8 947.1L741.3 945.6L741.7 944.1L742.2 942.7L742.6 941.2L743.1 939.7L743.5 938.3L744.0 936.8L744.4 935.3L744.9 933.8L745.3 932.4L745.8 930.9L746.2 929.4L746.6 928.0L747.1 926.5L747.5 925.0L748.0 923.5L748.4 922.1L748.8 920.6L749.3 919.1L749.7 917.7L750.1 916.2L750.6 914.7L751.0 913.2L751.4 911.8L751.9 910.3L752.3 908.8L752.7 907.4L753.2 905.9L753.6 904.4L754.0 902.9L754.5 901.5L754.9 900.0L755.3 898.5L755.8 897.1L756.2 895.6L756.6 894.1L757.1 892.7L757.5 891.2L757.9 889.7L758.4 888.2L758.8 886.8L759.2 885.3L759.7 883.8L760.1 882.4L760.5 880.9L761.0 879.4L761.4 878.0L761.8 876.5L762.3 875.0L762.7 873.5L763.1 872.1L763.5 870.6L764.0 869.1L764.4 867.7L764.8 866.2L765.2 864.7L765.6 863.3L766.1 861.8L766.5 860.3L766.9 858.8L767.3 857.4L767.7 855.9L768.1 854.4L768.5 852.9L768.9 851.5L769.3 850.0L769.7 848.5L770.1 847.0L770.5 845.5L770.9 844.0L771.3 842.4L771.6 840.8L772.0 839.3L772.4 837.7L772.8 836.1L773.2 834.5L773.6 832.9L773.9 831.3L774.3 829.7L774.7 828.1L775.1 826.5L775.5 824.9L775.8 823.3L776.2 821.8L776.6 820.2L776.9 818.7L777.3 817.2L777.7 815.7L778.0 814.2L778.4 812.8L778.7 811.3L779.1 809.9L779.4 808.6L779.8 807.2L780.1 805.9L780.5 804.7L780.8 803.4L781.1 802.2L781.5 801.1L781.8 800.0L782.4 798.2L782.9 796.5L783.5 794.9L784.0 793.3L784.6 791.9L785.1 790.4L785.7 789.1L786.2 787.7L786.7 786.5L787.1 785.3L787.6 784.1L788.0 783.0L788.7 781.1L789.2 779.4L789.8 777.9L790.5 776.3L791.4 774.4L792.4 772.4L793.5 770.8L794.7 770.1L795.5 770.4L796.4 771.2L797.4 772.4L798.3 774.0L799.3 775.7L800.2 777.6L801.1 779.6L801.9 781.5L802.3 782.6L802.8 783.8L803.2 785.1L803.6 786.4L804.0 787.8L804.3 789.2L804.7 790.6L805.0 792.1L805.3 793.7L805.7 795.2L806.0 796.8L806.3 798.4L806.6 800.0L806.9 801.6L807.2 803.2L807.6 804.8L807.9 806.4L808.2 808.0L808.5 809.6L808.9 811.1L809.2 812.6L809.5 814.1L809.9 815.6L810.2 817.0L810.6 818.5L810.9 820.0L811.3 821.5L811.6 823.0L812.0 824.4L812.3 825.9L812.7 827.4L813.0 828.9L813.4 830.4L813.7 831.9L814.1 833.3L814.4 834.8L814.8 836.3L815.1 837.8L815.5 839.3L815.8 840.7L816.2 842.2L816.5 843.7L816.8 845.2L817.2 846.7L817.5 848.3L817.9 849.8L818.2 851.4L818.6 853.0L818.9 854.6L819.3 856.2L819.6 857.8L820.0 859.3L820.3 860.9L820.7 862.4L821.0 864.0L821.4 865.5L821.7 866.9L822.0 868.4L822.4 869.7L822.7 871.1L823.0 872.4L823.4 873.6L823.7 874.8L824.2 876.8L824.8 879.0L825.3 881.1L825.8 883.1L826.3 884.8L826.9 886.2L827.4 887.2L828.0 887.5L828.6 887.2L829.2 886.2L829.8 884.7L830.5 882.9L831.1 880.9L831.8 878.8L832.4 876.8L833.0 875.0L833.5 873.6L834.0 872.2L834.5 870.8L835.1 869.3L835.6 867.9L836.0 866.4L836.5 864.9L837.0 863.3L837.5 861.7L837.9 860.0L838.2 858.7L838.5 857.3L838.8 855.9L839.1 854.5L839.3 853.0L839.6 851.4L839.9 849.9L840.1 848.3L840.4 846.7L840.6 845.1L840.9 843.5L841.1 841.9L841.4 840.4L841.6 838.8L841.9 837.3L842.1 835.8L842.4 834.3L842.7 832.9L843.0 831.2L843.4 829.6L843.7 827.9L844.0 826.3L844.3 824.6L844.7 823.0L845.0 821.4L845.4 819.9L845.8 818.4L846.2 816.9L846.6 815.4L847.1 814.0L847.6 812.7L848.3 811.2L849.0 809.8L849.8 808.4L850.7 807.2L851.5 805.9L852.4 804.7L853.2 803.4L854.0 802.0L854.8 800.6L855.5 799.2L856.1 797.9L856.7 796.5L857.3 795.0L857.9 793.6L858.5 792.1L859.0 790.6L859.6 789.1L860.2 787.6L860.7 786.0L861.3 784.5L861.8 783.1L862.3 781.6L862.9 780.1L863.4 778.6L863.9 777.0L864.4 775.5L864.9 773.9L865.4 772.4L865.9 770.9L866.4 769.4L867.0 767.9L867.5 766.4L868.0 765.0L868.6 763.5L869.2 762.0L869.8 760.6L870.5 759.3L871.1 758.0L871.7 756.6L872.3 755.1L873.0 753.6L873.6 751.9L874.2 750.0L874.5 748.9L874.8 747.8L875.2 746.7L875.5 745.5L875.8 744.2L876.1 743.0L876.4 741.6L876.7 740.3L877.0 738.9L877.4 737.5L877.7 736.0L878.0 734.6L878.3 733.1L878.6 731.5L878.9 730.0L879.2 728.4L879.5 726.9L879.8 725.3L880.1 723.7L880.5 722.1L880.8 720.5L881.1 718.8L881.4 717.2L881.7 715.6L882.0 714.0L882.4 712.4L882.7 710.8L883.0 709.2L883.3 707.6L883.7 706.1L884.0 704.5L884.3 703.0L884.7 701.5L885.0 700.0L885.3 698.5L885.7 697.1L886.0 695.6L886.3 694.1L886.7 692.6L887.0 691.2L887.4 689.7L887.7 688.2L888.0 686.7L888.4 685.3L888.7 683.8L889.0 682.3L889.4 680.8L889.7 679.4L890.0 677.9L890.4 676.4L890.7 674.9L891.1 673.5L891.4 672.0L891.8 670.5L892.2 669.1L892.5 667.6L892.9 666.1L893.3 664.6L893.6 663.2L894.0 661.7L894.4 660.2L894.8 658.8L895.2 657.3L895.6 655.8L896.0 654.4L896.4 652.9L896.9 651.5L897.3 650.0L897.7 648.6L898.2 647.1L898.6 645.6L899.1 644.2L899.5 642.7L900.0 641.2L900.5 639.7L901.0 638.2L901.5 636.7L902.0 635.2L902.5 633.7L903.0 632.2L903.5 630.7L904.0 629.2L904.5 627.7L905.0 626.2L905.5 624.7L906.0 623.3L906.6 621.8L907.1 620.3L907.6 618.9L908.2 617.4L908.7 616.0L909.2 614.6L909.7 613.1L910.3 611.8L910.8 610.4L911.3 609.0L911.9 607.7L912.4 606.3L912.9 605.0L913.4 603.7L914.0 602.5L914.5 601.2L915.0 600.0L915.7 598.4L916.4 596.8L917.0 595.3L917.7 593.7L918.4 592.2L919.0 590.8L919.7 589.3L920.4 587.9L921.0 586.5L921.7 585.1L922.4 583.8L923.1 582.4L923.8 581.1L924.5 579.8L925.2 578.4L925.9 577.1L926.7 575.8L927.4 574.6L928.2 573.3L929.0 572.0L929.9 570.7L930.8 569.4L931.7 568.1L932.7 566.9L933.6 565.6L934.6 564.4L935.6 563.2L936.7 562.0L937.7 560.9L938.7 559.7L939.7 558.5L940.7 557.3L941.7 556.1L942.7 555.0L943.7 553.7L944.6 552.5L945.5 551.3L946.4 550.0L947.2 548.7L948.1 547.4L948.9 546.1L949.7 544.8L950.5 543.5L951.3 542.2L952.0 540.9L952.8 539.6L953.5 538.2L954.2 536.9L955.0 535.5L955.7 534.2L956.4 532.8L957.1 531.5L957.9 530.1L958.6 528.7L959.3 527.4L960.0 526.0L960.7 524.7L961.4 523.3L962.1 522.0L962.8 520.7L963.5 519.3L964.1 518.0L964.8 516.6L965.5 515.3L966.2 513.9L966.8 512.5L967.5 511.2L968.1 509.8L968.8 508.4L969.4 507.0L970.0 505.6L970.7 504.2L971.3 502.8L971.9 501.4L972.5 500.0L973.1 498.6L973.7 497.2L974.2 495.8L974.8 494.4L975.3 492.9L975.9 491.5L976.4 490.1L976.9 488.6L977.4 487.2L978.0 485.7L978.5 484.3L979.0 482.8L979.5 481.4L980.0 479.9L980.5 478.4L981.0 476.9L981.5 475.5L982.0 474.0L982.5 472.5L983.0 471.0L983.5 469.6L984.0 468.1L984.4 466.7L984.9 465.2L985.4 463.7L985.9 462.2L986.3 460.7L986.8 459.2L987.3 457.6L987.8 456.1L988.2 454.6L988.7 453.1L989.1 451.6L989.6 450.1L990.0 448.6L990.5 447.2L990.9 445.8L991.3 444.3L991.8 443.0L992.2 441.6L992.6 440.3L993.0 439.0L993.5 437.4L994.0 435.8L994.5 434.2L994.9 432.7L995.4 431.3L995.8 429.8L996.3 428.4L996.7 427.0L997.2 425.6L997.6 424.2L998.1 422.8L998.5 421.3L999.0 419.9L999.5 418.5L999.9 417.0L1000.4 415.6L1000.9 414.2L1001.3 412.8L1001.8 411.4L1002.3 410.0L1002.8 408.6L1003.3 407.2L1003.8 405.8L1004.3 404.4L1004.9 402.9L1005.5 401.5L1006.1 400.1L1006.7 398.8L1007.3 397.4L1007.9 396.0L1008.6 394.6L1009.2 393.2L1009.9 391.8L1010.6 390.4L1011.3 389.0L1012.0 387.7L1012.7 386.3L1013.4 384.9L1014.1 383.6L1014.8 382.3L1015.5 381.0L1016.3 379.6L1017.1 378.2L1017.9 376.8L1018.7 375.5L1019.5 374.2L1020.3 372.8L1021.2 371.5L1022.0 370.2L1022.8 368.9L1023.6 367.5L1024.5 366.1L1025.3 364.6L1026.0 363.3L1026.7 362.0L1027.5 360.6L1028.2 359.2L1028.9 357.8L1029.6 356.4L1030.3 355.0L1031.1 353.5L1031.8 352.1L1032.5 350.6L1033.3 349.2L1034.0 347.7L1034.8 346.3L1035.5 344.8L1036.2 343.4L1037.0 342.0L1037.8 340.6L1038.5 339.3L1039.3 337.9L1040.0 336.6L1040.8 335.2L1041.6 333.9L1042.4 332.5L1043.1 331.2L1043.9 329.9L1044.7 328.5L1045.5 327.1L1046.3 325.8L1047.0 324.4L1047.8 322.9L1048.6 321.5L1049.4 320.0L1050.1 318.7L1050.7 317.5L1051.4 316.2L1052.0 314.9L1052.7 313.5L1053.3 312.2L1054.0 310.8L1054.7 309.5L1055.3 308.1L1056.0 306.7L1056.6 305.3L1057.3 303.9L1058.0 302.5L1058.6 301.1L1059.3 299.7L1060.0 298.3L1060.6 296.9L1061.3 295.5L1062.0 294.1L1062.7 292.7L1063.3 291.4L1064.0 290.0L1064.7 288.6L1065.4 287.3L1066.0 285.9L1066.7 284.5L1067.4 283.2L1068.1 281.8L1068.8 280.5L1069.5 279.1L1070.2 277.7L1070.9 276.4L1071.6 275.0L1072.3 273.7L1073.0 272.3L1073.7 270.9L1074.4 269.6L1075.1 268.2L1075.8 266.8L1076.4 265.5L1077.1 264.1L1077.8 262.7L1078.4 261.4L1079.1 260.0L1079.8 258.6L1080.4 257.2L1081.1 255.7L1081.7 254.3L1082.4 252.9L1083.0 251.4L1083.7 250.0L1084.3 248.6L1084.9 247.2L1085.5 245.7L1086.2 244.3L1086.8 242.9L1087.4 241.4L1088.0 240.0L1088.7 238.6L1089.3 237.1L1089.9 235.7L1090.6 234.3L1091.2 232.9L1091.8 231.4L1092.5 230.0L1093.1 228.6L1093.8 227.2L1094.4 225.8L1095.1 224.4L1095.8 223.0L1096.4 221.6L1097.1 220.2L1097.8 218.8L1098.5 217.4L1099.2 216.0L1099.8 214.6L1100.5 213.2L1101.2 211.8L1101.8 210.4L1102.5 209.1L1103.1 207.7L1103.8 206.4L1104.4 205.1L1105.0 203.8L1105.6 202.5L1106.2 201.2L1106.7 200.0L1107.4 198.4L1108.1 196.8L1108.7 195.3L1109.3 193.7L1109.9 192.2L1110.4 190.7L1111.0 189.3L1111.6 187.9L1112.1 186.4L1112.7 185.0L1113.3 183.7L1113.9 182.3L1114.6 181.0L1115.4 179.5L1116.2 178.0L1117.0 176.6L1117.9 175.1L1118.7 173.8L1119.6 172.4L1120.5 171.1L1121.4 169.8L1122.3 168.5L1123.2 167.2L1124.2 166.0L1125.2 164.8L1126.2 163.7L1127.3 162.6L1128.3 161.5L1129.3 160.4L1130.3 159.3L1131.1 158.1L1131.9 156.8L1132.6 155.4L1133.2 153.9L1133.7 152.4L1134.2 150.9L1134.7 149.3L1135.1 147.7L1135.4 146.1L1135.8 144.6L1136.2 143.0L1136.6 141.5L1136.9 140.0L1137.2 138.5L1137.5 137.1L1137.8 135.6L1138.0 134.1L1138.3 132.5L1138.5 130.8L1138.8 129.1L1139.0 127.8L1139.2 126.4L1139.3 125.0L1139.5 123.5L1139.6 122.0L1139.8 120.4L1139.9 118.9L1140.1 117.3L1140.2 115.7L1140.4 114.1L1140.5 112.5L1140.6 110.9L1140.8 109.3L1140.9 107.7L1141.1 106.2L1141.2 104.7L1141.4 103.2L1141.6 101.5L1141.7 99.8L1141.9 98.0L1142.0 96.3L1142.1 94.5L1142.3 92.8L1142.4 91.1L1142.6 89.5L1142.8 87.9L1143.0 86.4L1143.3 85.0L1143.6 83.7L1144.0 82.5L1144.7 80.6L1145.6 78.7L1146.5 77.1L1147.5 76.0L1148.3 75.6L1149.1 76.1L1149.8 77.2L1150.5 78.8L1151.1 80.6L1151.7 82.5L1152.0 83.8L1152.3 85.5L1152.5 87.3L1152.8 89.4L1153.0 91.5L1153.1 93.6L1153.3 95.7L1153.5 97.7L1153.6 99.5L1153.8 101.0L1153.9 102.2L1154.1 102.9L1154.3 103.2L1154.5 102.9L1154.7 102.0L1154.9 100.7L1155.0 99.0L1155.2 97.1L1155.4 95.0L1155.6 92.9L1155.8 90.8L1156.1 88.9L1156.5 87.3L1156.9 86.0L1157.8 84.2L1158.8 82.7L1160.0 81.5L1161.2 80.7L1162.9 80.5L1164.7 80.8L1166.4 81.6L1167.4 82.5L1168.4 83.7L1169.4 85.1L1170.3 86.7L1171.3 88.3L1172.3 89.8L1173.3 91.1L1174.4 92.3L1175.5 93.5L1176.6 94.6L1177.8 95.6L1179.0 96.5L1180.3 97.2L1181.9 97.9L1183.6 98.5L1185.4 98.9L1187.2 99.1L1188.9 98.9L1190.2 98.5L1191.4 97.8L1192.6 96.9L1193.7 95.8L1194.9 94.8L1196.2 93.7L1197.5 92.8L1198.7 92.0L1200.0 91.2L1201.2 90.4L1202.6 89.6L1203.9 88.8L1205.3 88.0L1206.7 87.2L1208.1 86.5L1209.6 85.9L1211.0 85.4L1212.5 84.9L1214.0 84.4L1215.6 84.0L1217.2 83.6L1218.8 83.2L1220.4 82.9L1222.1 82.6L1223.7 82.2L1225.3 81.9L1226.9 81.6L1228.5 81.3L1230.0 81.0L1231.6 80.7L1233.2 80.4L1234.7 80.2L1236.3 79.9L1237.9 79.7L1239.5 79.5L1241.0 79.3L1242.6 79.1L1244.2 79.0L1245.8 78.9L1247.4 78.8L1249.0 78.7L1250.6 79.6L1252.2 79.5L1253.8 79.6L1255.4 79.6L1256.9 78.5L1258.5 78.6L1260.0 78.0L1261.5 78.1L1263.1 78.5L1264.6 78.6L1266.2 78.5L1267.7 78.7L1269.1 79.1L1270.6 79.2L1272.0 79.9L1273.5 80.0L1275.1 80.6L1276.6 80.4L1278.0 79.8L1279.5 79.4L1281.0 79.3L1282.5 78.9L1283.6 77.2L1285.1 76.7L1286.7 76.3L1288.3 75.9L1290.1 76.8L1291.5 76.6L1292.7 75.2L1294.2 75.1L1295.7 75.0L1297.3 74.9L1298.8 74.1L1300.4 74.0L1301.9 73.6L1303.5 73.5L1305.1 74.9L1306.7 74.8L1308.3 75.4L1309.8 75.2L1311.2 74.7L1312.5 74.4L1313.9 72.9L1315.5 72.5L1317.0 72.0L1318.5 71.6L1319.9 70.9L1321.3 70.5L1323.0 70.8L1324.5 70.3L1326.0 70.1L1327.5 69.6L1328.9 68.7L1330.4 68.1L1331.8 67.5L1333.3 66.9L1334.4 65.5L1335.9 64.8L1337.6 64.7L1339.1 64.1L1341.0 64.5L1342.6 64.0L1344.0 63.6L1345.4 63.2L1346.5 61.6L1348.0 61.2L1349.6 61.2L1351.2 60.8L1352.8 61.0L1354.4 60.7L1355.8 59.7L1357.4 59.4L1359.1 60.1L1360.6 59.9L1362.0 59.2L1363.4 59.0L1364.8 59.2L1366.5 59.0L1368.0 58.4L1369.5 58.3L1371.1 59.2L1372.5 59.2L1374.0 59.1L1375.4 59.2L1376.8 58.9L1378.3 59.0L1379.9 58.2L1381.4 58.5L1382.9 59.1L1384.4 59.5L1386.2 59.3L1387.7 59.9L1388.9 61.3L1390.4 61.9L1391.6 63.3L1393.1 64.0L1394.9 63.7L1396.3 64.2L1397.6 65.1L1399.0 65.7L1400.4 66.3L1401.7 67.0L1403.2 67.5L1404.5 68.2L1405.6 69.4L1407.0 70.2L1408.0 71.5L1409.3 72.3L1410.6 73.0L1411.9 73.9L1413.4 74.4L1414.7 75.3L1415.5 76.9L1416.7 77.9L1418.5 78.2L1419.8 79.3L1420.7 80.6L1421.9 81.7L1423.1 82.8L1424.4 83.8L1425.4 84.9L1426.6 85.9L1427.6 87.1L1428.7 88.1L1430.7 88.2L1431.8 89.2L1432.8 90.5L1433.9 91.5L1435.3 92.3L1436.4 93.4L1437.3 94.8L1438.4 95.9L1438.9 97.6L1439.9 98.7L1441.2 99.6L1442.1 100.7L1444.2 100.9L1445.2 102.1L1445.9 103.5L1446.8 104.7L1447.3 106.4L1448.2 107.6L1448.7 109.2L1449.6 110.5L1450.7 111.6L1451.6 112.9L1452.2 114.3L1453.1 115.6L1455.2 116.1L1456.1 117.4L1455.8 119.4L1456.6 120.8L1457.4 122.2L1458.2 123.6L1459.1 124.9L1459.9 126.3L1460.2 127.9L1460.9 129.3L1461.5 130.8L1462.2 132.3L1464.3 133.0L1465.0 134.4L1464.9 136.2L1465.6 137.6L1466.0 139.1L1466.7 140.5L1468.3 141.5L1469.0 142.9L1469.0 144.5L1469.6 145.9L1470.3 147.3L1470.9 148.6L1472.2 149.7L1472.8 151.1L1472.5 152.8L1473.1 154.2L1474.6 155.3L1475.1 156.7L1475.2 158.3L1475.7 159.8L1476.3 161.2L1476.9 162.6L1477.8 164.0L1478.3 165.4L1478.3 167.0L1478.8 168.5L1479.3 170.0L1479.8 171.5L1480.8 172.8L1481.2 174.4L1480.4 176.2L1480.9 177.8L1482.5 179.0L1482.9 180.5L1484.0 181.9L1484.4 183.5L1484.1 185.1L1484.4 186.5L1483.8 188.2L1484.1 189.7L1484.4 191.2L1484.7 192.6L1484.8 194.2L1485.1 195.7L1485.9 197.1L1486.2 198.6L1486.3 200.1L1486.6 201.6L1487.5 203.1L1487.8 204.6L1488.4 206.0L1488.7 207.5L1488.7 209.1L1489.0 210.6L1490.1 212.0L1490.4 213.5L1490.9 214.9L1491.2 216.4L1490.3 218.1L1490.6 219.6L1491.6 221.0L1491.9 222.5L1491.3 224.2L1491.6 225.7L1491.5 227.3L1491.8 228.8L1492.7 230.2L1493.0 231.7L1493.0 233.2L1493.3 234.8L1493.2 236.3L1493.5 237.8L1493.5 239.4L1493.8 240.9L1495.4 242.1L1495.7 243.6L1496.5 245.0L1496.7 246.5L1496.8 248.0L1497.1 249.4L1497.1 250.9L1497.4 252.3L1497.9 253.7L1498.2 255.1L1499.1 256.5L1499.4 257.9L1498.9 259.6L1499.1 261.0L1498.3 262.7L1498.5 264.2L1499.5 265.7L1499.8 267.2L1500.0 268.8L1500.3 270.4L1500.5 272.1L1500.7 273.4L1500.8 274.8L1501.0 276.1L1501.1 277.5L1501.3 278.9L1501.4 280.3L1501.6 281.8L1501.7 283.2L1501.8 284.7L1502.0 286.2L1502.1 287.6L1502.2 289.1L1502.3 290.6L1502.4 292.2L1502.6 293.7L1502.7 295.2L1502.8 296.7L1502.9 298.3L1503.0 299.8L1503.1 301.4L1503.2 302.9L1503.3 304.5L1503.4 306.1L1503.5 307.6L1503.7 309.2L1503.8 310.7L1503.9 312.3L1504.0 313.8L1504.1 315.4L1504.2 316.9L1504.4 318.5L1504.5 320.0L1504.6 321.5L1504.8 323.0L1504.9 324.5L1505.0 326.1L1505.2 327.6L1505.3 329.1L1505.4 330.7L1505.6 332.2L1505.7 333.7L1505.8 335.3L1506.0 336.8L1506.1 338.4L1506.3 339.9L1506.4 341.5L1506.5 343.1L1506.7 344.6L1506.8 346.2L1507.0 347.7L1507.1 349.3L1507.2 350.8L1507.4 352.4L1507.5 353.9L1507.7 355.5L1507.8 357.0L1507.9 358.6L1508.1 360.1L1508.2 361.6L1508.3 363.2L1508.5 364.7L1508.6 366.2L1508.7 367.7L1508.9 369.2L1509.0 370.7L1509.1 372.2L1509.2 373.8L1509.4 375.4L1509.5 376.9L1509.6 378.5L1509.7 380.0L1509.9 381.6L1510.0 383.1L1510.1 384.7L1510.2 386.2L1510.4 387.7L1510.5 389.3L1510.6 390.8L1510.7 392.3L1510.9 393.9L1511.0 395.4L1511.1 396.9L1511.2 398.4L1511.3 399.9L1511.4 401.4L1511.6 403.0L1511.7 404.5L1511.8 406.0L1511.9 407.5L1512.0 409.0L1512.1 410.6L1512.2 412.1L1512.3 413.6L1512.4 415.1L1512.5 416.7L1512.6 418.2L1512.7 419.7L1512.8 421.3L1512.9 422.8L1513.0 424.3L1513.1 425.9L1513.1 427.4L1513.2 429.0L1513.3 430.5L1513.4 432.0L1513.5 433.6L1513.5 435.1L1513.6 436.6L1513.7 438.2L1513.8 439.7L1513.8 441.2L1513.9 442.8L1514.0 444.3L1514.0 445.9L1514.1 447.4L1514.2 448.9L1514.2 450.5L1514.3 452.0L1514.4 453.5L1514.5 455.1L1514.5 456.6L1514.6 458.2L1514.7 459.7L1514.7 461.2L1514.8 462.8L1514.9 464.3L1515.0 465.8L1515.1 467.4L1515.1 468.9L1515.2 470.4L1515.3 472.0L1515.3 473.5L1515.4 475.1L1515.5 476.6L1515.6 478.1L1515.6 479.7L1515.7 481.2L1515.8 482.7L1515.8 484.3L1515.9 485.8L1516.0 487.4L1516.1 488.9L1516.1 490.4L1516.2 492.0L1516.3 493.5L1516.4 495.0L1516.4 496.6L1516.5 498.1L1516.6 499.6L1516.7 501.2L1516.8 502.7L1516.8 504.3L1516.9 505.8L1517.0 507.3L1517.1 508.9L1517.2 510.4L1517.3 511.9L1517.4 513.5L1517.5 515.0L1517.6 516.5L1517.7 518.0L1517.8 519.6L1517.9 521.1L1518.1 522.6L1518.2 524.1L1518.3 525.6L1518.4 527.2L1518.5 528.7L1518.7 530.2L1518.8 531.7L1518.9 533.2L1519.0 534.8L1519.1 536.3L1519.3 537.8L1519.4 539.3L1519.5 540.9L1519.6 542.4L1519.7 544.0L1519.9 545.5L1520.0 547.1L1520.1 548.6L1520.2 550.2L1520.3 551.7L1520.4 553.3L1520.5 554.9L1520.6 556.5L1520.7 558.0L1520.8 559.4L1520.8 560.9L1520.9 562.4L1521.0 563.8L1521.1 565.3L1521.2 566.8L1521.2 568.2L1521.3 569.7L1521.4 571.2L1521.4 572.7L1521.5 574.1L1521.6 575.6L1521.6 577.1L1521.7 578.6L1521.7 580.1L1521.8 581.6L1521.9 583.1L1521.9 584.6L1522.0 586.1L1522.0 587.6L1522.1 589.2L1522.2 590.7L1522.2 592.3L1522.3 593.8L1522.4 595.4L1522.4 597.0L1522.5 598.5L1522.6 600.1L1522.6 601.8L1522.7 603.4L1522.8 605.0L1522.8 606.7L1522.9 608.3L1523.0 610.0L1523.1 611.4L1523.1 612.7L1523.2 614.1L1523.3 615.5L1523.3 616.9L1523.4 618.3L1523.5 619.7L1523.5 621.2L1523.6 622.6L1523.7 624.0L1523.7 625.5L1523.8 627.0L1523.9 628.4L1523.9 629.9L1524.0 631.4L1524.1 632.9L1524.2 634.3L1524.2 635.8L1524.3 637.3L1524.4 638.8L1524.4 640.4L1524.5 641.9L1524.6 643.4L1524.7 644.9L1524.7 646.5L1524.8 648.0L1524.9 649.5L1525.0 651.1L1525.0 652.6L1525.1 654.2L1525.2 655.7L1525.3 657.3L1525.3 658.8L1525.4 660.4L1525.5 661.9L1525.6 663.5L1525.7 665.1L1525.7 666.6L1525.8 668.2L1525.9 669.7L1526.0 671.3L1526.1 672.9L1526.2 674.4L1526.2 676.0L1526.3 677.6L1526.4 679.1L1526.5 680.7L1526.6 682.2L1526.7 683.8L1526.7 685.4L1526.8 686.9L1526.9 688.5L1527.0 690.0L1527.1 691.5L1527.2 693.0L1527.3 694.5L1527.3 696.0L1527.4 697.5L1527.5 699.0L1527.6 700.5L1527.7 702.0L1527.8 703.5L1527.9 705.1L1528.0 706.6L1528.0 708.1L1528.1 709.7L1528.2 711.2L1528.3 712.7L1528.4 714.3L1528.5 715.8L1528.6 717.4L1528.7 718.9L1528.8 720.5L1528.9 722.0L1529.0 723.6L1529.1 725.1L1529.2 726.7L1529.3 728.2L1529.4 729.8L1529.5 731.3L1529.6 732.9L1529.7 734.4L1529.8 736.0L1529.9 737.5L1530.0 739.1L1530.0 740.6L1530.1 742.1L1530.2 743.7L1530.3 745.2L1530.4 746.8L1530.5 748.3L1530.6 749.8L1530.7 751.3L1530.8 752.9L1530.9 754.4L1531.0 755.9L1531.1 757.4L1531.2 758.9L1531.3 760.4L1531.4 761.9L1531.5 763.4L1531.6 764.9L1531.7 766.4L1531.8 767.9L1531.9 769.3L1532.0 770.8L1532.1 772.2L1532.2 773.7L1532.3 775.1L1532.4 776.6L1532.5 778.0L1532.6 779.6L1532.7 781.2L1532.8 782.8L1532.9 784.3L1533.0 785.9L1533.1 787.5L1533.2 789.0L1533.3 790.6L1533.4 792.1L1533.5 793.7L1533.6 795.2L1533.7 796.8L1533.8 798.3L1533.9 799.8L1534.0 801.3L1534.1 802.9L1534.2 804.4L1534.3 805.9L1534.4 807.4L1534.5 808.9L1534.7 810.4L1534.8 811.9L1534.9 813.4L1535.0 814.9L1535.1 816.4L1535.2 817.9L1535.3 819.4L1535.4 820.8L1535.5 822.3L1535.6 823.8L1535.7 825.3L1535.8 826.7L1535.9 828.2L1536.0 829.6L1536.2 831.1L1536.3 832.6L1536.4 834.0L1536.5 835.5L1536.6 836.9L1536.7 838.4L1536.9 839.8L1537.0 841.3L1537.1 842.7L1537.2 844.1L1537.4 845.6L1537.5 847.0L1537.6 848.6L1537.8 850.2L1537.9 851.8L1538.1 853.4L1538.2 854.9L1538.4 856.5L1538.6 858.1L1538.7 859.7L1538.9 861.2L1539.0 862.8L1539.2 864.4L1539.3 865.9L1539.5 867.5L1539.7 869.0L1539.8 870.6L1540.0 872.1L1540.2 873.7L1540.3 875.2L1540.5 876.8L1540.7 878.3L1540.9 879.8L1541.0 881.3L1541.2 882.8L1541.4 884.4L1541.6 885.9L1541.7 887.4L1541.9 888.9L1542.1 890.4L1542.3 891.8L1542.5 893.3L1542.7 894.8L1542.8 896.3L1543.0 897.7L1543.2 899.2L1543.4 900.7L1543.6 902.1L1543.8 903.6L1544.0 905.0L1544.2 906.6L1544.4 908.2L1544.6 909.8L1544.8 911.4L1545.0 913.1L1545.2 914.7L1545.4 916.4L1545.6 918.1L1545.8 919.7L1546.0 921.4L1546.2 923.0L1546.4 924.7L1546.6 926.3L1546.8 927.9L1547.1 929.5L1547.3 931.1L1547.5 932.7L1547.7 934.2L1548.0 935.8L1548.2 937.3L1548.5 938.7L1548.7 940.1L1549.0 941.5L1549.3 942.9L1549.5 944.2L1549.8 945.5L1550.1 946.7L1550.5 947.8L1550.8 948.9L1551.1 950.0L1551.5 951.0L1552.2 952.7L1553.0 954.1L1553.9 955.4L1554.7 956.5L1555.6 957.6L1556.5 958.7L1557.3 959.9L1558.1 961.1L1558.8 962.6L1559.3 963.9L1559.8 965.2L1560.2 966.6L1560.6 968.0L1561.0 969.5L1561.4 971.1L1561.8 972.6L1562.1 974.2L1562.5 975.8L1562.8 977.4L1563.1 979.1L1563.5 980.7L1563.8 982.4L1564.1 984.0L1564.5 985.6L1564.8 987.1L1565.1 988.8L1565.4 990.6L1565.7 992.5L1566.0 994.4L1566.2 996.4L1566.5 998.4L1566.8 1000.4L1567.0 1002.3L1567.3 1004.2L1567.6 1005.9L1567.9 1007.5L1568.2 1009.0L1568.6 1010.3L1569.0 1011.4L1569.4 1012.3L1569.8 1013.0L1570.3 1013.3L1571.8 1013.1L1573.5 1011.7L1575.0 1010.0L1575.7 1008.9L1576.2 1007.7L1576.7 1006.4L1577.1 1004.9L1577.4 1003.3L1577.8 1001.4L1578.3 999.4L1578.5 998.5L1578.7 997.5L1578.9 996.5L1579.1 995.4L1579.4 994.3L1579.6 993.1L1579.8 991.9L1580.0 990.6L1580.2 989.3L1580.5 988.0L1580.7 986.6L1580.9 985.2L1581.2 983.7L1581.4 982.3L1581.7 980.7L1581.9 979.2L1582.1 977.6L1582.4 976.0L1582.6 974.4L1582.8 972.8L1583.1 971.2L1583.3 969.5L1583.5 967.8L1583.8 966.1L1584.0 964.5L1584.2 962.8L1584.4 961.1L1584.7 959.4L1584.9 957.7L1585.1 955.9L1585.3 954.3L1585.5 952.6L1585.7 950.9L1585.9 949.2L1586.1 947.5L1586.3 945.9L1586.5 944.3L1586.7 942.7L1586.8 941.1L1587.0 939.5L1587.1 938.1L1587.3 936.6L1587.4 935.1L1587.6 933.7L1587.7 932.2L1587.8 930.7L1588.0 929.3L1588.1 927.8L1588.2 926.3L1588.3 924.8L1588.4 923.3L1588.5 921.8L1588.6 920.4L1588.8 918.9L1588.9 917.4L1589.0 915.9L1589.0 914.3L1589.1 912.8L1589.2 911.3L1589.3 909.8L1589.4 908.3L1589.5 906.8L1589.6 905.3L1589.7 903.8L1589.8 902.2L1589.8 900.7L1589.9 899.2L1590.0 897.7L1590.1 896.2L1590.2 894.6L1590.2 893.1L1590.3 891.6L1590.4 890.1L1590.5 888.6L1590.6 887.0L1590.6 885.5L1590.7 884.0L1590.8 882.5L1590.9 881.0L1591.0 879.5L1591.1 877.9L1591.1 876.4L1591.2 874.9L1591.3 873.4L1591.4 871.9L1591.5 870.4L1591.6 868.9L1591.7 867.4L1591.8 865.9L1591.9 864.4L1592.0 862.9L1592.0 861.4L1592.1 859.9L1592.2 858.5L1592.3 857.0L1592.4 855.5L1592.5 854.0L1592.6 852.5L1592.6 851.0L1592.7 849.6L1592.8 848.1L1592.9 846.6L1593.0 845.1L1593.1 843.6L1593.2 842.1L1593.2 840.7L1593.3 839.2L1593.4 837.7L1593.5 836.2L1593.6 834.7L1593.7 833.2L1593.7 831.7L1593.8 830.2L1593.9 828.7L1594.0 827.2L1594.1 825.8L1594.2 824.2L1594.3 822.7L1594.3 821.2L1594.4 819.7L1594.5 818.2L1594.6 816.7L1594.7 815.2L1594.8 813.7L1594.9 812.1L1595.0 810.6L1595.0 809.1L1595.1 807.5L1595.2 806.0L1595.3 804.4L1595.4 802.9L1595.5 801.3L1595.6 799.9L1595.7 798.4L1595.8 796.9L1595.8 795.5L1595.9 794.0L1596.0 792.5L1596.1 791.0L1596.2 789.5L1596.3 788.0L1596.4 786.5L1596.5 785.0L1596.6 783.4L1596.7 781.9L1596.7 780.4L1596.8 778.9L1596.9 777.3L1597.0 775.8L1597.1 774.2L1597.2 772.7L1597.3 771.1L1597.4 769.6L1597.5 768.0L1597.6 766.5L1597.7 764.9L1597.8 763.4L1597.8 761.8L1597.9 760.3L1598.0 758.7L1598.1 757.2L1598.2 755.6L1598.3 754.1L1598.4 752.6L1598.5 751.0L1598.6 749.5L1598.7 748.0L1598.8 746.4L1598.9 744.9L1599.0 743.4L1599.1 741.9L1599.2 740.4L1599.3 738.9L1599.4 737.4L1599.5 735.9L1599.5 734.4L1599.6 732.9L1599.7 731.4L1599.8 730.0L1599.9 728.5L1600.0 727.1L1600.1 725.6L1600.2 724.2L1600.3 722.8L1600.4 721.4L1600.5 720.0L1600.6 718.4L1600.7 716.8L1600.8 715.2L1600.9 713.6L1601.1 712.0L1601.2 710.4L1601.3 708.8L1601.4 707.2L1601.5 705.6L1601.6 704.0L1601.8 702.4L1601.9 700.8L1602.0 699.3L1602.1 697.7L1602.2 696.2L1602.3 694.6L1602.5 693.1L1602.6 691.5L1602.7 690.0L1602.8 688.5L1602.9 687.0L1603.1 685.5L1603.2 684.0L1603.3 682.5L1603.4 681.0L1603.5 679.5L1603.6 678.0L1603.7 676.6L1603.9 675.1L1604.0 673.7L1604.1 672.3L1604.2 670.9L1604.3 669.5L1604.4 668.1L1604.5 666.7L1604.6 665.3L1604.7 664.0L1604.8 662.6L1604.9 661.3L1605.0 660.0L1605.1 658.3L1605.2 656.6L1605.3 654.9L1605.4 653.3L1605.5 651.6L1605.6 649.9L1605.6 648.3L1605.7 646.6L1605.8 645.0L1605.8 643.4L1605.9 641.8L1606.0 640.2L1606.0 638.7L1606.1 637.2L1606.2 635.7L1606.3 634.3L1606.4 632.8L1606.5 631.5L1606.7 630.1L1606.8 628.8L1607.0 627.5L1607.2 626.3L1607.4 625.1L1607.6 624.0L1608.0 622.3L1608.4 620.7L1608.9 619.2L1609.4 617.8L1609.9 616.5L1610.5 615.2L1611.1 613.9L1611.7 612.6L1612.3 611.3L1613.1 609.9L1613.9 608.6L1614.9 607.3L1615.8 606.0L1616.7 604.7L1617.6 603.3L1618.5 601.7L1619.2 599.8L1619.5 598.7L1619.8 597.5L1620.1 596.2L1620.3 594.7L1620.6 593.2L1620.8 591.6L1620.9 589.9L1621.1 588.2L1621.3 586.4L1621.4 584.6L1621.5 582.7L1621.6 580.8L1621.7 578.9L1621.8 577.0L1621.9 575.2L1622.0 573.3L1622.1 571.5L1622.2 569.7L1622.3 568.0L1622.5 566.4L1622.6 564.8L1622.7 563.4L1622.8 562.0L1623.0 560.7L1623.2 559.6L1623.4 558.6L1623.6 557.7L1623.8 557.0L1624.9 554.8L1626.0 554.0L1626.7 554.7L1627.3 556.4L1627.8 558.6L1628.4 561.0L1628.6 562.1L1628.9 563.2L1629.1 564.5L1629.4 565.9L1629.6 567.3L1629.9 568.9L1630.1 570.4L1630.4 572.1L1630.6 573.7L1630.8 575.4L1631.1 577.1L1631.3 578.9L1631.5 580.6L1631.8 582.4L1632.0 584.1L1632.3 585.8L1632.5 587.4L1632.8 589.0L1633.0 590.6L1633.3 592.2L1633.5 593.7L1633.8 595.2L1634.0 596.7L1634.3 598.2L1634.5 599.8L1634.8 601.3L1635.1 602.8L1635.3 604.3L1635.6 605.8L1635.8 607.3L1636.1 608.8L1636.4 610.3L1636.6 611.9L1636.9 613.4L1637.1 615.0L1637.4 616.6L1637.6 618.2L1637.8 619.6L1638.0 621.1L1638.2 622.5L1638.4 624.0L1638.6 625.5L1638.8 626.9L1639.0 628.4L1639.2 629.9L1639.4 631.5L1639.6 633.0L1639.8 634.5L1640.0 636.0L1640.2 637.5L1640.4 639.1L1640.6 640.6L1640.8 642.1L1641.0 643.7L1641.2 645.2L1641.4 646.7L1641.6 648.3L1641.8 649.8L1642.0 651.3L1642.2 652.8L1642.4 654.3L1642.6 655.9L1642.8 657.4L1643.0 659.0L1643.1 660.6L1643.3 662.2L1643.5 663.8L1643.7 665.5L1643.9 667.1L1644.0 668.7L1644.2 670.3L1644.4 671.9L1644.6 673.5L1644.8 675.0L1645.0 676.6L1645.2 678.1L1645.4 679.5L1645.6 680.9L1645.8 682.3L1646.0 683.7L1646.3 685.0L1646.5 686.2L1646.8 687.4L1647.2 689.3L1647.7 691.0L1648.1 692.7L1648.5 694.3L1649.0 695.8L1649.5 697.3L1650.1 698.7L1650.7 700.0L1651.4 701.2L1652.4 702.5L1653.6 703.6L1654.8 704.7L1656.1 705.7L1657.3 706.8L1658.3 708.1L1659.0 709.3L1659.6 710.6L1660.2 712.0L1660.7 713.5L1661.2 715.0L1661.7 716.6L1662.1 718.3L1662.6 720.0L1663.0 721.9L1663.3 723.1L1663.5 724.3L1663.8 725.6L1664.0 726.9L1664.2 728.3L1664.4 729.7L1664.7 731.1L1664.9 732.5L1665.1 734.0L1665.3 735.6L1665.4 737.1L1665.6 738.7L1665.8 740.2L1666.0 741.8L1666.2 743.5L1666.3 745.1L1666.5 746.7L1666.7 748.3L1666.9 750.0L1667.1 751.6L1667.2 753.3L1667.4 754.9L1667.6 756.5L1667.8 757.9L1667.9 759.4L1668.1 760.9L1668.2 762.4L1668.4 763.9L1668.6 765.4L1668.7 766.9L1668.9 768.5L1669.0 770.0L1669.2 771.6L1669.3 773.1L1669.5 774.7L1669.6 776.3L1669.8 777.9L1669.9 779.5L1670.1 781.0L1670.2 782.6L1670.4 784.2L1670.5 785.8L1670.7 787.4L1670.8 788.9L1671.0 790.5L1671.1 792.1L1671.3 793.6L1671.4 795.1L1671.6 796.7L1671.7 798.2L1671.9 799.7L1672.0 801.1L1672.2 802.6L1672.4 804.2L1672.6 805.9L1672.8 807.6L1672.9 809.3L1673.1 811.0L1673.3 812.7L1673.5 814.4L1673.7 816.1L1673.9 817.8L1674.1 819.5L1674.3 821.1L1674.4 822.8L1674.6 824.4L1674.8 826.0L1675.0 827.6L1675.2 829.1L1675.4 830.6L1675.6 832.0L1675.8 833.4L1676.0 834.7L1676.2 836.0L1676.4 837.2L1676.6 838.3L1676.8 839.4L1677.2 841.5L1677.6 843.6L1678.0 845.6L1678.4 847.2L1678.8 848.3L1679.3 848.7L1679.8 848.4L1680.3 847.6L1680.8 846.4L1681.4 844.8L1682.0 843.0L1682.6 841.0L1683.1 839.0L1683.7 837.1L1684.0 836.0L1684.3 834.8L1684.7 833.6L1685.0 832.3L1685.3 830.9L1685.6 829.6L1685.9 828.2L1686.3 826.7L1686.6 825.2L1686.9 823.7L1687.2 822.1L1687.5 820.6L1687.8 819.0L1688.1 817.4L1688.4 815.7L1688.7 814.1L1689.0 812.4L1689.3 810.8L1689.6 809.1L1689.8 807.5L1690.1 805.9L1690.4 804.2L1690.6 802.6L1690.8 801.2L1691.0 799.7L1691.2 798.3L1691.4 796.8L1691.6 795.3L1691.8 793.8L1692.0 792.3L1692.1 790.8L1692.3 789.3L1692.5 787.8L1692.6 786.2L1692.8 784.7L1693.0 783.1L1693.1 781.6L1693.3 780.0L1693.4 778.4L1693.6 776.9L1693.7 775.3L1693.8 773.7L1694.0 772.1L1694.1 770.6L1694.2 769.0L1694.4 767.4L1694.5 765.8L1694.6 764.3L1694.7 762.7L1694.8 761.1L1695.0 759.6L1695.1 758.0L1695.2 756.5L1695.3 755.0L1695.4 753.4L1695.5 751.9L1695.6 750.3L1695.7 748.8L1695.8 747.2L1695.8 745.7L1695.9 744.1L1696.0 742.6L1696.0 741.0L1696.1 739.5L1696.2 737.9L1696.2 736.4L1696.3 734.8L1696.3 733.3L1696.4 731.8L1696.4 730.2L1696.5 728.7L1696.6 727.1L1696.6 725.6L1696.7 724.0L1696.8 722.5L1696.8 721.0L1696.9 719.5L1697.0 717.9L1697.1 716.4L1697.2 714.9L1697.3 713.4L1697.4 711.9L1697.5 710.4L1697.6 708.8L1697.8 707.2L1697.9 705.6L1698.0 704.0L1698.1 702.4L1698.3 700.8L1698.4 699.2L1698.5 697.5L1698.7 695.9L1698.8 694.3L1699.0 692.7L1699.1 691.1L1699.3 689.5L1699.4 687.9L1699.6 686.3L1699.7 684.8L1699.9 683.2L1700.1 681.7L1700.3 680.2L1700.5 678.7L1700.7 677.2L1700.9 675.8L1701.1 674.3L1701.4 672.9L1701.6 671.6L1701.8 670.2L1702.1 668.9L1702.4 667.3L1702.8 665.7L1703.2 664.2L1703.6 662.8L1704.0 661.4L1704.5 660.0L1704.9 658.7L1705.4 657.3L1705.8 656.0L1706.3 654.7L1706.7 653.3L1707.2 651.9L1707.6 650.5L1708.1 649.0L1708.6 647.5L1709.0 645.9L1709.4 644.6L1709.7 643.2L1710.1 641.9L1710.4 640.5L1710.8 639.1L1711.2 637.6L1711.6 636.2L1711.9 634.7L1712.3 633.2L1712.7 631.7L1713.1 630.1L1713.5 628.6L1713.8 627.1L1714.2 625.5L1714.6 623.9L1715.0 622.4L1715.3 620.8L1715.7 619.2L1716.0 617.6L1716.4 616.1L1716.7 614.5L1717.1 612.9L1717.4 611.4L1717.7 609.8L1718.0 608.2L1718.3 606.7L1718.6 605.2L1718.8 603.8L1719.1 602.3L1719.3 600.8L1719.6 599.3L1719.8 597.8L1720.1 596.3L1720.3 594.7L1720.5 593.2L1720.7 591.7L1720.9 590.2L1721.1 588.7L1721.3 587.1L1721.5 585.6L1721.7 584.1L1721.9 582.6L1722.1 581.1L1722.3 579.5L1722.5 578.0L1722.7 576.6L1722.9 575.1L1723.1 573.6L1723.3 572.1L1723.5 570.7L1723.7 569.2L1723.9 567.8L1724.1 566.4L1724.3 565.0L1724.5 563.4L1724.8 561.8L1725.0 560.2L1725.3 558.6L1725.5 557.1L1725.7 555.6L1726.0 554.0L1726.2 552.5L1726.4 551.0L1726.7 549.5L1726.9 548.0L1727.1 546.5L1727.4 545.0L1727.6 543.5L1727.9 542.0L1728.1 540.5L1728.4 539.1L1728.7 537.6L1728.9 536.0L1729.2 534.5L1729.5 533.0L1729.8 531.5L1730.1 530.0L1730.4 528.5L1730.7 526.9L1731.0 525.4L1731.3 523.9L1731.7 522.3L1732.0 520.8L1732.3 519.3L1732.7 517.7L1733.0 516.2L1733.3 514.7L1733.7 513.1L1734.0 511.6L1734.4 510.1L1734.7 508.6L1735.1 507.1L1735.5 505.7L1735.8 504.2L1736.2 502.8L1736.5 501.4L1736.9 500.0L1737.3 498.3L1737.7 496.7L1738.1 495.0L1738.4 493.3L1738.8 491.6L1739.2 489.9L1739.5 488.2L1739.9 486.6L1740.3 485.0L1740.7 483.4L1741.2 482.0L1741.7 480.5L1742.2 479.2L1742.8 477.9L1743.5 476.8L1744.2 475.7L1745.4 474.4L1746.7 473.4L1748.2 472.5L1749.7 471.8L1751.2 471.1L1752.7 470.3L1754.1 469.4L1755.3 468.3L1756.2 467.2L1757.0 466.1L1757.7 464.8L1758.4 463.5L1759.1 462.1L1759.7 460.7L1760.3 459.3L1760.9 457.9L1761.5 456.4L1762.1 454.9L1762.7 453.5L1763.3 452.2L1763.9 450.8L1764.5 449.4L1765.1 448.0L1765.6 446.6L1766.2 445.2L1766.8 443.7L1767.3 442.3L1767.9 440.9L1768.4 439.4L1769.0 438.0L1769.5 436.5L1770.0 435.1L1770.5 433.6L1771.1 432.1L1771.6 430.6L1772.1 429.1L1772.6 427.7L1773.0 426.2L1773.5 424.7L1774.0 423.2L1774.4 421.6L1774.8 420.0L1775.2 418.4L1775.6 416.7L1775.9 415.3L1776.1 413.8L1776.4 412.3L1776.5 410.7L1776.7 409.1L1776.9 407.5L1777.0 405.8L1777.2 404.1L1777.3 402.5L1777.5 400.8L1777.6 399.2L1777.8 397.6L1778.0 396.0L1778.2 394.5L1778.4 393.0L1778.7 391.6L1779.0 390.2L1779.3 389.0L1779.9 387.2L1780.5 385.5L1781.2 383.9L1781.9 382.4L1782.6 380.9L1783.3 379.5L1784.1 378.2L1784.8 377.0L1785.7 375.7L1786.7 374.5L1787.7 373.4L1788.7 372.3L1789.5 371.0L1790.2 369.7L1790.7 368.2L1791.2 366.7L1791.7 365.2L1792.1 363.6L1792.5 362.0L1792.8 360.6L1793.1 359.2L1793.4 357.7L1793.6 356.2L1793.9 354.7L1794.1 353.2L1794.3 351.6L1794.5 350.0L1794.7 348.5L1794.9 347.0L1795.0 345.4L1795.2 343.8L1795.3 342.1L1795.4 340.5L1795.6 338.9L1795.7 337.2L1795.8 335.6L1796.0 334.0L1796.2 332.4L1796.3 330.7L1796.4 329.1L1796.6 327.4L1796.7 325.7L1796.9 324.1L1797.0 322.5L1797.2 320.9L1797.4 319.4L1797.6 318.0L1797.8 316.3L1798.1 314.6L1798.3 313.0L1798.6 311.5L1799.0 310.2L1799.5 309.0L1800.9 307.0L1802.5 306.0L1804.1 306.9L1805.5 309.0L1806.0 310.1L1806.3 311.5L1806.6 313.0L1806.8 314.7L1807.0 316.4L1807.1 318.2L1807.3 320.0L1807.4 321.3L1807.5 322.7L1807.6 324.1L1807.7 325.6L1807.8 327.1L1807.8 328.6L1807.9 330.2L1807.9 331.7L1808.0 333.4L1808.0 335.0L1808.1 336.6L1808.1 338.3L1808.2 340.0L1808.2 341.4L1808.3 342.8L1808.3 344.2L1808.4 345.6L1808.4 347.1L1808.5 348.6L1808.5 350.1L1808.5 351.6L1808.6 353.1L1808.6 354.7L1808.6 356.2L1808.7 357.8L1808.7 359.3L1808.8 360.9L1808.8 362.4L1808.8 364.0L1808.9 365.5L1808.9 367.0L1809.0 368.5L1809.0 370.0L1809.0 371.6L1809.1 373.2L1809.1 374.7L1809.2 376.3L1809.2 377.8L1809.3 379.4L1809.3 381.0L1809.4 382.5L1809.5 384.1L1809.5 385.6L1809.6 387.2L1809.6 388.7L1809.7 390.3L1809.7 391.8L1809.8 393.3L1809.9 394.9L1809.9 396.4L1810.0 398.0L1810.1 399.5L1810.1 401.1L1810.2 402.5L1810.3 404.0L1810.4 405.5L1810.5 407.0L1810.6 408.4L1810.6 409.9L1810.7 411.4L1810.8 412.9L1810.9 414.4L1811.0 415.9L1811.1 417.5L1811.2 419.1L1811.3 420.7L1811.3 422.4L1811.4 424.1L1811.5 425.9L1811.6 427.2L1811.6 428.5L1811.7 429.9L1811.7 431.2L1811.8 432.6L1811.8 434.0L1811.9 435.5L1812.0 436.9L1812.0 438.4L1812.1 439.9L1812.1 441.4L1812.2 442.9L1812.2 444.5L1812.3 446.0L1812.4 447.6L1812.4 449.2L1812.5 450.8L1812.5 452.4L1812.6 454.0L1812.6 455.6L1812.7 457.2L1812.7 458.8L1812.8 460.4L1812.8 462.1L1812.9 463.7L1813.0 465.3L1813.0 466.9L1813.0 468.6L1813.1 470.2L1813.1 471.8L1813.2 473.4L1813.2 475.0L1813.3 476.5L1813.3 478.1L1813.4 479.7L1813.4 481.2L1813.4 482.7L1813.5 484.3L1813.5 485.8L1813.5 487.3L1813.6 488.8L1813.6 490.4L1813.6 491.9L1813.7 493.4L1813.7 494.9L1813.7 496.5L1813.8 498.0L1813.8 499.5L1813.8 501.0L1813.8 502.5L1813.9 504.0L1813.9 505.6L1813.9 507.1L1813.9 508.6L1813.9 510.1L1814.0 511.7L1814.0 513.2L1814.0 514.7L1814.0 516.2L1814.1 517.8L1814.1 519.3L1814.1 520.9L1814.1 522.4L1814.1 524.0L1814.2 525.5L1814.2 527.1L1814.2 528.6L1814.2 530.2L1814.2 531.8L1814.3 533.3L1814.3 534.9L1814.3 536.5L1814.3 538.0L1814.3 539.4L1814.4 540.9L1814.4 542.4L1814.4 543.8L1814.4 545.3L1814.4 546.8L1814.4 548.3L1814.5 549.8L1814.5 551.3L1814.5 552.8L1814.5 554.2L1814.5 555.7L1814.6 557.2L1814.6 558.7L1814.6 560.3L1814.6 561.8L1814.6 563.3L1814.6 564.8L1814.6 566.3L1814.7 567.8L1814.7 569.3L1814.7 570.8L1814.7 572.4L1814.7 573.9L1814.7 575.4L1814.8 576.9L1814.8 578.5L1814.8 580.0L1814.8 581.5L1814.8 583.1L1814.8 584.6L1814.9 586.1L1814.9 587.7L1814.9 589.2L1814.9 590.8L1814.9 592.3L1814.9 593.8L1814.9 595.4L1815.0 596.9L1815.0 598.5L1815.0 600.0L1815.0 601.5L1815.0 603.0L1815.0 604.4L1815.1 605.9L1815.1 607.4L1815.1 608.9L1815.1 610.4L1815.1 612.0L1815.1 613.5L1815.2 615.0L1815.2 616.5L1815.2 618.0L1815.2 619.6L1815.2 621.1L1815.2 622.6L1815.2 624.2L1815.2 625.7L1815.3 627.2L1815.3 628.8L1815.3 630.3L1815.3 631.9L1815.3 633.4L1815.3 634.9L1815.3 636.5L1815.4 638.0L1815.4 639.5L1815.4 641.1L1815.4 642.6L1815.4 644.1L1815.4 645.6L1815.5 647.1L1815.5 648.6L1815.5 650.1L1815.5 651.6L1815.5 653.1L1815.6 654.6L1815.6 656.1L1815.6 657.5L1815.6 659.0L1815.6 660.5L1815.7 661.9L1815.7 663.3L1815.7 664.8L1815.7 666.2L1815.8 667.6L1815.8 669.0L1815.8 670.6L1815.9 672.3L1815.9 673.9L1815.9 675.6L1816.0 677.3L1816.0 679.0L1816.0 680.6L1816.1 682.3L1816.1 684.0L1816.1 685.7L1816.2 687.3L1816.2 689.0L1816.2 690.6L1816.3 692.3L1816.3 693.9L1816.3 695.5L1816.4 697.2L1816.4 698.7L1816.5 700.3L1816.5 701.9L1816.6 703.4L1816.6 704.9L1816.7 706.4L1816.7 707.9L1816.8 709.3L1816.8 710.8L1816.9 712.1L1816.9 713.5L1817.0 714.8L1817.0 716.1L1817.1 717.4L1817.2 718.6L1817.2 719.8L1817.3 720.9L1817.4 722.8L1817.6 724.5L1817.7 726.1L1817.9 727.5L1818.0 728.9L1818.2 730.3L1818.4 731.7L1818.5 733.1L1818.7 734.7L1818.8 736.3L1819.0 738.2L1819.1 739.4L1819.2 740.8L1819.3 742.3L1819.4 743.9L1819.5 745.6L1819.5 747.4L1819.6 749.3L1819.7 751.2L1819.8 753.2L1819.9 755.2L1820.0 757.3L1820.1 759.4L1820.2 761.4L1820.3 763.5L1820.4 765.6L1820.4 767.6L1820.5 769.6L1820.6 771.5L1820.7 773.3L1820.8 775.1L1820.9 776.8L1821.0 778.4L1821.1 779.9L1821.2 781.2L1821.3 782.4L1821.4 783.4L1821.5 784.3L1821.7 785.0L1821.8 785.6L1821.9 785.9L1822.0 786.0L1822.1 785.8L1822.3 785.4L1822.4 784.6L1822.5 783.6L1822.6 782.3L1822.8 780.8L1822.9 779.2L1823.1 777.3L1823.2 775.4L1823.3 773.3L1823.5 771.1L1823.6 768.9L1823.8 766.7L1823.9 764.4L1824.1 762.1L1824.2 759.9L1824.4 757.7L1824.5 755.6L1824.7 753.7L1824.8 751.9L1825.0 750.2L1825.2 748.7L1825.3 747.4L1825.5 746.4L1825.7 745.6L1825.8 745.2L1826.0 745.0L1826.2 745.1L1826.4 745.5L1826.6 746.1L1826.8 746.9L1827.0 747.9L1827.2 749.1L1827.4 750.4L1827.6 751.9L1827.9 753.5L1828.1 755.3L1828.3 757.1L1828.5 759.0L1828.8 760.9L1829.0 762.9L1829.2 764.9L1829.4 767.0L1829.7 769.0L1829.9 770.9L1830.1 772.9L1830.3 774.8L1830.5 776.6L1830.7 778.3L1830.9 779.8L1831.1 781.3L1831.3 782.9L1831.5 784.5L1831.7 786.0L1832.0 787.5L1832.2 789.0L1832.4 790.4L1832.5 791.9L1832.7 793.3L1832.9 794.7L1833.1 796.2L1833.3 797.6L1833.5 799.1L1833.7 800.7L1833.9 802.2L1834.1 803.9L1834.3 805.5L1834.5 807.3L1834.6 808.6L1834.8 809.9L1834.9 811.2L1835.1 812.6L1835.3 813.9L1835.4 815.3L1835.6 816.8L1835.7 818.2L1835.9 819.7L1836.0 821.1L1836.2 822.6L1836.4 824.1L1836.5 825.7L1836.7 827.2L1836.8 828.8L1837.0 830.3L1837.2 831.9L1837.3 833.5L1837.5 835.1L1837.6 836.7L1837.8 838.3L1838.0 839.9L1838.1 841.5L1838.3 843.1L1838.4 844.7L1838.6 846.3L1838.7 847.9L1838.9 849.5L1839.0 851.2L1839.2 852.8L1839.3 854.4L1839.4 855.9L1839.6 857.5L1839.7 859.1L1839.8 860.6L1839.9 862.1L1840.1 863.7L1840.2 865.2L1840.3 866.8L1840.4 868.4L1840.5 870.0L1840.6 871.7L1840.7 873.3L1840.8 875.0L1840.9 876.6L1840.9 878.3L1841.0 879.9L1841.1 881.6L1841.2 883.3L1841.3 884.9L1841.4 886.6L1841.5 888.2L1841.5 889.9L1841.6 891.5L1841.7 893.2L1841.8 894.8L1841.9 896.4L1842.0 898.0L1842.1 899.5L1842.2 901.1L1842.3 902.6L1842.4 904.1L1842.5 905.6L1842.6 907.0L1842.7 908.4L1842.8 909.8L1842.9 911.2L1843.0 912.5L1843.1 913.8L1843.2 915.0L1843.4 916.2L1843.5 917.4L1843.7 919.4L1844.0 921.6L1844.2 923.7L1844.5 925.9L1844.7 928.0L1845.0 930.0L1845.2 931.8L1845.5 933.6L1845.8 935.0L1846.1 936.3L1846.4 937.2L1846.7 937.8L1847.0 938.0L1847.3 937.8L1847.6 937.1L1847.9 936.1L1848.2 934.8L1848.5 933.2L1848.8 931.4L1849.2 929.4L1849.5 927.3L1849.9 925.1L1850.2 922.9L1850.5 920.7L1850.9 918.6L1851.2 916.6L1851.5 914.8L1851.9 913.2L1852.2 911.8L1852.5 910.8L1852.7 910.2L1853.0 910.0L1853.2 910.1L1853.4 910.4L1853.6 910.9L1853.8 911.5L1854.0 912.3L1854.1 913.3L1854.3 914.4L1854.5 915.6L1854.6 917.0L1854.8 918.4L1854.9 920.0L1855.0 921.7L1855.2 923.4L1855.3 925.2L1855.4 927.1L1855.6 929.0L1855.7 930.9L1855.8 932.9L1856.0 934.9L1856.1 937.0L1856.2 939.0L1856.3 941.0L1856.5 943.0L1856.6 945.0L1856.7 946.9L1856.9 948.8L1857.0 950.6L1857.1 951.8L1857.2 953.2L1857.3 954.5L1857.4 956.0L1857.5 957.5L1857.5 959.0L1857.6 960.6L1857.7 962.3L1857.8 964.0L1857.9 965.7L1858.0 967.5L1858.1 969.3L1858.2 971.1L1858.3 973.0L1858.3 974.9L1858.4 976.9L1858.5 978.8L1858.6 980.8L1858.7 982.8L1858.8 984.8L1858.8 986.8L1858.9 988.8L1859.0 990.8L1859.1 992.8L1859.2 994.8L1859.3 996.8L1859.3 998.8L1859.4 1000.8L1859.5 1002.7L1859.6 1004.7L1859.7 1006.6L1859.7 1008.5L1859.8 1010.4L1859.9 1012.2L1860.0 1014.0L1860.1 1015.8L1860.1 1017.5L1860.2 1019.2L1860.3 1020.8L1860.4 1022.4L1860.5 1023.9L1860.5 1025.4L1860.6 1026.8L1860.7 1028.2L1860.8 1029.5L1860.9 1030.7L1860.9 1031.9L1861.0 1032.9L1861.1 1033.9L1861.2 1034.9L1861.3 1035.7L1861.3 1036.4L1861.4 1037.1L1861.5 1037.7L1861.6 1038.1L1861.7 1038.5L1861.7 1038.8L1861.8 1038.9L1861.9 1039.0L1862.0 1038.9L1862.1 1038.6L1862.3 1038.0L1862.4 1037.3L1862.5 1036.4L1862.6 1035.3L1862.7 1034.1L1862.8 1032.8L1862.9 1031.3L1863.1 1029.7L1863.2 1028.0L1863.3 1026.3L1863.4 1024.4L1863.5 1022.5L1863.6 1020.6L1863.7 1018.6L1863.8 1016.6L1864.0 1014.6L1864.1 1012.6L1864.2 1010.6L1864.3 1008.7L1864.5 1006.8L1864.6 1005.0L1864.7 1003.2L1864.9 1001.6L1865.0 1000.0L1865.1 998.4L1865.3 996.7L1865.4 994.9L1865.6 993.0L1865.7 991.1L1865.9 989.1L1866.1 987.1L1866.2 985.0L1866.4 983.0L1866.6 980.9L1866.7 978.9L1866.9 976.9L1867.1 974.9L1867.2 973.0L1867.4 971.2L1867.6 969.4L1867.7 967.8L1867.9 966.3L1868.1 964.9L1868.3 963.6L1868.4 962.5L1868.6 961.6L1868.8 960.8L1869.0 960.3L1869.1 959.9L1869.3 959.8L1869.5 960.0L1869.8 960.5L1870.0 961.3L1870.2 962.4L1870.5 963.8L1870.7 965.3L1870.9 967.0L1871.2 968.9L1871.4 970.9L1871.7 972.9L1871.9 975.0L1872.1 977.1L1872.3 979.2L1872.6 981.2L1872.8 983.2L1873.0 985.0L1873.2 986.3L1873.3 987.7L1873.5 989.1L1873.6 990.5L1873.8 991.9L1873.9 993.3L1874.1 994.7L1874.2 996.1L1874.4 997.6L1874.5 999.0L1874.6 1000.5L1874.8 1002.0L1874.9 1003.5L1875.0 1005.0L1875.2 1006.5L1875.3 1008.1L1875.4 1009.6L1875.6 1011.2L1875.7 1012.8L1875.8 1014.4L1876.0 1016.0L1876.1 1017.6L1876.2 1019.3L1876.3 1020.9L1876.5 1022.6L1876.6 1024.3L1876.7 1025.6L1876.8 1027.0L1876.8 1028.5L1876.9 1030.0L1877.0 1031.6L1877.0 1033.2L1877.1 1034.8L1877.1 1036.5L1877.1 1038.2L1877.1 1039.9L1877.2 1041.7L1877.2 1043.5L1877.2 1045.3L1877.2 1047.1L1877.2 1048.9L1877.2 1050.7L1877.3 1052.6L1877.3 1054.4L1877.3 1056.2L1877.3 1058.0L1877.3 1059.8L1877.4 1061.6L1877.4 1063.4L1877.4 1065.1L1877.5 1066.8L1877.5 1068.5L1877.6 1070.2L1877.7 1071.8L1877.7 1073.4L1877.8 1074.9L1877.9 1076.4L1878.1 1077.8L1878.2 1079.1L1878.3 1080.4L1878.5 1081.7L1878.6 1082.8L1878.8 1083.9L1879.0 1085.0L1879.2 1085.9L1879.5 1086.8L1879.7 1087.5L1880.0 1088.2L1880.3 1088.8L1881.8 1090.7L1883.5 1091.9L1885.0 1092.0L1885.7 1091.5L1886.4 1090.6L1887.0 1089.4L1887.5 1087.8L1888.0 1086.0L1888.5 1084.0L1889.0 1081.8L1889.5 1079.6L1889.7 1078.7L1889.9 1077.8L1890.0 1076.8L1890.2 1075.8L1890.4 1074.7L1890.5 1073.6L1890.7 1072.4L1890.8 1071.2L1891.0 1070.0L1891.1 1068.8L1891.3 1067.5L1891.4 1066.1L1891.5 1064.8L1891.6 1063.4L1891.8 1062.0L1891.9 1060.5L1892.0 1059.0L1892.1 1057.5L1892.2 1056.0L1892.3 1054.5L1892.4 1052.9L1892.5 1051.3L1892.6 1049.7L1892.7 1048.1L1892.8 1046.4L1892.9 1044.8L1893.0 1043.1L1893.1 1041.4L1893.2 1039.8L1893.3 1038.1L1893.4 1036.4L1893.5 1034.6L1893.6 1032.9L1893.7 1031.2L1893.8 1029.5L1893.8 1027.8L1893.9 1026.0L1894.0 1024.3L1894.1 1022.6L1894.2 1020.9L1894.3 1019.2L1894.4 1017.5L1894.5 1015.8L1894.6 1014.1L1894.7 1012.4L1894.8 1010.8L1894.9 1009.1L1895.0 1007.5L1895.1 1005.9L1895.2 1004.5L1895.3 1003.0L1895.4 1001.5L1895.5 999.9L1895.6 998.3L1895.6 996.6L1895.7 994.9L1895.8 993.2L1895.9 991.4L1896.0 989.7L1896.1 987.8L1896.1 986.0L1896.2 984.1L1896.3 982.2L1896.4 980.3L1896.5 978.3L1896.6 976.4L1896.6 974.4L1896.7 972.4L1896.8 970.5L1896.9 968.5L1896.9 966.5L1897.0 964.5L1897.1 962.5L1897.2 960.5L1897.3 958.5L1897.3 956.5L1897.4 954.5L1897.5 952.6L1897.6 950.6L1897.6 948.7L1897.7 946.8L1897.8 944.9L1897.9 943.1L1898.0 941.2L1898.0 939.4L1898.1 937.6L1898.2 935.9L1898.3 934.2L1898.4 932.5L1898.4 930.9L1898.5 929.3L1898.6 927.8L1898.7 926.3L1898.8 924.8L1898.9 923.5L1899.0 922.1L1899.0 920.8L1899.1 919.6L1899.2 918.5L1899.3 917.4L1899.4 916.3L1899.5 915.4L1899.6 914.5L1899.7 913.7L1899.8 912.9L1899.9 912.3L1900.0 911.7L1900.1 911.2L1900.2 910.8L1900.3 910.4L1900.4 910.2L1900.5 910.1L1900.6 910.0L1900.8 910.1L1901.1 910.6L1901.3 911.3L1901.6 912.3L1901.8 913.5L1902.1 914.9L1902.4 916.5L1902.6 918.2L1902.9 920.1L1903.1 922.0L1903.4 924.0L1903.6 926.1L1903.9 928.1L1904.1 930.2L1904.3 932.2L1904.4 933.2L1904.5 934.3L1904.6 935.3L1904.7 936.4L1904.8 937.6L1904.9 938.8L1905.0 940.0L1905.0 941.2L1905.1 942.5L1905.2 943.8L1905.3 945.1L1905.3 946.4L1905.4 947.8L1905.5 949.2L1905.6 950.6L1905.6 952.1L1905.7 953.5L1905.8 955.0L1905.8 956.5L1905.9 958.0L1905.9 959.5L1906.0 961.1L1906.1 962.7L1906.1 964.2L1906.2 965.8L1906.2 967.4L1906.3 969.1L1906.3 970.7L1906.4 972.3L1906.4 974.0L1906.5 975.6L1906.5 977.3L1906.6 979.0L1906.6 980.6L1906.7 982.3L1906.7 984.0L1906.8 985.7L1906.8 987.4L1906.9 989.0L1906.9 990.7L1906.9 992.4L1907.0 994.1L1907.0 995.8L1907.1 997.4L1907.1 999.1L1907.2 1000.8L1907.2 1002.4L1907.3 1004.1L1907.3 1005.7L1907.4 1007.3L1907.4 1008.9L1907.5 1010.6L1907.5 1012.1L1907.6 1013.7L1907.6 1015.3L1907.7 1016.8L1907.8 1018.4L1907.8 1019.9L1907.9 1021.4L1907.9 1022.8L1908.0 1024.3L1908.1 1025.9L1908.1 1027.6L1908.2 1029.3L1908.3 1031.0L1908.3 1032.8L1908.4 1034.7L1908.5 1036.5L1908.5 1038.4L1908.6 1040.4L1908.7 1042.3L1908.7 1044.3L1908.8 1046.3L1908.8 1048.3L1908.9 1050.3L1909.0 1052.3L1909.0 1054.3L1909.1 1056.3L1909.2 1058.4L1909.2 1060.4L1909.3 1062.4L1909.3 1064.4L1909.4 1066.4L1909.5 1068.3L1909.5 1070.3L1909.6 1072.2L1909.7 1074.1L1909.7 1075.9L1909.8 1077.7L1909.9 1079.5L1909.9 1081.2L1910.0 1082.9L1910.1 1084.5L1910.1 1086.1L1910.2 1087.7L1910.3 1089.1L1910.4 1090.5L1910.4 1091.9L1910.5 1093.1L1910.6 1094.3L1910.7 1095.5L1910.8 1096.5L1910.8 1097.5L1910.9 1098.3L1911.0 1099.1L1911.1 1099.8L1911.2 1100.4L1911.3 1100.9L1911.4 1101.3L1911.5 1101.6L1911.6 1101.7L1911.7 1101.8L1911.9 1101.6L1912.1 1101.1L1912.4 1100.2L1912.6 1099.1L1912.9 1097.7L1913.2 1096.1L1913.4 1094.3L1913.7 1092.4L1913.9 1090.3L1914.2 1088.3L1914.4 1086.1L1914.6 1084.0L1914.8 1082.0L1915.0 1080.0L1915.1 1078.8L1915.2 1077.6L1915.3 1076.4L1915.4 1075.1L1915.4 1073.8L1915.5 1072.5L1915.6 1071.2L1915.6 1069.8L1915.7 1068.4L1915.7 1067.0L1915.8 1065.6L1915.8 1064.1L1915.9 1062.7L1915.9 1061.2L1915.9 1059.7L1916.0 1058.1L1916.0 1056.6L1916.0 1055.0L1916.0 1053.5L1916.0 1051.9L1916.1 1050.3L1916.1 1048.7L1916.1 1047.1L1916.1 1045.5L1916.1 1043.9L1916.1 1042.3L1916.1 1040.6L1916.2 1039.0L1916.2 1037.3L1916.2 1035.7L1916.2 1034.1L1916.2 1032.4L1916.2 1030.8L1916.2 1029.2L1916.3 1027.5L1916.3 1025.9L1916.3 1024.3L1916.3 1022.9L1916.3 1021.5L1916.4 1020.1L1916.4 1018.6L1916.4 1017.2L1916.4 1015.8L1916.4 1014.3L1916.4 1012.9L1916.4 1011.5L1916.4 1010.0L1916.4 1008.6L1916.4 1007.1L1916.5 1005.6L1916.5 1004.2L1916.5 1002.7L1916.5 1001.2L1916.5 999.7L1916.5 998.3L1916.5 996.8L1916.5 995.3L1916.5 993.8L1916.5 992.3L1916.5 990.8L1916.5 989.3L1916.5 987.7L1916.5 986.2L1916.5 984.7L1916.5 983.2L1916.5 981.6L1916.5 980.1L1916.5 978.6L1916.5 977.0L1916.5 975.5L1916.5 973.9L1916.5 972.3L1916.5 970.8L1916.5 969.2L1916.5 967.6L1916.5 966.1L1916.5 964.5L1916.5 962.9L1916.5 961.3L1916.5 959.7L1916.5 958.1L1916.6 956.5L1916.6 954.9L1916.6 953.2L1916.6 951.6L1916.6 950.0L1916.6 948.6L1916.6 947.2L1916.6 945.8L1916.7 944.3L1916.7 942.9L1916.7 941.5L1916.7 940.0L1916.7 938.6L1916.7 937.1L1916.7 935.7L1916.8 934.2L1916.8 932.7L1916.8 931.2L1916.8 929.8L1916.8 928.3L1916.9 926.8L1916.9 925.3L1916.9 923.8L1916.9 922.3L1916.9 920.8L1916.9 919.3L1917.0 917.8L1917.0 916.2L1917.0 914.7L1917.0 913.2L1917.1 911.7L1917.1 910.1L1917.1 908.6L1917.1 907.1L1917.1 905.5L1917.2 904.0L1917.2 902.5L1917.2 900.9L1917.2 899.4L1917.2 897.8L1917.3 896.3L1917.3 894.7L1917.3 893.2L1917.3 891.6L1917.4 890.1L1917.4 888.5L1917.4 887.0L1917.4 885.4L1917.5 883.9L1917.5 882.3L1917.5 880.8L1917.5 879.2L1917.6 877.7L1917.6 876.1L1917.6 874.6L1917.6 873.0L1917.7 871.5L1917.7 869.9L1917.7 868.4L1917.7 866.8L1917.8 865.3L1917.8 863.8L1917.8 862.2L1917.8 860.7L1917.9 859.1L1917.9 857.6L1917.9 856.1L1917.9 854.6L1918.0 853.0L1918.0 851.5L1918.0 850.0L1918.0 848.5L1918.0 847.0L1918.1 845.5L1918.1 843.9L1918.1 842.4L1918.1 840.9L1918.2 839.4L1918.2 837.9L1918.2 836.4L1918.2 834.8L1918.3 833.3L1918.3 831.8L1918.3 830.3L1918.4 828.8L1918.4 827.3L1918.4 825.8L1918.4 824.2L1918.5 822.7L1918.5 821.2L1918.5 819.7L1918.5 818.2L1918.6 816.7L1918.6 815.2L1918.6 813.6L1918.6 812.1L1918.7 810.6L1918.7 809.1L1918.7 807.6L1918.8 806.1L1918.8 804.5L1918.8 803.0L1918.8 801.5L1918.9 800.0L1918.9 798.5L1918.9 797.0L1918.9 795.5L1919.0 793.9L1919.0 792.4L1919.0 790.9L1919.1 789.4L1919.1 787.9L1919.1 786.4L1919.1 784.8L1919.2 783.3L1919.2 781.8L1919.2 780.3L1919.3 778.8L1919.3 777.3L1919.3 775.8L1919.3 774.2L1919.4 772.7L1919.4 771.2L1919.4 769.7L1919.5 768.2L1919.5 766.7L1919.5 765.2L1919.5 763.6L1919.6 762.1L1919.6 760.6L1919.6 759.1L1919.7 757.6L1919.7 756.1L1919.7 754.5L1919.7 753.0L1919.8 751.5L1919.8 750.0L1919.8 748.5L1919.9 747.0L1919.9 745.5L1919.9 743.9L1919.9 742.4L1920.0 740.9L1920.0 739.4L1920.0 737.9L1920.1 736.4L1920.1 734.8L1920.1 733.3L1920.1 731.8L1920.2 730.3L1920.2 728.8L1920.2 727.3L1920.3 725.8L1920.3 724.2L1920.3 722.7L1920.3 721.2L1920.4 719.7L1920.4 718.2L1920.4 716.7L1920.4 715.2L1920.5 713.6L1920.5 712.1L1920.5 710.6L1920.6 709.1L1920.6 707.6L1920.6 706.1L1920.6 704.5L1920.7 703.0L1920.7 701.5L1920.7 700.0L1920.8 698.5L1920.8 697.0L1920.8 695.5L1920.8 693.9L1920.9 692.4L1920.9 690.9L1920.9 689.4L1921.0 687.9L1921.0 686.4L1921.0 684.8L1921.1 683.3L1921.1 681.8L1921.1 680.3L1921.2 678.8L1921.2 677.3L1921.2 675.8L1921.2 674.2L1921.3 672.7L1921.3 671.2L1921.3 669.7L1921.4 668.2L1921.4 666.7L1921.4 665.2L1921.5 663.6L1921.5 662.1L1921.5 660.6L1921.6 659.1L1921.6 657.6L1921.7 656.1L1921.7 654.5L1921.7 653.0L1921.8 651.5L1921.8 650.0L1921.8 648.5L1921.9 647.0L1921.9 645.4L1922.0 643.9L1922.0 642.3L1922.0 640.8L1922.1 639.2L1922.1 637.7L1922.1 636.1L1922.2 634.5L1922.2 632.9L1922.3 631.4L1922.3 629.8L1922.4 628.2L1922.4 626.6L1922.4 625.0L1922.5 623.4L1922.5 621.8L1922.6 620.2L1922.6 618.6L1922.7 617.0L1922.7 615.4L1922.7 613.8L1922.8 612.2L1922.8 610.6L1922.9 609.0L1922.9 607.4L1923.0 605.8L1923.0 604.2L1923.1 602.6L1923.1 601.0L1923.1 599.4L1923.2 597.9L1923.2 596.3L1923.3 594.7L1923.3 593.1L1923.4 591.6L1923.4 590.0L1923.5 588.5L1923.5 586.9L1923.6 585.4L1923.6 583.8L1923.6 582.3L1923.7 580.8L1923.7 579.3L1923.8 577.8L1923.8 576.3L1923.9 574.8L1923.9 573.3L1924.0 571.9L1924.0 570.4L1924.1 569.0L1924.1 567.5L1924.2 566.1L1924.2 564.7L1924.2 563.3L1924.3 561.9L1924.3 560.5L1924.4 559.2L1924.4 557.8L1924.5 556.5L1924.5 555.1L1924.6 553.8L1924.6 552.5L1924.7 551.3L1924.7 550.0L1924.8 548.2L1924.8 546.5L1924.9 544.8L1925.0 543.0L1925.0 541.3L1925.1 539.7L1925.2 538.0L1925.2 536.4L1925.3 534.7L1925.4 533.1L1925.5 531.5L1925.5 529.9L1925.6 528.4L1925.7 526.8L1925.7 525.3L1925.8 523.8L1925.9 522.3L1925.9 520.8L1926.0 519.3L1926.1 517.8L1926.1 516.4L1926.2 515.0L1926.3 513.5L1926.3 512.1L1926.4 510.7L1926.5 509.4L1926.5 508.0L1926.6 506.6L1926.6 505.3L1926.7 503.9L1926.7 502.6L1926.8 501.3L1926.8 500.0L1926.9 498.2L1926.9 496.5L1926.9 494.8L1927.0 493.1L1927.0 491.4L1927.0 489.8L1927.0 488.2L1927.0 486.6L1927.1 485.1L1927.1 483.5L1927.1 482.0L1927.1 480.5L1927.1 479.0L1927.2 477.6L1927.2 476.2L1927.3 474.8L1927.3 473.4L1927.4 472.0L1927.5 470.2L1927.6 468.5L1927.6 466.7L1927.7 464.9L1927.7 463.2L1927.8 461.5L1927.9 459.9L1928.1 458.5L1928.3 457.1L1928.6 456.0L1929.0 455.0L1930.4 452.9L1932.0 452.0L1933.2 452.8L1934.5 454.4L1935.8 456.0L1936.9 456.5L1937.3 456.2L1937.6 455.8L1937.8 455.1L1938.1 454.3L1938.3 453.3L1938.5 452.1L1938.6 450.8L1938.7 449.4L1938.8 447.9L1938.9 446.2L1939.0 444.5L1939.1 442.7L1939.1 440.8L1939.1 438.9L1939.2 436.9L1939.2 434.9L1939.2 432.9L1939.2 430.9L1939.3 428.9L1939.3 427.0L1939.4 425.0L1939.4 423.1L1939.5 421.3L1939.6 419.6L1939.7 418.2L1939.8 416.8L1939.8 415.3L1939.9 413.9L1940.0 412.4L1940.1 410.9L1940.2 409.4L1940.2 407.8L1940.3 406.3L1940.4 404.7L1940.4 403.2L1940.5 401.6L1940.6 400.0L1940.6 398.4L1940.7 396.8L1940.8 395.2L1940.8 393.6L1940.9 391.9L1941.0 390.3L1941.1 388.7L1941.1 387.1L1941.2 385.5L1941.3 383.9L1941.3 382.3L1941.4 380.7L1941.5 379.2L1941.6 377.6L1941.7 376.0L1941.7 374.5L1941.8 373.0L1941.9 371.5L1942.0 370.0L1942.1 368.5L1942.2 367.1L1942.3 365.7L1942.4 364.3L1942.5 362.6L1942.6 361.0L1942.8 359.3L1942.9 357.7L1943.0 356.0L1943.1 354.4L1943.2 352.8L1943.4 351.3L1943.5 349.7L1943.6 348.1L1943.7 346.6L1943.9 345.1L1944.0 343.6L1944.1 342.0L1944.3 340.6L1944.4 339.1L1944.6 337.6L1944.8 336.1L1945.0 334.7L1945.2 333.2L1945.4 331.8L1945.6 330.3L1945.8 328.9L1946.1 327.5L1946.4 325.9L1946.7 324.4L1947.1 322.9L1947.4 321.5L1947.8 320.0L1948.2 318.6L1948.6 317.2L1949.1 315.7L1949.5 314.3L1949.9 312.9L1950.4 311.5L1950.8 310.1L1951.2 308.7L1951.6 307.3L1952.0 305.8L1952.4 304.4L1952.8 302.9L1953.2 301.4L1953.5 299.8L1953.8 298.4L1954.1 296.9L1954.3 295.5L1954.6 294.0L1954.9 292.6L1955.1 291.1L1955.4 289.6L1955.6 288.1L1955.8 286.6L1956.1 285.1L1956.3 283.6L1956.5 282.0L1956.7 280.5L1956.9 278.9L1957.1 277.4L1957.4 275.8L1957.6 274.2L1957.8 272.6L1958.0 271.0L1958.2 269.4L1958.4 267.8L1958.6 266.2L1958.8 264.6L1959.0 263.0L1959.2 261.5L1959.4 260.0L1959.5 258.5L1959.7 256.9L1959.8 255.3L1960.0 253.6L1960.1 252.0L1960.2 250.3L1960.4 248.6L1960.5 246.9L1960.6 245.2L1960.7 243.5L1960.9 241.8L1961.0 240.1L1961.1 238.4L1961.2 236.8L1961.4 235.1L1961.5 233.5L1961.7 231.9L1961.8 230.3L1962.0 228.7L1962.2 227.2L1962.3 225.8L1962.5 224.3L1962.7 222.9L1963.0 221.6L1963.2 220.3L1963.5 219.1L1963.7 218.0L1964.0 216.9L1964.6 214.9L1965.2 212.9L1965.8 211.0L1966.4 209.2L1967.1 207.5L1967.8 206.1L1968.5 205.0L1969.3 204.3L1970.0 204.0L1970.8 204.2L1971.6 205.0L1972.5 206.1L1973.4 207.6L1974.2 209.3L1975.1 211.2L1975.9 213.1L1976.7 215.1L1977.4 216.9L1977.8 218.2L1978.2 219.5L1978.6 220.8L1979.0 222.3L1979.3 223.7L1979.6 225.3L1979.9 226.8L1980.2 228.4L1980.5 230.0L1980.7 231.6L1981.0 233.2L1981.3 234.9L1981.5 236.5L1981.8 238.1L1982.0 239.8L1982.3 241.4L1982.6 242.9L1982.9 244.5L1983.2 246.0L1983.5 247.6L1983.8 249.2L1984.2 250.8L1984.5 252.3L1984.8 253.9L1985.1 255.5L1985.4 257.1L1985.8 258.7L1986.1 260.3L1986.4 261.8L1986.7 263.4L1987.0 264.9L1987.3 266.4L1987.6 267.9L1987.9 269.4L1988.2 270.8L1988.5 272.2L1988.8 274.0L1989.1 275.9L1989.4 277.9L1989.7 280.0L1990.0 282.0L1990.3 283.9L1990.6 285.7L1990.9 287.3L1991.2 288.6L1991.5 289.7L1991.8 290.4L1992.2 290.6L1992.6 290.4L1993.0 289.7L1993.5 288.7L1994.0 287.3L1994.5 285.7L1995.0 283.9L1995.5 281.9L1996.0 279.9L1996.4 277.9L1996.9 275.9L1997.3 273.9L1997.7 272.2L1998.0 270.7L1998.2 269.1L1998.4 267.3L1998.6 265.5L1998.7 263.6L1998.8 261.7L1998.9 259.7L1999.1 257.9L1999.2 256.1L1999.4 254.4L1999.6 252.8L1999.8 251.4L2000.1 250.2L2000.5 249.3L2000.9 248.6L2001.4 248.2L2002.5 248.1L2003.7 248.6L2005.1 249.4L2006.5 250.7L2007.7 252.1L2008.8 253.7L2009.2 254.6L2009.6 255.6L2010.0 256.6L2010.3 257.8L2010.5 259.1L2010.8 260.5L2010.9 261.9L2011.1 263.4L2011.3 264.9L2011.4 266.5L2011.5 268.2L2011.5 269.9L2011.6 271.6L2011.7 273.4L2011.7 275.1L2011.8 276.9L2011.8 278.7L2011.9 280.4L2011.9 282.2L2012.0 283.9L2012.1 285.7L2012.2 287.4L2012.3 289.0L2012.4 290.6L2012.5 292.1L2012.7 293.8L2012.8 295.5L2013.0 297.3L2013.1 299.1L2013.2 301.1L2013.4 303.0L2013.5 305.0L2013.6 307.0L2013.8 309.0L2013.9 311.0L2014.0 313.0L2014.2 314.9L2014.3 316.8L2014.5 318.6L2014.6 320.4L2014.7 322.0L2014.9 323.6L2015.0 325.1L2015.1 326.4L2015.3 327.6L2015.4 328.6L2015.6 329.5L2015.7 330.2L2015.8 330.8L2016.0 331.1L2016.1 331.2L2016.2 331.1L2016.4 330.7L2016.5 330.1L2016.6 329.3L2016.8 328.3L2016.9 327.1L2017.1 325.8L2017.2 324.3L2017.3 322.7L2017.5 321.0L2017.6 319.2L2017.8 317.3L2017.9 315.4L2018.0 313.4L2018.2 311.3L2018.3 309.3L2018.4 307.3L2018.6 305.2L2018.7 303.3L2018.8 301.3L2019.0 299.5L2019.1 297.7L2019.3 296.0L2019.4 294.4L2019.5 293.0L2019.7 291.7L2019.8 290.6L2020.0 288.5L2020.2 286.3L2020.4 284.3L2020.6 282.5L2020.8 281.0L2021.2 280.0L2021.7 279.5L2022.4 279.7L2023.2 280.5L2024.1 281.7L2025.2 283.2L2026.2 285.0L2027.2 286.9L2028.2 288.8L2029.0 290.6L2029.5 291.9L2029.9 293.2L2030.4 294.7L2031.1 296.0L2031.5 297.6L2031.9 299.1L2032.2 300.7L2031.7 302.6L2032.0 304.2L2033.2 305.7L2033.6 307.3L2033.6 309.0L2034.0 310.6L2034.6 312.1L2035.1 313.6L2035.6 315.1L2036.1 316.5L2035.9 318.3L2036.5 319.7L2038.5 320.6L2039.1 322.0L2038.7 323.8L2039.3 325.2L2040.6 326.3L2041.2 327.7L2041.4 329.3L2041.9 330.8L2042.0 332.4L2042.6 333.8L2043.2 335.2L2043.7 336.6L2044.7 337.8L2045.1 339.3L2044.8 340.9L2045.2 342.4L2046.9 343.5L2047.3 345.0L2047.1 346.6L2047.5 348.1L2048.1 349.5L2048.5 350.9L2048.8 352.4L2049.2 353.8L2048.9 355.5L2049.4 356.9L2049.8 358.4L2050.5 359.9L2051.4 361.2L2052.2 362.6L2053.7 363.5L2054.5 364.8L2055.7 365.9L2056.6 367.2L2057.1 368.7L2057.9 370.1L2059.1 371.3L2059.8 372.7L2060.6 374.1L2061.2 375.7L2060.4 377.7L2060.9 379.1L2062.5 380.4L2062.9 382.2L2062.1 384.3L2062.4 386.2L2063.2 388.1L2063.4 390.2L2063.9 392.2L2064.1 394.2L2064.5 396.1L2064.7 398.0L2065.5 399.7L2065.7 401.3L2065.3 402.9L2065.6 404.1L2066.2 405.0L2066.5 405.7L2066.3 406.3L2066.2 406.4L2066.7 406.0L2067.5 404.9L2069.5 403.8L2070.5 401.9L2072.0 400.6L2073.1 399.0L2073.5 396.6L2074.6 394.9L2075.7 393.8L2076.6 393.4L2076.6 394.2L2077.0 394.7L2078.5 395.0L2079.2 396.3L2080.7 397.4L2081.4 399.1L2082.1 400.9L2082.8 402.8L2083.6 404.7L2084.3 406.6L2084.0 408.8L2084.6 410.5L2085.6 411.9L2086.3 413.3L2087.1 414.7L2087.8 416.2L2087.7 418.0L2088.5 419.4L2090.0 420.4L2090.7 421.8L2090.6 423.7L2091.3 425.1L2092.0 426.5L2092.7 428.0L2093.9 429.3L2094.5 430.7L2094.5 432.5L2095.1 434.0L2096.4 435.3L2096.9 436.9L2096.7 438.7L2097.2 440.3L2097.4 442.1L2098.0 443.6L2099.3 444.9L2100.0 446.3L2100.6 447.8L2101.3 449.1L2101.6 450.7L2102.7 452.2L2104.1 453.3L2105.3 454.3L2106.6 455.3L2107.9 456.2L2108.9 457.4L2110.0 458.4L2110.8 459.7L2111.6 461.1L2112.4 462.0L2112.8 463.2L2112.9 464.7L2113.3 466.3L2115.0 467.7L2115.3 469.6L2115.4 471.5L2115.7 473.5L2115.8 475.5L2116.0 477.5L2116.9 479.4L2117.1 481.3L2117.5 483.2L2117.7 485.0L2118.5 486.6L2118.8 488.1L2117.5 489.7L2117.8 490.9L2118.8 491.7L2119.1 492.5L2119.5 492.9L2119.8 493.1L2121.1 493.5L2122.1 492.2L2121.9 490.0L2122.8 488.2L2124.8 486.9L2125.7 485.5L2125.7 483.2L2126.8 481.6L2127.5 479.4L2128.8 477.9L2130.5 477.2L2132.0 476.9L2132.9 477.6L2133.5 478.4L2132.8 480.0L2133.3 481.3L2133.3 482.9L2133.7 484.7L2134.2 486.6L2134.7 488.6L2135.8 490.6L2136.2 492.7L2136.7 494.9L2137.1 497.0L2138.2 498.9L2138.6 500.8L2138.0 502.7L2138.4 504.2L2139.3 505.3L2139.7 506.3L2140.5 506.5L2140.6 506.6L2141.2 507.0L2141.7 506.3L2141.4 504.9L2141.8 503.6L2142.3 502.1L2142.8 500.3L2144.6 498.6L2145.1 496.5L2144.3 494.2L2144.8 492.1L2144.9 489.9L2145.5 488.0L2146.0 486.3L2146.5 484.8L2147.2 483.6L2147.9 482.6L2149.1 482.3L2150.5 482.5L2152.0 483.3L2153.3 484.6L2154.4 486.2L2155.5 487.6L2156.5 488.6L2157.4 489.7L2158.3 490.9L2159.1 492.2L2159.2 493.9L2160.0 495.3L2160.6 496.9L2161.3 498.4L2161.8 499.7L2162.2 501.3L2162.7 503.1L2163.1 505.0L2163.5 507.0L2163.9 509.0L2164.2 510.9L2164.6 512.8L2164.9 514.6L2165.2 516.1L2165.5 517.4L2165.9 518.4L2166.2 519.0L2166.5 519.2L2166.7 519.1L2166.9 518.8L2167.1 518.4L2167.3 517.8L2167.5 517.1L2167.6 516.3L2167.8 515.3L2168.0 514.2L2168.1 513.0L2168.3 511.7L2168.5 510.3L2168.6 508.8L2168.8 507.2L2168.9 505.5L2169.1 503.8L2169.2 502.0L2169.4 500.1L2169.5 498.2L2169.6 496.3L2169.8 494.3L2169.9 492.3L2170.1 490.3L2170.2 488.3L2170.3 486.3L2170.5 484.2L2170.6 482.2L2170.7 480.2L2170.9 478.2L2171.0 476.3L2171.1 474.4L2171.3 472.5L2171.4 470.7L2171.6 469.0L2171.7 467.3L2171.8 465.9L2171.9 464.5L2172.1 463.1L2172.2 461.6L2172.3 460.2L2172.4 458.8L2172.5 457.3L2172.7 455.8L2172.8 454.4L2172.9 452.9L2173.0 451.4L2173.1 449.9L2173.2 448.4L2173.3 446.9L2173.5 445.4L2173.6 443.9L2173.7 442.4L2173.8 440.9L2173.9 439.4L2174.0 437.9L2174.1 436.3L2174.2 434.8L2174.4 433.3L2174.5 431.7L2174.6 430.2L2174.7 428.6L2174.8 427.1L2174.9 425.6L2175.0 424.0L2175.1 422.5L2175.2 421.0L2175.3 419.4L2175.5 417.9L2175.6 416.3L2175.7 414.8L2175.8 413.3L2175.9 411.8L2176.0 410.2L2176.1 408.7L2176.2 407.2L2176.3 405.7L2176.4 404.2L2176.6 402.7L2176.7 401.2L2176.8 399.7L2176.9 398.2L2177.0 396.6L2177.1 395.0L2177.2 393.4L2177.3 391.7L2177.4 389.9L2177.5 388.2L2177.6 386.4L2177.6 384.6L2177.7 382.7L2177.8 380.9L2177.8 379.0L2177.9 377.1L2178.0 375.3L2178.0 373.4L2178.1 371.5L2178.2 369.6L2178.2 367.7L2178.3 365.9L2178.3 364.0L2178.4 362.2L2178.5 360.3L2178.6 358.6L2178.6 356.8L2178.7 355.1L2178.8 353.4L2178.9 351.7L2179.0 350.1L2179.1 348.5L2179.2 347.0L2179.4 345.5L2179.5 344.1L2179.6 342.7L2179.8 341.4L2180.0 340.2L2180.1 339.0L2180.3 337.9L2180.5 336.9L2180.7 336.0L2181.0 335.1L2181.2 334.3L2181.4 333.7L2181.7 333.1L2182.0 332.6L2183.7 331.4L2185.5 330.8" fill="none" stroke="#1b70df" stroke-width="8" stroke-linejoin="round" stroke-linecap="round"/>
<text transform="translate(90.48 77.73) scale(0.9489 1)" font-size="77.04">100</text>
<text transform="translate(127.03 468.73) scale(0.9489 1)" font-size="77.04">80</text>
<text transform="translate(127.03 859.73) scale(0.9489 1)" font-size="77.04">60</text>
<text transform="translate(127.03 1250.73) scale(0.9489 1)" font-size="77.04">40</text>
<text transform="translate(127.03 1641.73) scale(0.9489 1)" font-size="77.04">20</text>
<text transform="translate(158.86 1711.20) scale(0.9389 1)" font-size="80.30">4000</text>
<text transform="translate(436.16 1711.20) scale(0.9389 1)" font-size="80.30">3500</text>
<text transform="translate(714.59 1711.20) scale(0.9389 1)" font-size="80.30">3000</text>
<text transform="translate(993.21 1711.20) scale(0.9389 1)" font-size="80.30">2500</text>
<text transform="translate(1271.64 1711.20) scale(0.9389 1)" font-size="80.30">2000</text>
<text transform="translate(1548.37 1711.20) scale(0.9389 1)" font-size="80.30">1500</text>
<text transform="translate(1826.80 1711.20) scale(0.9389 1)" font-size="80.30">1000</text>
<text transform="translate(2125.21 1711.20) scale(0.9389 1)" font-size="80.30">500</text>
<text transform="translate(849.75 1816.50) scale(0.9163 1)" font-size="90.84" font-weight="bold">Wavenumber</text>
<text transform="translate(1345.71 1814.42) scale(1.1421 1)" font-size="85.49" font-weight="bold">(</text>
<text transform="translate(1375.36 1815.72) scale(0.9198 1)" font-size="88.12" font-weight="bold">cm</text>
<text transform="translate(1476.10 1797.59) scale(0.6713 1)" font-size="105.71" font-weight="bold">−</text>
<text transform="translate(1510.40 1782.90) scale(0.9184 1)" font-size="61.21" font-weight="bold">1</text>
<text transform="translate(1538.54 1814.49) scale(1.0716 1)" font-size="85.78" font-weight="bold">)</text>
<text transform="translate(76.90 1171.23) rotate(-90) scale(0.9832 1)" font-size="83.66" font-weight="bold">Transmittance (%)</text>
<rect x="1828" y="103" width="145" height="7" fill="#ef4141"/>
<rect x="1828" y="178" width="145" height="7" fill="#1b70df"/>
<text transform="translate(1978.75 126.29) scale(1.0301 1)" font-size="61.19" font-weight="bold">CE</text>
<text transform="translate(1980.00 201.40) scale(1.0007 1)" font-size="60.15" font-weight="bold">PtNPs</text>
<line x1="578.0" y1="1120.0" x2="693.5" y2="1175.5" stroke="#000" stroke-width="7"/>
<line x1="574.3" y1="1247.5" x2="561.0" y2="1292.0" stroke="#000" stroke-width="6"/>
<line x1="830.6" y1="815.4" x2="892.8" y2="845.3" stroke="#000" stroke-width="5"/>
<line x1="830.6" y1="892.0" x2="838.4" y2="952.9" stroke="#000" stroke-width="5"/>
<line x1="1568.0" y1="1016.1" x2="1495.1" y2="1048.1" stroke="#000" stroke-width="7"/>
<line x1="1576.0" y1="1029.7" x2="1588.0" y2="1093.0" stroke="#000" stroke-width="6"/>
<line x1="1682.5" y1="746.1" x2="1732.1" y2="803.7" stroke="#000" stroke-width="5"/>
<line x1="1679.6" y1="853.5" x2="1703.6" y2="902.9" stroke="#000" stroke-width="5"/>
<line x1="1864.6" y1="892.8" x2="1777.1" y2="977.7" stroke="#000" stroke-width="8"/>
<line x1="1882.3" y1="920.6" x2="2007.7" y2="995.4" stroke="#000" stroke-width="4"/>
<line x1="1858.2" y1="1039.8" x2="1786.0" y2="1075.2" stroke="#000" stroke-width="6"/>
<line x1="1876.0" y1="1095.5" x2="1846.8" y2="1161.4" stroke="#000" stroke-width="6"/>
<text transform="translate(662.40 1217.40) scale(0.9637 1)" font-size="46.62" font-weight="bold">3386.08</text>
<text transform="translate(523.80 1328.80) scale(0.9637 1)" font-size="46.62" font-weight="bold">3375.01</text>
<text transform="translate(866.40 885.30) scale(0.9637 1)" font-size="46.62" font-weight="bold">2933.48</text>
<text transform="translate(782.90 995.37) scale(0.9637 1)" font-size="46.62" font-weight="bold">2932.63</text>
<text transform="translate(1367.21 1091.20) scale(0.9637 1)" font-size="46.62" font-weight="bold">1596.87</text>
<text transform="translate(1524.31 1124.00) scale(0.9637 1)" font-size="46.62" font-weight="bold">1598.24</text>
<text transform="translate(1684.81 842.70) scale(0.9637 1)" font-size="46.62" font-weight="bold">1406.64</text>
<text transform="translate(1640.51 942.80) scale(0.9637 1)" font-size="46.62" font-weight="bold">1406.54</text>
<text transform="translate(1700.01 1016.30) scale(0.9637 1)" font-size="46.62" font-weight="bold">1078.84</text>
<text transform="translate(1948.41 1025.10) scale(0.9637 1)" font-size="46.62" font-weight="bold">1047.28</text>
<text transform="translate(1691.21 1110.00) scale(0.9637 1)" font-size="46.62" font-weight="bold">1079.51</text>
<text transform="translate(1798.91 1198.70) scale(0.9637 1)" font-size="46.62" font-weight="bold">1046.99</text>
</svg>
</body></html>
